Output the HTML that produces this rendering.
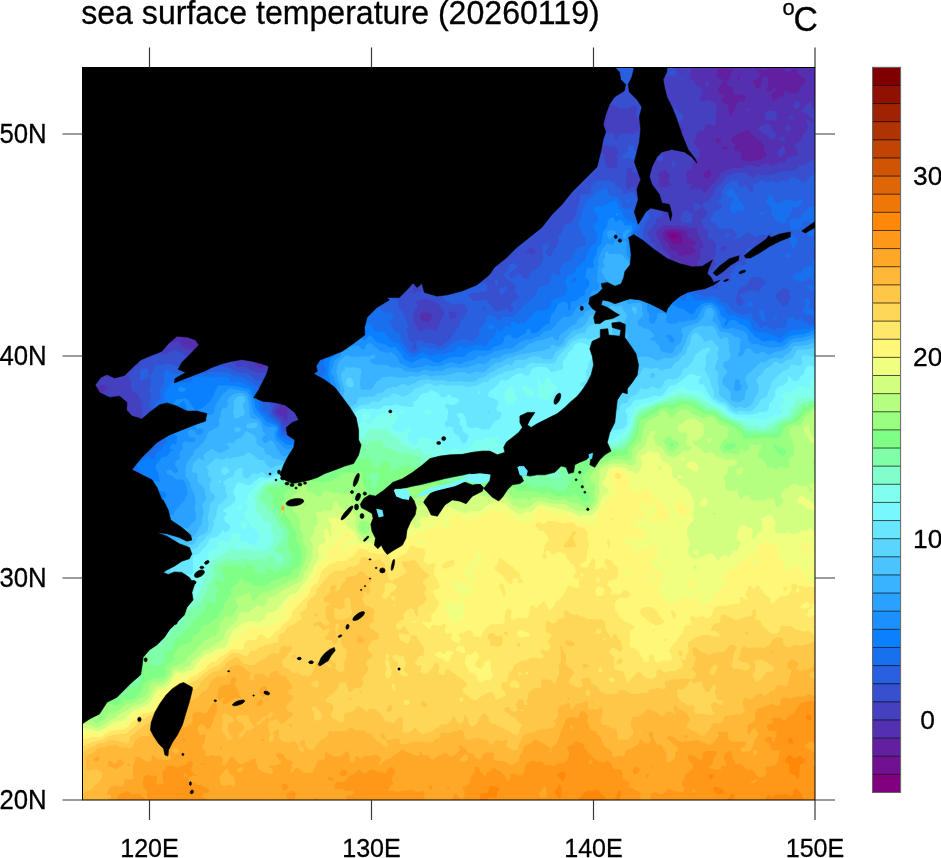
<!DOCTYPE html><html><head><meta charset="utf-8"><title>sea surface temperature</title>
<style>html,body{margin:0;padding:0;background:#fff}svg{display:block}text{font-family:"Liberation Sans",sans-serif;fill:#000;stroke:#000;stroke-width:.3px}</style></head><body>
<svg width="941" height="858" viewBox="0 0 941 858">
<rect width="941" height="858" fill="#fff"/>
<defs><clipPath id="mapclip"><rect x="82.5" y="67.5" width="732.5" height="732.5"/></clipPath></defs>
<g clip-path="url(#mapclip)">
<rect x="79" y="64" width="741" height="741" fill="#800080"/>
<path fill="#711090" fill-rule="evenodd" d="M82 66l1-1.5 2 .5 2 0 1.5-1 3 0 4 4 0 2-.5 .5-2-1-.5 .5 .5 2 0 2-.5 2 .5 .5 2 1.5 1.5 2 .5 .5 2 .5 2-1 2 .5 2 1 2 0 1-1.5 1-2 0-.5 .5-1.5 1-4 0-2-1-2-.5-.5-2-1.5-.5 0 0-2 2 0 .5 .5 .5 1.5 1.5 1 2 .5 2 0 4 2 2 0 2-1.5 1-2 .5-2 694.5 0 0 740-740 0 0-681 1 1 1 .5 2 2 2 3 2 2 1 .5 1 1 1.5 1 2.5 2.5 2 1.5 1.5-2 1-2 1.5-2 2-1.5 0-.5 .5-2 0-2-.5-1.5-.5-.5-1-2-.5-.5-2-1-2-.5-2 1-6 1.5-2 1-2-1.5-1.5-2-2.5-2.5 0-7.5 1.5-2 0-2-.5-2-1-2 .5-2-.5-1.5 0-27.5 1-1 1-1.5 0-.5ZM87 107l-1 1-1 .5-1 1.5-.5 2 1 2 .5 .5 2 0 2.5-2.5 .5-2-1-2 0-.5ZM117 101.5l-1 .5-1 1-2 1-2 .5-2 0-1 1.5 1 1.5 .5 .5 1.5 .5 1.5 1.5-.5 2 1 .5 2 .5 4 0 2-.5 1-.5 .5-2-1.5-6-1-2-1-1ZM131 96l-.5 0-1.5 1-1 1 0 2-.5 2 0 2 1.5 3 2 0 1-1 1-2 1.5-2 .5-.5 4 0 1-1.5-1-2-2-1-1-1-1-.5-2-.5ZM153 83l-.5 1-1.5 1-2 0-1.5 1-.5 0-2 1-1 1-1 4 .5 2 1.5 1.5 2 .5 2-.5 2-2 2 0 .5 .5 1.5 3 2 1 2-.5 2-1 2 0 .5-.5-.5-1-1-1-.5-2-.5-.5-2-1-2 1-1.5-1.5 1.5-1 .5-1 0-2-.5-1-2-2ZM181 128l-.5 0-.5 2 1 2 1-2-1-2ZM673 233.5l-1.5 .5-1 2 .5 1 1.5 1 2.5 0 2-2-1-2-1-.5ZM129 117.5l-4 2-.5 .5-1.5 1-.5 1-1 4-.5 1.5-1 .5 1 .5 .5-.5 1.5-.5 1.5 .5 .5 .5 .5-.5 1.5-2 2-1 1-1 .5-2 0-2-1-2ZM127 130.5l-2 1.5 .5 2-.5 1.5-.5 .5 .5 2 2 1.5 .5 .5 1.5 1 .5 1 1.5 1 2 1 2-1.5 1-.5 1-1 .5-1 0-2-.5-1-1.5-1-.5 0-1.5-2-.5-.5-2-1.5-2 0ZM96.5 72l.5 0ZM101.5 74l1.5-1 .5 1 .5 2-1 1.5-2-.5-.5-1 .5-1Z"/>
<path fill="#6220a0" fill-rule="evenodd" d="M151.5 64l62.5 0 .5 2 0 2 .5 2 0 .5 4 3 4 0 1.5 .5 1 0 1.5-.5 2 0 2-1.5 2 2 .5 0 1.5-1 .5-1 0-2 1-2 0-4 32 0-1.5 3-2 0-1.5-1-1 0-1.5 .5-2 .5-1 1 .5 2 .5 1.5 2 .5 2-1.5 6-1.5 2 2 4 1 2-1.5 1.5-.5 .5 0 2-.5 2 0 5 2.5 1 1 2 1 .5-2-.5-1-3-3-1-2-.5 0-1.5-1-1-1 535 0 0 740-740 0 0-534 1.5 2 .5 1 1 1 .5 2 .5 1 1.5 1 4.5 0 2 .5 2 1.5 2 1 1.5-1 .5-.5 2-.5 4 0 .5-1-1-2-2-2-3-2-1 0 0 2-1.5 3-2 0-2-1-1-2 1-1 .5-1 1.5-1.5 0-.5-1.5-2-1-2-1.5-1-2 0-2-2-1.5-1-.5-.5-4 0 0-50 1-1.5 0-2-.5-2-.5-.5 0-57.5 2 2 2 1.5 .5 .5 3 4 .5 .5 4 0 2 1.5 2 2 0 .5 .5 1.5-1 2 0 2 1 0 5.5-5.5 1.5-.5 .5 0 2-2 0-2-1-2-1-1.5-2-2-2-.5-1-2 0-2 1-2 2 1.5 2.5 2.5 1.5 1 2 2 2 .5 .5 .5 1.5 2 2 2 2 1.5 2 0 2.5 2.5 1.5 2 2 0 2 2-1 2-1 1-2 .5-.5 .5 .5 .5 .5 1.5 1.5 1 2 1 2-.5 2-1.5 .5-2 1.5-.5 2 1 2 2 2 0 2 2 1 1.5 3 3 2-.5 4 4 2 1.5 1.5 2 .5 .5 1 1.5 0 2 1 1 1.5 1 2 2 0 2 .5 .5 2 1.5 .5 0 1.5-1 2-.5 2-1 2 .5 2-.5 2-1 2 0 2 1 .5 .5 1.5 2 2 .5 1.5 1.5 .5 2-.5 2-3 4-.5 .5-2 1.5-.5 2 1 2 1.5 1.5 2 1 1-.5 1-2 1.5-2 2-2 1-2-.5-2 .5-2 1.5-2 0-.5 2-1 .5-.5-.5-1.5 0-1 2-.5 0-1.5-.5-1.5 .5-1.5 0-.5 2-1 2 0 1-1 .5-2 0-2-.5-2 0-2 1-2 2-.5 2 0 2.5 2.5 .5 2 1 .5 .5-.5 0-4 3-4 .5-2 0-2.5 .5-1.5 2-2-.5-1 0-1.5 1.5-1.5 .5-1.5 0-1-.5-1.5-1.5-1.5-4-2-2-2-2 .5-.5-1-1.5-1.5 0-1.5 2-2 2 2 2 0 1-1 1-2-.5-2-1-2-.5-1.5-1.5-.5-2-4 0-2-2.5-2.5-2-1.5 .5-2-4-4-1-2 .5-1.5 1-.5 .5-2-1.5-3-1-1-1-1.5-2-1-1 .5-1 4-2-1.5-2.5-2.5-1.5-3-2-1-2-1.5-.5-.5-1.5-1-.5-1-1.5-1-1-1 0-2-.5-2-2-2 .5-2-1-1.5-1.5 1.5-.5 0-2-1.5-.5-.5-1.5-1-2-2-.5-1 0-2-1.5-1-.5-1-.5-2-4-4-1-2-2-2 .5-2-.5-1-1-1 0-2-1-1-1.5-1ZM177 91l-.5 1 .5 .5 2-.5ZM179 92l-.5 2 0 2 .5 .5 2 .5 .5-1-1-2ZM189 79.5l-1 .5-1 4 1 4 1 1 2 .5 .5-1.5 0-2 1-2-1-2-2-2ZM221 163.5l-1.5 .5-.5 .5-.5 1.5 .5 .5 2 0 1-.5-1-2ZM223 177.5l-.5 .5-1.5 3-1.5 1 1 2 .5 0 4 2 2-1 1-1 1-2 1 2 2 2 1 1.5 1-1.5 .5-2-1.5-1-2-1 0-.5-2 0-.5-1.5-.5-2-1-1.5-2 1ZM231 85l-1.5 1-.5 .5-2 .5-1 1 .5 2 .5 .5 2-.5 4-2 .5-2-.5-.5ZM253 71.5l-1.5 .5-.5 .5-2 .5-2 1-2 2 0 .5 .5 1.5 2 4-.5 1.5-.5 .5-1.5 1 0 1-.5 2 1 2 1 4-1 2-.5 .5-1.5-.5-2.5 0-1.5-2-.5-.5-2-1.5-.5 0-1.5-.5-2-1-2 1.5 0 .5-.5 1.5 .5 1.5 0 .5 2 2 2 4 2 2 .5 0 1.5 1 2 1 3.5 0 .5-2 2-2 1 2-1 1-2 1 1 4 1 1 1.5-1 .5-.5 2-1.5-1.5-2 0-2-.5-2 1-2 0-2 1-.5 1.5-1.5 .5-2 0-1.5 2 3 .5 .5 1 2 .5 0 2 .5 1-.5-.5-2-.5-1.5-.5-.5 .5 0 .5-2 0-4-.5 0-2-.5-1-1.5-.5-2 0-2 1.5-2 0-1-2-.5 0-.5-1.5-6ZM293 75.5l-.5 .5 0 2 .5 2 0 1 2-1-1.5-2 0-2ZM299 98l-.5 0-1.5 1-.5 1 .5 1.5 .5 .5 1 2 .5 .5 0-.5 .5-2 0-2-.5-2ZM307 108l-4 1-1.5 1-.5 2 1 2 1 .5 1.5-.5 .5 0 2-.5 2-1 2-2 1-.5-1-1.5-2 0-1.5-.5ZM669 231.5l-1.5 .5-.5 .5-.5 1.5 0 2 1 2 3.5 3.5 1 .5 1 1 2 1 2-.5 2 .5 2.5 0 1.5-2-1-4 0-2-1-2-2-1.5-2-1-2 0-2-.5-2 0ZM81 236.5l-1.5 1.5 1.5 2 2 .5 .5-.5 0-2-.5-.5ZM115 166l-2 0-1.5 2 0 2 .5 2 0 2 1 2 2 0 2-2 1-4 0-2-1-1-2-1ZM119 165l-.5 1 .5 .5 .5-.5ZM175 215l0 1 1 0ZM177 218l0 2 .5 0ZM179 222ZM181 223.5l0 .5-1 2 1 1 2-1-1.5-2ZM183 226.5l-.5 1.5 .5 .5 1.5-.5ZM185 228.5l-.5 1.5 2.5 2.5 2 .5 1-1 0-2-1-1-2-.5ZM205 208.5l-1 1.5-1 1-.5 1-1.5 2 1 4-1 1-1.5 1-.5 .5-.5-.5-1-2 1.5-1 1-1-1-.5-2-2-2-1-4-1-2 0-1 .5-1 1-.5 1 0 8 .5 .5 2 3 2 1 1.5-.5 .5 0 2-1 2-.5 2 1 .5 .5 1.5 2 1 2 0 4-.5 2 .5 2 3 3 1.5 1 .5 .5 2 1 .5 .5 .5 2 1 2 2 .5 2 1.5 1 0-.5-2-2-4-.5-.5-2-1.5-.5-2 0-2 .5-1.5 0-.5 1.5-2 1-2 .5-2 1-2 .5 0 1.5-.5 1.5 .5 1 0 .5-2-2-4-1-1.5 0-.5-.5-2 0-2-2-4-2-2-1.5-1-2-.5-2 0ZM231 191l-1.5 1 1.5 2 .5-2ZM235 187.5l-1 .5 1 .5 .5-.5ZM237 181.5l0 .5-1.5 2 .5 2 1 1.5 2 0 .5 .5 1.5 1 2 1 1 2 0 2-1 2 0 .5-.5 1.5 .5 2 2 2 .5 0 1 2 0 2-2 2 .5 2 0 2 2 1 1 1 1 .5 .5-.5-.5-1.5 0-1 2-1.5 0-.5-2-1-.5-.5-.5-2 3-3 1 1 .5 2 .5 0 2 1 2 0 2-.5 .5-.5-.5-2 0-.5-2-.5-2 0-1.5-1-.5-1.5 0-4.5 1.5-2-1-2-.5-.5-2-.5-1.5-1-.5-.5-2-1-2.5-2.5-1-2-.5 0-2-2-2 1-1-1ZM239 147l-.5 1-.5 2 1 1.5 2-1 .5-.5 0-2-.5-.5ZM241 113.5l-.5 .5 .5 1 .5-1ZM243 145.5l-1 .5 1 1 .5 1 0 2 1.5 1 .5-1 0-2-.5-2ZM303 128l2 1.5 2 0 0-2-2-1ZM217 252l-.5 2 2 2 .5 0 2 2-.5 2 .5 .5 1 1.5 0 2 1 .5 1.5-.5 .5-2-1-2-1-1.5-1.5-.5 1.5-3 2-2 .5-1-.5-.5-1.5 .5-.5 .5-2 1-2-.5-2-1ZM231 232l-2 2-1.5 2 0 2 .5 2 1 2 2 0 1.5-2 1-2 0-4-.5-1ZM237 202l-1.5 2 .5 2 1 1 2 .5 1-1.5 0-2-1-2ZM243 231l-3 3-1 2 1 2 1 .5 2 0 2-1 1.5-1.5 1-2-1-2-1.5-.5ZM251 238l-.5 2 .5 2 .5-2ZM253 269.5l0 1.5 1-1ZM229 247.5l-.5 .5-1.5 1-1 1 1 1 2-.5 1-.5-.5-2ZM124.5 74l.5-.5 2 .5-2 .5ZM85 82l0-.5 2 0 1 .5 1 1 .5 1-.5 2-2-.5-2-1.5ZM253 82l1 0-1 0ZM121 84l2-.5 .5 .5 1 2-1.5 .5-.5-.5-1.5-2ZM254.5 88l.5-.5 2 1 1 1.5-1 2-1.5-2-.5-1ZM243 98l0-1 0 1ZM165.5 108l2 0 2 2-.5 0-2 .5-2 0-.5-.5 .5-2ZM172 108l1-.5 1 .5-1 1ZM174 110l1-.5 .5 .5-.5 .5ZM194.5 120l.5-.5 1.5 .5-1.5 .5ZM193 128l1.5 2 0 2-1.5 2-2-.5-2-3 0-.5 2-1ZM199 140l2-1.5 2-.5 2 1 1 1-1 1.5-.5 .5-1.5 2-.5 0-1.5 .5-2 0 0-.5-1-2ZM151 142l6-1.5 2 0 2 1 .5 .5 1.5 1 1 1 1 .5 6 0 .5-.5 1-2 .5-2 2 .5 1 1.5 1 2-.5 2 0 4-3 2-.5 1.5-2-.5-2 1-.5 0 0 2 .5 .5 1 1.5-.5 2-.5 .5-2 1-1.5 .5-.5 0-1.5 2-.5 1-2 0-2-1-2-2-2-1.5-2-1-1.5 .5-.5 0-2 2-1.5-6-.5-1.5 0-2.5 1-2 1-1.5 .5-.5 .5-2 0-2ZM161 150l-2 0-.5 2 .5 1.5 0 .5 .5 2 0 2 1 2 .5 .5 .5-.5 1-2 .5 0 1-2 2-2-.5-2-.5-1-1-1-1-.5ZM179 150l2-2 1 2 2 2-1 1.5-2 .5-1.5-2ZM135.5 154l1.5-.5 .5 .5-.5 .5ZM189 154ZM172.5 158l.5-1.5 .5 1.5-.5 .5ZM179 158l0-.5 0 .5 1 2-1 .5-.5-.5ZM174.5 162l.5-.5 1 .5-1 .5ZM134 164l1-1.5 1.5 1.5 .5 1.5 0 1-2 .5-.5-1ZM186.5 164l.5-.5 .5 .5-.5 .5ZM179 170l2-.5 2 .5 1 2 0 2-1 1-2 .5-2 0-2-1.5 0-.5 .5-1.5ZM227 182l1 0-1 0Z"/>
<path fill="#5430b0" fill-rule="evenodd" d="M171 64l5 0-.5 2 .5 2 0 2-1 2-1.5-2-1-2-.5-2-1-2ZM295.5 64l421 0 0 2 1 4-.5 2 0 .5-1 1.5 0 2 1 1 6 3 0 .5 1 1.5-1 .5-2 1.5-1.5 2-2 4 1.5 3 4 2 1 1-1 2-2 2 1 2 3 1.5 1.5 .5 .5 .5 2 1.5-1 4 1 4 0 1.5 1.5 .5 .5 0 1-2 1-1.5 0-.5 2-4 1.5-2 .5-2 1-2 1-.5 2 .5 2 0 2-2 .5-2-1-2-1.5-1.5-2-.5-4 1-2-.5-1-.5-.5-2 0-2-.5-1.5-.5-.5-1.5-1-2-.5-.5-.5-1.5-2 1-4 1-1.5 0-.5 2-4 1.5-2 .5-2-1-2-.5-2 .5-2 10.5 0 .5 1.5 .5 .5 0 2 1.5 .5 0-.5 1.5-2 .5 0 1-2 18.5 0 0 2 .5 2-.5 2-1.5 1-1.5-1-.5-.5-4-1-.5-.5-1.5-.5-2 0-.5 .5 .5 1 2 1 1.5 2 2 4-2 2-1.5 1-2 .5-1 .5-1 1.5-.5 .5 1 2 3 4 .5 .5 2 0 1-.5 .5-2 .5-1 0-1 1-2 1-4 2-2 2 1 1 1 0 4 .5 2-1 4-.5 1-1 1 3 1.5 2 0 2-3 1-.5 1.5 0 .5 2-1 1-2 1-1 2-.5 2 0 2 1 2 .5 .5 2 .5 1-1 1-.5 2-2 2-1 2 0 1-.5 0-4 1-1 2 .5 2 2 2 0 2-.5 4 0 .5-1 1.5-2 1-2 1-1 .5-1 2-2 1.5-2 0-.5 .5-1.5-1-2-1.5-1-2-1-.5 0-1.5-1.5-1-.5-1-2 0-.5-.5-1.5-1-4 0-2 11 0-.5 2 .5 2 .5 .5 2-2 2-1 1.5-1.5 6.5 0 0 740-740 0 0-486 .5 0 1-2-1.5-.5 0-6 1.5 .5 .5 .5 1 1.5 1 2 1.5 2 1 2 0 2 1 2 .5 0 2 .5 2 0 2-.5 2-2 0-1 .5-1-.5 0-2-1.5-2-.5-1.5-2 1.5-3 2 .5 2-.5 1-1 1-1.5 2-2 2-.5 0-1-1.5-3 .5-2 1-2 0-.5-.5-1.5-1-2-.5-.5-1-1.5-1-1-2-1-2 .5-2 0-.5-.5 0-2 .5-.5 2-.5 4 0 2-.5 2 1.5 .5 0 1.5 2 1 0 1 .5 2-1 2-.5 2 0 1 1 0 4 1 2 0 .5 .5 1.5 1 4 .5 1 1 1 1 .5 2-.5 .5 0 1.5-.5 2 1 .5 1.5 .5 2-1 2-4 0-2 .5-1.5 1.5 .5 2 1 1 2 1 2 0 2-.5 2-1 .5-.5 1.5-2 2 .5 3.5 3.5 .5 0 2 1.5 1.5 .5 .5 .5 2 .5 2-.5 2 .5 .5 1 .5 2 1 2 2 1 2-.5 .5-.5 1.5-1 1-1 1-1.5 1-.5-.5-2-.5-.5-2-1-.5-.5 .5-2 2-1.5 2-1 1.5 .5 .5 0 2 1.5 1 .5 0 2 .5 2 2.5 0 4 1 2-.5 2 0 2-.5 6.5 0 2-2 1-2-.5-2 1-1 2 1 2 0-1.5-2-.5-2 .5-2 1-2-1.5-2-2-1-1-1-3-1.5-1.5-.5-.5 0-2-1-2-.5-2 .5-1.5 1-2.5 0-1-2-1-1.5-2 1.5-1 2-1 1-2 0-2-1-.5 0-2-2-2-4-.5-2 1-1 2-1 1 0 1-.5 1.5 .5 .5 0 1 2 1 1.5 2 .5 1.5-2 2.5-2.5 4-1 4 1 1.5 .5 .5 0 2 .5 2-1 1-1.5 1-1 2-4 1-1 1-2-3-6-.5-2 1.5-2 0-1-2-.5-.5-.5 .5-1.5 2 1.5 2 .5 1-.5-1-2 .5-2 2-4 1.5-1.5 0-.5 2-1.5 2 0 1.5 1.5 .5 1.5 0 2.5 1.5 2 .5 1 1.5 1-2 2-1.5 .5-2 .5-2 1-.5 2 0 2 .5 2-1 2-1 1.5-.5 .5 .5 1.5 .5 .5 1.5 .5 1.5-.5 .5 0 2-1.5 2 1.5 2 2 2 1 1 1 1 .5 2-.5 .5-2 1.5-1 2 .5 1 .5 1 1.5 2 2 1 .5 1 1 2 1 1.5-2 0-4 .5 0 4-1 4 0 2-1 2-2 0-1 2 .5 0 .5 1.5 2 1 2 1.5 .5 2 1.5 2-.5 2 0 .5 .5-.5 2-2-1-1 1 1 1.5 0 .5 1.5 2 .5 .5 .5 1.5 0 2 .5 2-1 1.5-1.5 .5-.5 0-2 .5-2 1.5-2 1-1.5 1-.5 .5-1 1.5 0 6 .5 2 .5 .5 2 1 2-1 1.5-.5 .5-.5 2-1 2 1 2 .5 2 0 2 1 .5 1 1.5 1.5 8 2 2 1 1.5-.5 .5 0 2 .5 2 0 .5-.5 1-2 0-2-.5-2 2-2 1-2-.5-2-1-2-.5-.5-.5-1.5-1-2-.5-.5-2-1-1.5-.5-2-2-.5-1-1-1 4-2 .5-2-.5-2-2-4-1-1-.5-1 .5-2 0-.5 2-1 4 1 2-1 .5-.5 1.5-2-1-4-1-2-.5 2-1 2-.5 .5-2 0-.5-.5-1.5-2-2-1.5-2.5-2.5-1-2 1.5-3 1.5-1-1-4 .5-2 1-1.5 0-.5 1-4 1-1.5 2.5-2.5 0-2-.5-1.5-.5-.5-.5-2 0-2 .5-2 .5 0 4-1 2 0 2-.5 2 0 2.5-2.5 .5-2-1-2-.5-2 .5-1.5 .5-.5 1.5-2 2-1 4-1 2-1 2-.5 2 .5 1 1 1 2 0 .5 2 .5 1.5-1 .5-.5 6-1.5 2 0 2 .5 .5-.5 1-2 .5-.5 .5-1.5 1-2 .5-.5 4-1 1-.5 1-1 .5 1 1 4 .5 .5 2 .5 1-1-1-1.5-.5-.5 0-2-.5-2 .5-2 0-2 .5-1 2-.5 2 .5 2-1 1 0 1-.5 1 .5 1 2 0 .5 .5 1.5 1 2 .5 .5 2 1.5-.5 2-1.5 1.5 0 .5-1 2 .5 2 .5 1 2 0 1.5 1 .5 .5 2 0 .5-.5 1.5-1 1-1 .5-2-.5-2-2-2-.5-2-.5-1-2 1-1.5 0 0-2-1-2 0-2-3-4 1-2 .5-.5 1-1.5 1-2 0-2-1-4 0-2-1-4-1.5-2-.5-1-1.5 1-.5 0-2 8-2 1.5-.5-1.5-1.5-1.5-1-.5-.5-2-.5-1.5 0-2.5 .5-2-.5-1.5 0-1 2 0 .5 .5 1.5 1 2 0 2 1 0 1 .5-1 0-4-.5-.5-1-1.5 .5-2 .5 0 2-.5 2 0 2-2 2 0 1.5 .5 .5 .5 0-.5 1-4 1-1 .5-1 .5-2 1-1.5 .5-.5-.5-2 0-.5-2-2-4 1-1-.5-2-2-1-1.5-2 0-2-1-2-1.5-2 1-1.5-1-2.5-2.5-2-1-2-.5-1.5-2 1-2 .5-1.5 0-2.5-1-2-1-1-1.5-1-.5-.5-1-1.5-1-4 0-2.5 1-1.5 3-1.5 2 0 .5-.5 1.5-.5 1.5-1.5 .5-1 2-2 2-1 1.5 2 .5 0 1.5 2 4 4 .5 1.5 1.5 .5 1 0 1.5-.5 1-1.5 1-1 2 1 1-2 0-2-2-2-1-1.5-.5-.5-1.5-2-2 0-1-2-1-1-.5-1 0-2 .5-1 2-1-2 0-1-2-1-1-1.5-1-.5-.5-2-.5-1.5-1 0-2-.5-2-1.5-2-2.5-2.5-2 0-2-2-2 0-2-1.5-.5 2-1.5 .5-2-2 0-.5-2-2-.5-2-1.5-3-2-1-1.5-2-.5-.5-2-.5-1-1-1-2-2 .5-2 0-.5-.5-1-2 1.5-1.5 2 0 2 .5 0-2-.5-1 1-2-.5-1-1.5 1-.5 .5-.5-.5ZM309 66ZM665 230l-2 2 0 1-.5 1 0 2 .5 1.5 0 .5 1.5 2 4 4 1 2 .5 2 1 1.5 2 1 4 1 1.5 .5-1 2 1.5 2 2 .5 2 0 .5-.5 1.5-1 2 0 2 .5 2-.5 2-1 2-1.5 .5-.5-.5-2 0-.5-2-1.5-2-2 4-1 1-1-.5-2-.5 0-2-1.5-.5-.5-1.5-1-2-1-1.5-2-.5-2 0-2-2-1.5-1.5-.5-.5 0-4-1-10 0-2 .5ZM709 169.5l-.5 .5-1.5 .5-2 1.5-1.5 2 0 2 1.5 2 3 0 1-.5 1.5-1.5 0-2 .5-1 0-3ZM715 161.5l-.5 .5 .5 0 2 .5 .5-.5-.5-.5ZM717 138l-2 2 1 2 1 1 2 0 2-1 .5-2-.5 0-2-1.5-1.5-.5ZM727 145.5l-1.5 .5-.5 0-2 1.5-1.5 .5 1.5 1.5 4 0 1.5-1.5-1-2ZM745 130l-2 1.5-.5 .5-1.5 1-4 1-2 2-.5 0-1.5 .5-1.5 1.5-.5 2 .5 2 1.5 1 2 1 0 2-1 2 .5 2 .5 0 2 1 2 .5 1 .5 1 1.5 0 5 1.5 1.5 .5 0 4 1 8 0 4-1 .5 0 1.5-.5 2-1 .5-.5 3-2 .5-1 0-1.5-2-2-1-1.5 .5-2 0-2-2-2-.5-2-1-1.5-2 1-1-1.5-1-.5-1-1.5-1-1-1.5-1-2.5-2.5-1-1.5-1-1-2-1-2 0ZM739 74l-.5 2-1.5 3 0 1.5 2 0 0-.5 .5-2 0-2ZM741 72l-2 2 2 1 .5-1-.5-2ZM193 292l-.5 0 0 2 .5 .5 2 0 1.5-.5-3-2ZM201 293l-.5 1 .5 0ZM231 288.5l-2 1.5 0 2-2 1-1.5 1-.5 .5-2 .5-2 1 2 4 2 .5 2 0 2-.5 1-2 0-2 1-2 2 0 2-1 1-1 0-2-1-1-2-.5ZM243 329l0 1 2 1.5 .5-1.5-.5-1.5ZM247 337l-1 1 1 .5 .5-.5ZM257 334l-.5 0-1.5 2 0 2-4 4 0 .5 .5 1.5 1.5 1.5 6 0 1.5-1.5 0-2-1.5-3-1-1 0-4ZM277 263.5l-.5 .5 0 2 .5 .5 .5-.5-.5-2ZM319 222.5l-.5 1.5 0 2 .5 .5 2-.5 1-2-1-2ZM329 227.5l-.5 .5 .5 1 .5-1ZM195 326l-.5 0 .5 0ZM245 335l0 1.5 1-.5ZM772 64l3 0-2 1ZM783.5 64l9 0 0 4-1.5 3-2 .5-2 0-2-.5-1-1-1-2 .5-2ZM198.5 74l1.5 0 1 .5 .5 1.5-.5 1.5-2 0-.5-1.5ZM208.5 74l.5 0 .5 2 2 2-.5 .5-2 0-.5-.5-.5-2ZM215 84l1 2 1 1.5 0 .5 2 2 .5 0 .5 2 1 2-2 4 .5 2 1 2 .5 1.5 .5 .5 .5 2 1 2 0 2 .5 2 1.5 2 0 .5-2 .5-.5-1-2-2 .5-2-.5-2-3-2-.5-.5-1 .5-.5 2 0 2-.5 2 0 2.5-.5 1.5-1.5 1.5-2 0-2-1-.5-.5 0-4-1.5-2-2-1.5-1-.5-1-1-1.5-3 0-6-1-2-.5-2 .5-2 .5-.5 2-1 .5-.5 1.5-2 2 4 2 0 1-4 0-2 1-.5 2-.5ZM215 100l-.5 0 .5 0ZM273.5 84l1.5-1.5 2 1 0 .5 .5 2 0 2-.5 1-2-.5-.5-.5-1-2ZM284.5 84l.5-.5 2-1 2 .5 1.5 3 0 2 .5 1.5 .5 .5 1.5 1 .5 1 0 2-.5 2-1.5 2-2.5 2.5-.5-.5-1.5-2-2-2-.5 0-1.5-1-2-1 0-2 2-1.5 .5-.5 1-2-.5-2ZM791 84l0 .5ZM279 94l2 0-2 0ZM224 106l1-1 .5 1-.5 1ZM270.5 114l.5-.5 0 .5 1.5 2 1.5 6 1 1.5 2-.5 1 1-3 1.5-.5 .5-.5 2-2 2-.5 2 .5 2-2 2-1 .5-.5-.5-1.5-2-2-2-2 .5-2 0-2-.5-2 .5-2 1.5-2 2-1-2-1-1-4-2-1.5-1 0-2 1.5-2 2-1 2 .5 1-1.5 1-1 1.5-1 0-2 .5-1.5 2.5-2.5 1.5-1 2-.5 2 .5 2 0 2 .5 2-.5ZM218 118l1-.5 .5 .5 0 2-.5 1-2 0-.5-1 .5-1.5ZM279 120l2 0 2 1.5 1 .5-.5 2-.5 .5-2-.5-1-2-1-1.5ZM219 124l0-.5 .5 .5 1.5 .5 2 1.5 0 2.5 .5 1.5-.5 .5-2 0-2-.5 .5-2-.5-2 0-1ZM226 130l1-.5 .5 .5 1.5 .5 2 0 2 .5 .5 1 .5 2 0 2-2 2-.5 2-.5 .5-2 1.5-1.5-2-1-2 0-6ZM277 132l2-.5 .5 .5 1.5 2 0 .5 1 1.5-.5 2-.5 1.5-1-1.5-3-1.5-.5-.5-.5-2ZM211 136l0-.5 0 .5ZM281.5 142l1.5-1.5 .5 1.5-.5 1ZM260.5 144l.5-.5 2 0 .5 .5-2.5 0ZM216.5 152l.5-2 1 2-.5 2-.5 0ZM289 154l2 0 2-1 1 1 0 2 1 .5 2 .5 2 1 2 0 .5 2 1 2 .5 .5 2 .5 2 0 1.5 1 .5 .5 2 1 .5 .5 1.5 2 0 2-1 2-1 1-.5 1 1 2 0 2-.5 1.5-1-1.5-1-1-1.5-1-.5-.5-1 .5-.5 2-.5 1-1.5 1-.5 2 2 1 1.5 1 .5 1.5 0 2.5 1 2 0 2-1 1-2-.5-1-.5-1-1.5-2-.5-2 .5-2-.5-2 1-2 0-2-.5-.5-.5-1.5-2-2-1.5-2 0-2 1-2-1.5 0-2-1-2-1-1.5-2-2-1-.5-1.5 0-3.5 3.5-2-.5-.5-1 0-2-.5-2-1-1.5-.5-.5-1-2 1.5-1 2-.5 2 1 2 .5 1.5-2 0-2 .5-2 2-1.5 2-2 2 0 2 2 1.5-.5 .5-.5 0-1.5-1.5-2 1-2 .5-.5 2-1.5ZM324.5 168l.5-.5 2-1 1.5 1.5 1 2-.5 1.5-2 0-2 .5-1-2ZM102 178l1-1 1 1 1 1.5 0 .5 .5 2 1 2 0 2 .5 .5 .5-.5 1.5-.5 2 0 2 1 1 1.5 .5 2 .5 .5 1 1.5 4 4 1 .5 2 0 2-1 2-1.5 2-1 2 0 2 .5 .5 .5 1 2-1.5 2-2 1.5-2 0-2 .5-1.5 2-.5 .5-2 .5-2-1-.5 0-1.5-1-2 0-2 2-.5 1-1.5 1.5-2 1-2 .5-4 0-.5-1-1-4-.5-1.5-.5-.5-1.5-2-2-1-2-.5-6 0-4-4-1-.5-1-1.5-.5-.5 2.5-2.5 2 .5 2 1.5 2 1 2-.5 6-3 .5-1 0-2 1-2 .5-2ZM87 180l2-1.5 .5 1.5-.5 1-2-.5ZM147 184l0-.5 2 0 .5 .5-.5 .5-2-.5ZM269.5 188l1.5-.5 2 1 .5 1.5 1 2 .5 1.5 0 .5-2 .5-2 0-2-.5-1-4 1-2ZM279 190l0 .5ZM159.5 200l1.5-2 .5 2 2 2-.5 2 0 2-.5-2-1.5-1-.5-1ZM141.5 206l2 0 1.5 1 2 1 2-.5 4 0 2-.5 2 0 4 1 2-2 2-.5 .5 .5 1.5 1 3 3 0 2 1 2-2 1-2 .5-2-.5-2 0-2 .5-1.5 .5-1.5 0-3-1.5-1.5-.5-.5 0-1.5 2 1.5 1 1 1 1 1.5 .5 .5 1 2-1 2-2.5 2.5-1.5-.5-.5-1 0-1-1.5-6 .5-2-1-.5-2-1.5-2 0-2-.5-2-1.5-.5 0-1-2 0-2 1.5-1.5ZM309.5 206l1.5-2 .5 2-.5 2ZM256.5 214l.5-.5 2 0 2 1 .5 1.5 2 4 0 2 .5 2 0 2 2 4 .5 2-1.5 2 0 .5-2 .5-2-.5-1.5-.5-.5-.5-2-1-.5-.5 1-2-.5-1.5 0-1 .5-1.5-.5-1.5-2-2-2-.5-.5 0 0-2-.5-2 1-.5 2-1.5ZM164.5 236l.5-1.5 2 0 1.5 1.5 .5 2-1 2-1 1-2 0-1.5-1 0-2ZM190 238l1-.5 2 2 2 0 .5 .5-.5 2-4-1-1-1ZM195 242l2-.5 2 2 2 0 2 2 2 0 .5 .5 1.5 2 1 0-1 1.5-2 .5-2-1-1.5-1-.5-.5-4-3-.5-.5ZM102.5 248l.5-1.5 2-.5 2 .5 2 1 2 .5 2-.5 2 0 .5 .5 1 2 1.5 6 1 .5 2 0 1.5-.5 .5 0 2-.5 2 .5 .5 0 1.5 .5 2 0 2-1 2 0 1.5 .5 .5 .5 2 0 2 .5 1 1-.5 2 0 2-1 2 0 2 2.5 2.5 2 1 2-.5 .5 1-.5 .5-2 0-1 1.5-1 .5-1.5 1.5-.5 2 1.5 2 2.5 2.5 1 1.5 2 4-1 .5-.5-.5-1.5-2-2-1-2-.5-.5 1.5-.5 2-1 1-2 .5-4 0-2 2-1.5 .5-.5 .5-1-.5-3.5 0-1.5 1-2 1-2-1.5-2 0-2-1-2-2-1-1.5-1-1-1.5-1-.5-.5-1-1.5-1-2 2-1 2-.5 2 0 1-.5 1-2-.5-2-1.5-2-2-2 0-.5-1-1.5 1-2 2-1 2 0 1.5-1 1-2-.5-.5-.5-1.5-1.5-2 0-.5-2-2-2-1-.5-.5-1.5-1-2 0-1.5-1-2.5-2.5ZM131 270l-1.5 2-.5 2 0 2.5 1 1.5 1 .5 2 .5 2 0 2-.5 2 0 .5-.5-.5-.5-2 .5-1-4 0-2-1-2-2-1ZM141 279.5l-.5 .5 .5 1 .5-1ZM152.5 258l1.5 0 1 .5 1.5 1.5 0 2-2 2-1.5 2-1 0-1-.5-1-1.5-.5-2 0-2 1.5-1.5ZM170 258l1-1.5 2 0 2 1 .5 .5 3 2 .5 1 1 1 1 1.5 1.5 .5-1.5 .5-2 .5-2 0-2-1-2 0-1 2 0 2-.5 2-.5 1.5 0 .5-1.5 2-.5 1.5 0 .5-.5 2-1.5 1.5 0 .5-.5 2-1.5 1-2 1-2 1.5-2 0-2-3-2 0-2-.5-.5 0-1.5-2 1-4 0-4 1-1 2-1 4 0 2-.5 2-1.5 0-2.5-.5-1.5 .5-2 2-1.5 2 0 2-.5ZM204.5 264l.5 0 2 1 .5 1-.5 .5-2-.5-.5 0ZM230.5 264l.5-1 2 .5 .5 .5 1.5 2 .5 2-.5 2-.5-2-1.5-1-2-2ZM235.5 270l1.5-.5 .5 .5-.5 2ZM128.5 294l.5-1 2-1 2 1 1.5 1 .5 .5 1 1.5-1 2-2 1.5-.5 .5-.5 2-1 .5-.5-.5-1.5-1-.5-1-.5-2 .5-2ZM79 298l0-1 2 1 1 2-2 2-1 .5 0-2.5ZM137.5 302l1.5-1.5 2 .5 1.5 1 .5 1.5 2 2 2 .5 .5 0 .5 2-.5 2-1 2-1.5 .5-.5-.5-1.5-1-2-1-2-1.5-2-.5-2-2 0-2 2-1.5ZM147 314l0-.5 0 .5Z"/>
<path fill="#4540c0" fill-rule="evenodd" d="M316.5 64l2.5 0 2 1.5 .5 .5 1.5 2 2 2 1 2 0 2-1 1-4 1-2-1.5-1-.5-1-1.5-1-.5-1-1-.5-1 .5-1.5 0-.5 1-2ZM340.5 64l361 0-1 2-1.5 2-.5 0-1.5 .5-2 0-2-.5-2 2-1 2 0 4 .5 2 .5 1.5 2 .5 2 2 0 2 2 2 4 2 1 2 .5 2-.5 2-1 1.5-.5 .5-1 2 .5 2 3 1.5 2 0 4-2 1.5 .5 .5 0 1.5 2 .5 0 2 1.5 .5 .5 1.5 2 0 2-1 2 0 10-.5 2 0 2-.5 1.5-2 0-2-.5-2-1-2 0-2 2-1 4-1 .5-2 0-2 .5-1.5 1-.5 .5-.5 1.5-1 4-.5 1-1.5 1 0 2 1.5 3 1 1 1 1.5 1 .5 1 1.5 .5 .5 0 6-.5 2-2 1.5-.5 .5-1.5 1-1 1-1 1.5-.5 .5-1 2 .5 2-1 1.5-2-.5-1 1-1 .5-.5 1.5 0 2 .5 2 0 2.5-.5 1.5 0 2 .5 .5 2 1 2 0 1 .5 .5 2-1.5 1-.5 1 0 2 1 0 1.5-1 2-.5 4 0 2 .5 1 1 1 1.5 2 1 1-.5 1-1 .5-1 4-4 3-4 2.5-2.5 2-1.5 1-4 1-1 2-1 .5 0 1.5-1.5 2-1 2 0 2-1 2-.5 4 0 2 .5 2-.5 .5 0 1.5-1 2-1 .5 0 1.5-.5 2-.5 2 0 2 .5 1.5 .5 .5 0 2 1 2 0 1-1 1-.5 2-1.5 4 0 2 .5 2 1 2 0 2-1 1.5-.5 .5-.5 2-1 2-.5 2 .5 2-.5 1.5-2 .5-1 2-2 4-1 .5 0 1.5-.5 2-.5 1-1 0-2-1-2-1.5-2-.5-.5-1-1.5 1-1.5 .5-.5 3-2 .5-.5 2-1 .5-.5 1-2 0-2 .5-.5 .5-1.5 4-4 1-2-.5-2-1-1.5 0-.5-.5-2 0-2 .5-.5 1.5 .5 .5 0 1.5 2 .5 .5 2 0 .5-.5 0-2-.5-.5-2-1.5-1 0-1-2-1.5-2-.5 0-4-2-1.5-2 1.5-1.5 0-.5 2-1.5 2-2 1-.5 1-1.5 1.5-.5 1 0 .5 2 0 2 1 2 2 0 2-1 1.5-1-.5-2-1-1.5-.5-.5 2-2 .5-2-2-1.5-.5-.5-.5-2 1-1 2-1 0 712-740 0 0-399 1.5-3 0-2-1.5-.5 0-28.5 2 0 2-.5 2 0 2 1 1.5 .5 .5 .5 2 0 2-1 2-1.5 0-2-1-4 0-2 1-1.5 0-.5 2-1.5 4-4 4 0 2 1.5 1.5 2 2.5 2.5 2 3 .5 .5 .5 2 1 2 2 .5 1.5-.5 .5 0 1.5-2 .5-.5 .5-1.5-.5-2 0-.5-.5-1.5 .5-1.5 .5-.5 1-2 0-2-.5-2-1-1.5-.5-.5-1.5-1-2-.5-2 0-1.5-.5-3 0-1.5 .5-2-.5-.5 0-1.5-2 0-2 1.5-2 .5-1 1-1 1-1.5 .5-.5 0-2 1-2 .5-.5 2-1 2-.5 .5 0 1.5-.5 1.5-1.5-.5-2-1-1.5-.5-.5 .5-1 2 0 4 2 2 .5 4-1 2 0 2 1 .5 .5 1.5 2 0 .5 .5 1.5 0 4 .5 2 1 2 4 4 0 .5 1 1.5 1 .5 2 0 2.5-2.5 1.5-1 2 .5 1.5 .5 3.5 0 2-2 1-2 2-1 4-1 2 0 2 2 .5 2 1.5 1 2 0 1.5-1 .5 0 2-1 2 .5 .5 .5 1 2 .5 2 2 1 1.5 1 .5 0 2 1.5 4 0 2 .5 .5 0 1.5 .5 4 0 2-1 2-.5 2 0 2 .5 2-.5 1.5-1 .5-.5 2 0 2-.5 1.5-1 .5 0 2-2 .5 0 1.5-1 1.5 1-1 2 0 4 1.5 .5 2-.5 2 1.5 0 .5 1.5 2 .5 .5 4 3 1.5 .5 .5 .5 1.5-.5 .5 0 2-1.5 .5-.5 1.5-.5 2 0 4-2 2-.5 2 .5 0 .5 1 4 1 .5 2 2 .5 1.5 0 2 .5 2 1 1 4 1 2-.5 2-1.5 0-.5 1-1.5 .5-2 .5-1.5 2-.5 .5 0 1.5-.5 4-1 2.5-2.5 1-2 0-2-1-4 1-2 .5-.5 2-1.5 2-2 1-2 1-1.5 2-.5 2 .5 2-.5 .5 0 1.5-.5 3-1.5 1-1 2-1 2 0 .5-2-.5-1-2-1-2 0-2-1-1-1-.5-2 0-2 2-2 1.5-1 2-.5 .5-.5 0-2-.5-2-1.5-2-1-2 0-4-.5-2-1-1.5-.5-.5-1-2 0-2 .5-2 0-4 1-.5 2-1.5 2-.5 3-1.5 1-4-2-1.5-4-4-2 0-1-.5-1.5 0-.5 2 0 2-1 1.5-.5 .5-1.5 1-2-1-1-2 0-2 1-2 0-1 .5-1-.5-.5-2-3-.5-.5 0-2 .5-2-.5-2 .5-1 2 .5 2 0 2-.5 .5-1 .5-2 1-2 2-1 2 .5 2-.5 2-1 2-1.5 1.5 1.5 1 2 1.5 1 4 0 2-1 0-.5-.5-1.5-1.5-1-2-.5-.5-.5-1.5-1-1-1-1-1.5-.5-.5 .5-2 1-2 0-2-.5-2-.5-1.5-.5-.5-.5-2-1-1.5 0-.5-1-2-1-1-2-.5-.5-.5-1.5-1-1.5 1-.5 .5-2 .5-2-.5-2 0-1.5 1.5 0 2 1 4 0 2-2 2-3 4-1 0-1.5-1-1 1-1 .5-2 0-.5-.5 .5-2 2-.5 .5-1.5-.5-.5-1-1.5 0-4 1-2 2.5 0 1-2 .5-2 0-.5 .5-1.5 1.5-1.5 2-.5 2-2 0-.5 4-1 2 2 2 1.5 0 .5 4 0 2 1.5 1 2 0 2 1 1 .5-1 1.5-1 2 .5 0 .5 1 2 1 1.5 .5 .5 1 2 .5 .5 .5 1.5 1.5 1 2 1 .5 2-.5 .5-2-.5-2 0-1.5 2 1 2 .5 .5 4 1 1.5 .5 .5 0 2 1.5 2 0 .5 .5-.5 1.5 0 .5 1.5 2 2 0 0-2-.5-2 1-2 0-2 2-4 0-.5 .5-1.5 .5-2-.5-2 2-4 1.5-2 .5 0 1 2 .5 .5 .5-.5 .5-2-1-1-.5-1 0-2 .5-.5 3-1.5 1 0 1.5-2 .5-.5 2-.5 2 1 0 .5-.5 1.5-1.5 2 0 4 .5 2 1.5 3 2 .5 2 0 2-.5 2-1 2-2 .5 0-.5 0-1.5-2-.5 0-1.5-2-2-4 1-2 .5 0 2-1 2 0 4 2 .5-1-.5-1.5 0-1.5 2 0 .5-1-.5-1-2 0 0-1-.5-2 .5-1.5 .5-.5 1.5-3 .5 1 .5 2 1 1.5 0 2.5 2 1.5 2-1.5 0-2.5-1-1.5-.5-2 2-4 0-2-.5-2 1.5-6 0-2-1-2 .5-2 1 0 2-1 1.5-1 .5-.5 .5-1.5-.5-2 0-2 1-4 1-2 0-1 1-1-1-2 0-2-2-1.5-1-.5 0-2-1-2 0-1-2 .5-2 1-2-1-1.5-1.5-.5-1-.5 1 0 2 .5 2 0 1 .5 1 .5 2-1 1 0 1-1 2 0 2-1 .5-2 3-.5 .5-2 4-1.5 2-1-4 0-6 .5-2 0-2-.5-2 .5-2 0-6-1.5-1-1-1 1-4 2 1 .5 1 1.5 2 1-2 .5-2 .5-1.5 .5-.5 1.5-1 2 2 2 1 .5 0 1.5 1 2 1 1-4 0-4-2-2 .5-2 0-4-2-2 0-4-2-2-.5-2 0-2-.5-2-.5-.5-2-1.5 0-2 .5-2-.5-.5-1-1.5-.5-2 0-2-.5-.5-2-1.5-2-.5-2-1.5 0-.5-.5-1.5-1-2-.5-1.5-.5-.5 .5-2 1-2 .5-2-.5-2-1-2 0-1-1-1-1-1.5-.5-.5 .5-1.5 0-.5-2-1-1 1 .5 2-.5 2-1 1.5-1 .5 1 1 0 1 .5 2 0 2-.5 0-2-2-.5-2 .5-2 0-1 .5-1-.5 0-2-1.5-1-.5-1-2 0-.5-.5-1.5 1-2 1-4 .5-1.5 .5-.5-.5-.5-1-1.5-1-1-1.5 1-.5 1-2-1-1-2 0-2-.5-2 1.5-.5 1-1.5-.5-2 .5-2 1-1.5 0-.5 1-4 1-2ZM345 73.5l-1.5 .5 0 2-.5 2 1.5 2 .5 0 2 1 0-1-1.5-2 0-4ZM371 166l-.5 0 .5 0ZM401 171l-1.5 1 .5 2 1 1.5 2 0 .5-1.5-.5-.5-2-1.5ZM421 313.5l-.5 .5-.5 2 .5 2 .5 1.5 0 .5 4 2 3 0 1-.5 1.5-1.5 1-2 .5-2-1-1.5-.5-.5-1.5-1-2-.5-4 0ZM661 171.5l-1 .5-1 1-.5 1 0 4 1 2 0 2-.5 1.5 0 .5-.5 2 .5 .5 4 1 2 0 4-1 1-.5 1-1 2-.5 1-.5-1-.5-2 .5-2-1-.5-1 0-2 .5-1.5 .5-.5 1-2-3-4-.5-.5-2-1.5-2 .5ZM679 127l-1.5 1 1 2 .5 .5 4 1 0-1.5-1-2-1-.5ZM685 133.5l-.5 .5 .5 .5 0-.5ZM87 396l-2 1.5-.5 .5-1 2 1.5 2 0 2.5-.5 1.5 0 2 .5 .5 2 1 2-.5 2-2 1 1 3 1.5 2-1 .5-.5-.5-1.5 0-.5-1.5-2-.5-.5-2 .5-2 0-2-2-.5 0-1-2 .5-2-1-2ZM93 386l-2 0-2 2 2 1.5 3-1.5-.5-2ZM101 385l-1.5 1-2 2 1.5 3 1.5 1 .5 1 2-1 2-1.5 .5-.5 1.5-2 .5-2-.5-.5-2-.5-2 0ZM103 363.5l-.5 .5-.5 2 1 2-.5 2 0 2 .5 1.5 0 .5 2 2 2 1.5 2 0 2-1.5 1.5-6-1.5-1.5-1.5-.5-.5 0-2-1-1.5-1-.5-1-1-1ZM123 343.5l0 1 1 1.5 1 1 .5 1 1.5 1 2 .5 3-1.5-.5-2-.5-.5-2-1-2 .5-2-1ZM221 351.5l-.5 .5 .5 0ZM281 399.5l0 .5-1 2 0 2 .5 2-1.5 1-2 2-1.5 3 1.5 2 2 1 1.5 1 .5 0 2 1 1 1 .5 2 .5 .5 2-.5 .5-2-.5-2 1-4-.5-2-1-2-1.5-2 0-2 .5-2-1-2-1.5-1ZM287 346ZM299 264.5l-1 1.5-1 2 1 2 1 .5 2 2 1 1.5 1 4 0 .5 2 3 2-1.5 2 1 2 .5 1.5 .5 2.5 0 2-2-.5-2-1-2-.5-.5-2-3-1-.5 0-2-1-.5-2 0-2-1-2 .5-1-1-1-2 0-.5-2-.5ZM321 281l-1 1 1 .5 .5-.5ZM371 205.5l-.5 .5 .5 .5 .5 1.5 1.5 1 2-.5 .5-.5-.5-2-2-1ZM663 225.5l-.5 .5-1.5 2-2 1-1.5 1-.5 1-1 1 .5 2 .5 1.5 0 .5 2 4 0 .5 1 1.5 4 8 5 5 .5 1 .5 2 0 2 1 1.5 2 0 2-1 2 0 2 .5 2 1 4 4 2 1 1 1 1 .5 2 .5 2-.5 1-.5 1-1 2-1 0-.5 .5-1.5 0-2 1.5-1.5 0-.5 1.5-2 .5-2 0-2-.5-2 0-2 .5-1 2-2 .5-1-.5-2-1-2-1-1.5-.5-.5-.5-2-2-4-.5-2 0-2-.5-2-2-.5-2 1-2-.5-.5 0-1.5-.5-4-1-2 0-2-.5-.5 0-1.5-.5-2 0-2 .5-2 0-2-.5-2 0-2-.5-2 0ZM123 408.5l-.5 1.5 0 2-2 4-.5 2 .5 2 .5 .5 2 0 .5-.5 1.5-1 .5-1 .5-2 0-2-1-4ZM308.5 76l.5-.5 4-1 2 .5 .5 1 1.5 1 .5 1 1.5 2 2-.5 .5 .5 1.5 1 1.5-1 .5-1 3 3 0 2-.5 2-.5 .5-1 1.5-1 1-2-.5-1-.5-1-1.5-1-.5-1-1-2 .5-1 .5-1 0-2-1.5-4.5-4.5-1-2ZM330.5 82l.5-1 .5 1-.5 0ZM705 82l2-.5 2.5 2.5-.5 2-2 .5-.5-.5-1-2-.5-1.5ZM330.5 98l.5-1 2 .5 .5 .5-.5 1-2-.5ZM796 102l1-.5 2 0 .5 .5 1 2-.5 2-1 1.5-2 1-2 0-.5-.5-1.5-2 .5-2 1.5-1.5ZM746.5 110l.5-1.5 2 0 .5 1.5-.5 1-2-1ZM765.5 112l1.5-1 2-.5 2 .5 2 0 2 .5 .5 .5 1 2 .5 1.5 0 1-.5 1.5-.5 2-1 1.5-2-2-2-.5-1 1-1 .5-2 0-.5-.5-1.5-2 0-4ZM789.5 116l1.5-1 2 .5 .5 .5 0 2-.5 1-2 .5-2 0-.5-1.5 .5-1.5ZM351 120l1 0-1 .5ZM766.5 124l.5-.5 1 .5 1 0 2 2 0 .5 1 1.5 1 2 1.5 2 2 4-1.5 2-2 1-2 .5-2-2-1-1.5-4-2-1-1-1.5-1-.5-.5-2-1.5-.5 0 0-2 .5-.5 2-1.5 2-1 2-.5ZM777 124l0-.5 2-.5 1 1-3 0ZM786 126l1-1 2 0 1.5 1 .5 1.5 0 1-.5 1.5-1.5 1.5-2-.5-1-1-.5-2ZM346.5 134l.5-1 1 1 1 2-2 1 0-1ZM778 138l1-.5 4-1 2 1.5 0 2-1.5 2-.5 .5-.5-.5-1.5-1-1-1-1-1.5ZM355 142l0-.5 2 .5 .5 2 1.5 2 0 1-4 0-1.5-1 0-2ZM782.5 146l.5-.5 .5 .5 1.5 2 0 4.5-.5 1.5-1.5 2-2 1.5-2-.5-1.5-3 0-2 1-2 .5 0 1.5-2 .5-1ZM288.5 170l.5-.5 2 .5 .5 0 1 2 0 2-1.5 1.5-2-1-2-.5 0-2ZM692 170l1-.5 0 .5ZM346.5 192l.5-1 1 1-.5 2-2.5 2.5 0-.5-1-2 1-1ZM360 210l1-1 1 1 0 2-.5 2-.5 1-2-1-.5-2 .5-.5ZM322.5 234l1 0 1.5 2 0 2-.5 2 0 2-1 2-.5 .5-2 0-.5-.5-1.5-1-1-1-1-4 1.5-2 .5-.5 2-1ZM208.5 292l.5-1 2-.5 2 1 .5 .5 .5 2-.5 2-.5 1-2 .5-2-1.5 0-.5-.5-1.5ZM289 292l1.5 2 0 2-1.5 3-2 0-2 .5-2-.5-1-1 1-2 2-1 2-2ZM281 316l2-2 2 0 2 1 4 0 1.5 1-2 2-1.5 .5-4 1-2 0-1.5-1.5-.5-2ZM94 338l1-1 2-.5 1.5 1.5 .5 1.5 0 2.5-2 1.5-2-3-.5-.5ZM228 338l1-1 .5 1-.5 2-1 2-.5 2-1 0-.5-2 1-2 0-.5ZM79 340l0-.5 2 1 2 1.5 .5 2-.5 .5-2 .5-2 0 0-3ZM97 348l2-.5 .5 .5-.5 1-2-1ZM79 354l0-.5 1 .5-.5 2-.5 .5 0-.5Z"/>
<path fill="#3650cf" fill-rule="evenodd" d="M342.5 64l190.5 0 2 2 2.5 0 .5-2 118 0-1 2-1.5 2-.5 1 0 2 .5 1 3 4 1 2 .5 2-1 1-.5 1-1.5 1-1.5 3 1.5 2 2 0 2-.5 2 0 2 1 1 1.5-1 2-2 1-1.5 1-1 2 0 4-.5 2 .5 2 .5 .5 2 1 2 .5 2-.5 2 1 1 1.5 1 1 2 1 4-2 2 2 1.5 2 .5 .5 3 1.5 .5 2 0 2-.5 2-1 1-2 1-4 0-2 1.5-2 1-.5-.5 .5-2 2-.5 2 0 .5-1.5 1-2 .5-1.5 0-1.5-.5-1-1.5-.5-2 0-2 1-1.5 1.5-.5 1-2 0-2-1-2.5 0-1.5 .5-4 1-2 1-2-.5-.5 0-1.5-.5-1.5 .5-.5 0-2 .5-2-.5-2-1-2 0-1.5 1-.5 1-1-1-1-.5-1-1.5-.5-2 1-4 .5-1.5 0-1.5-.5-1-1.5-.5-2 0-.5 .5-1.5 .5-2 1.5-2 1-2-.5-1.5-.5-4.5 0-2-1.5-2-1-2-.5-2 0-1.5 1-2 2-.5 1.5-.5 .5-.5 2-1 2-2 2-4.5 0-1 2 1.5 2 1 2 1 1.5 .5 .5 1 2 0 2 1 2 1.5 1 4 2 2 0 2 .5 1 .5 1 4 0 1 2 .5 .5-1.5 1.5-3 1-1 1-.5 2 0 2 .5 4-1 4 1 2-1 1.5-1 .5-.5 2 .5 1.5 2 .5 .5 2 1.5 2 1 2 .5 2 0 2.5 2.5 1.5 3 2 1 2 1.5 0 1-1 1.5-1 1-1.5 1-2 2 0 2-.5 1.5 0 .5-1.5 2-.5 1-1 1 .5 2 .5 .5 2 1 0 3-.5 1.5 1 4 0 2-1 2-1.5 .5-4 2-2 0-.5-.5-1.5-2 0-2-2-1-2-.5-2 .5-2-.5-.5-.5-.5-2 1-2-2-.5-2 0-1 .5-1 1-.5 1 0 4 .5 2-1 4 0 2-.5 2 .5 2 1 2 2 2 .5 0 1-2 .5-.5 2-1.5 .5 0 1.5 2 2 1.5 2-1 2 0 2 1 2 2 1.5 .5 2.5 0 2-1 2 0 1 1 1 2 0 4.5 .5 1.5 1.5 1.5 2 0 1 .5-1 1.5-2 .5-2 1.5 0 1 .5 1.5 1.5 1.5 1.5 .5 .5 0 2 1 1 1 1 2-.5 2-1.5 .5-2 1-1.5 .5-.5 .5-1 1.5 0 2-.5 2-.5 0-1.5 2-4 4-.5 1-1 1-.5 2 1 2 .5 .5 1 1.5 .5 2 .5 1.5 4.5 4.5 0 4 3 4 .5 1 4 4 2.5 5 1.5 2 2 1.5 1.5 .5 .5 0 4 1 4 4 2 .5 2 0 2 .5 .5 0 1.5 .5 2 1.5 0 .5 2 .5 4-2 2-.5 2-1 2-1.5 1.5-2 .5-.5 2 0 2 1 4-1 2-1.5 1.5-2 1-2-.5-.5-.5-1.5-.5-2 0-2 1-2 .5-2 0-6 .5-2 0-2-1-1.5-2.5-2.5-1.5-1-2-.5-.5-.5-1-2 .5-2 1-2-1.5-2-.5-.5-2-1-.5-.5-3-6-.5-2 2-1 1-1 1-.5 1.5-1.5 1-2-.5-1.5 0-.5-1.5-2-.5-.5-1-1.5-1-1-2-1-1 2-1 .5-2 1.5-2 1-.5-1-.5-2-1-2 .5-2 1.5-1.5 3 1.5 1 1 2 1 2-2 2-1.5 .5-.5 1.5-.5 2-1 0-.5 1.5-2 .5-1 1-1 1-1.5 .5-.5 1-2 .5-2 1-2 3-3 1.5-1 2.5-2.5 1-1.5 1-2 1.5-2 .5-.5 6-1.5 2-1 2-.5 8 0 2 1 2.5 2.5 1.5 1 2 .5 3-1.5 1-1.5 2 0 2 .5 2 0 2 .5 2-.5 2 0 4-1 2 0 2-.5 1.5-1.5 .5 0 2-.5 4 0 4-1 2 0 2 .5 2 0 1.5-1 1-2 1.5-2 2-.5 2 0 2-.5 1.5-1 .5-.5 4-3 2-.5 2 .5 .5-.5 2-4 1.5-2 0-.5 0 650.5-740 0 0-359.5 2 0 1.5-.5 .5-.5 1-1.5 2-4 1-4 2-4 2-1 4 1 2-2 2-.5 2 2 1 .5 1 2 0 1 1.5 1 .5 .5 2 0 2 1.5 1.5 2 0 2-.5 2 .5 2 .5 .5 2-.5 .5 0 1.5-2-1-2 .5-2 .5-.5 2-1.5 2.5 0 1.5 .5 2 1 2 .5 4 0 2 .5 2-.5 .5 0 1.5-1 2-1 1.5-2 0-2 .5-.5 1-1.5 1-1 1.5-1 2-2 0-4-1.5-6 0-.5-1-1.5 0-2 .5-2-.5-2 0-2-.5-2 0-2-.5-2 0-.5-2-1.5-1-4-1-.5-2-.5-1.5-1-2-2-.5-1.5 0-2.5 .5-2 0-2-.5-.5-1-1.5-1-2-.5-2 .5-1.5 0-.5 1.5-2 .5-.5 2-1.5 1.5-2 .5-1 1-1 1-.5 2-1.5 0-.5 1-1.5 .5-2 .5-1.5 2-2 1.5-.5 .5 0 2-2 0-.5 2-.5 .5 1 1.5 .5 2 .5 2 0 2-.5 1.5-.5 .5-.5 2-.5 1.5 1 .5 0 2 1 1.5-1 .5 0 2-1.5 4-2 2 0 2 .5 2 1 .5 0 1.5 .5 3 1.5 1 1 6 1.5 2 1 6 0 1.5 .5 .5 .5 1 1.5 2 2 1 .5 2 0 2-1 1.5-1.5 .5-1 1.5-1 1 0 1.5 1 2 1 2 0 2-.5 2 0 2 .5 1 0 1 .5 4 1 2 1 2 2 1 1.5 1 .5 2 .5 4 0 2-.5 2 .5 .5 1 1.5 1 1 1 1 .5 4 1 .5 .5 1.5 .5 2 .5 6 0 4 1 2 1.5 .5 .5 1.5 2 0 .5 1 1.5 1 2 1 4-.5 2 0 2-.5 1.5 0 .5-.5 2 .5 2 0 4-1 4 0 4-.5 2 0 2 .5 2 3 3 1.5 1 .5 .5 2 1.5 1 2 1 1.5 2 2 4-1 2 0 2 .5 2 0 2.5-5 1.5-2-1-4 1-4-.5-2-1.5-3-1.5-1-.5-.5-.5-1.5-1-4 1-2 2.5-2.5 2-3 .5-.5 3-2 .5-.5 1-1.5-1-2-1.5-2-.5-.5-2-1-1.5-.5-2-2 0-4-.5-2 0-.5-.5-1.5-1-4 0-2-.5-2 0-8 .5-2 1-2 2-2 .5 0 4-2 1-2 .5-2 .5-1.5 0-.5 1.5-2 .5-1 1-1 1-4 1.5-2 .5-2 0-2.5 .5-1.5 .5-2 1-.5 1.5-1.5 2-4-.5-2 0-2-.5-2 1-4 0-2 .5-1 0-1 .5-2 1.5-1.5 1-.5 1-2 2-1 .5-1 .5-2 1-2 1.5-2 .5-.5 2 0 .5 .5 1.5 .5 3.5 3.5 .5 0 0-2-1.5-2 0-4 1.5-2 2-1.5 6 0 1.5 1.5 .5 0 2 1.5 2-1 0-3-1-1.5-1-.5-1.5-1.5-.5-1-1-1-1-.5-2 .5-2 1-2 0-1-1-.5-2 1.5-1.5 1.5-.5 .5 0 2-.5 2-2 .5-1.5 0-2-.5-2 2-2 0-.5 2-1.5 1 2 1 .5 1.5 1.5 1 2 0 2 .5 2 1 .5 2 1.5 2-.5 2 .5 1.5 2 .5 1 .5-1 1-4 .5-.5 2-3 1 1.5 2 4 .5 2 .5 .5 2 .5 2-1 1-4 2-2 1-1.5 2-.5 1.5 2 .5 1 .5-1 .5-2-.5-2-.5-1-2 0-2-2-1.5-1-2.5-2.5-2-1.5 0-.5-.5-1.5 .5 0 2-1 1.5 1 .5 .5 2 .5 .5-1 0-2-.5-2-1.5-2-.5-2 0-.5-2-.5-1-1 0-2 1-1.5 .5-.5 3-2 2-2-.5-2 .5-2-.5-2 0-2 1-1.5 .5-.5-.5-2 0-2.5-1-1.5 .5-2 0-2 4.5-4.5 1-1.5 1-2 4-2 .5 0 1.5-.5 2 0 6-1.5 2-1 2-.5 2 .5 1 1 1 1.5 4 2 2-3 1.5-.5 .5-.5 4-1 1-.5 .5-2-1.5-2-.5-2 .5-.5 2-.5 3 3 1 1.5 4 0 1 .5 3 3 1.5 1 .5 0 1.5 2 .5 1 1 1 0 2 .5 2 .5 .5 2-.5 .5 0 1.5-.5 2-.5 2 .5 .5 .5 1.5 1 2 0 2-1 0-2-1-2-2-2-1-2 2-.5 .5 .5 1.5 1 2 .5 .5 .5 2 4-.5 1.5-.5 .5-1.5 2 2 2 4 1 1.5 1 .5 .5 2 1.5 1.5 2 .5 1 1 1-1 .5-2 0-4-1-1.5 .5-.5 0-2 1.5-.5 .5 1 2 1.5 1 2 .5 1 .5 1 1.5 0 1-1 1.5-1 1-2 1-2-.5-2-3-.5-.5-1.5-3-1.5-1-.5 0-2-.5-2-2-2 0-2.5 2.5-.5 2 0 2-1 1-2 0-1.5-1-2-2-.5-2 1.5-2-1.5-1-2 1-.5 2-3 2-.5 .5-4 3-2 .5-2.5 0-1.5 .5-.5-.5-1.5-1-2 .5-2-.5-2 .5-2 1-2 1.5-1.5 2-.5 2 1 2 1 1 1.5 1 1 2-1 4 0 2 .5 2 0 1 2 .5 2 0 2-1.5 4 1 2-2 1.5-1 .5-.5 2-1 4 1 2-.5 4 1 2 1 6 1.5 .5-.5 1.5-2 0-.5 1-1.5 1-1 2 0 2-.5 2 0 1-.5 0-2-1-1.5-.5-.5-1.5-.5-.5 .5-1.5 .5-2 0-.5-.5-1.5-1-1-1 0-2 .5-2 0-2 .5-1.5 0-.5 1.5-2 .5-.5 2-.5 1 1 0 2 .5 2 .5 1 1 1 1 1.5 2 0 1.5 .5 .5 .5 1 1.5 1 .5 2 .5 2-.5 1.5 1.5-.5 2 0 2 1 4 1.5 2 .5 .5 2 .5 2-.5 2-1 4 0 1.5 .5 .5 0 2 1.5 2 1 2 .5 .5-1-1-2-2-2-1-4 0-2-.5-2-1-2-1-1.5-.5-.5-1.5-.5-2-1-.5-.5 0-2-1-4 1-4-1-4 1.5-1.5 2-1 4 0 1.5 .5 .5 0 2 1.5 2 2 2-.5 1-1 0-2-.5-2-1-2-1.5-2-2-1.5-.5-.5-1.5-2-1-4-1-2 0-.5-1.5-1.5-.5-1.5-2-2-2-.5 1.5-2 1-2 1.5-1 4-1 2 1.5 2 0 1.5 .5 .5 0 2 1 1.5 1 .5 .5 2 1 2 0 2 1 1 1.5 1 .5 1 1.5 1 2 .5 2-.5 2 0 4 1.5 2 2 4 2 2 .5 1.5 0 .5 1.5 2 .5 .5 .5-.5 1.5-1 2-2 1.5-1 .5-.5 1-1.5 1-2 0-.5 .5-1.5 0-4 1.5-2 .5 0 1.5 .5 4 1 1.5-1.5 1-2-.5-2 0-.5-.5-1.5-4-8-1.5-1-.5-1-1.5-1.5-1.5-.5-1-2-1.5-1.5-4 0-.5-.5-.5-2-1-2 0-.5-.5-1.5-3-4-1-2-1.5-2-4-2-2 .5-2 0-2-.5-4.5 0-1.5 .5-4 2-2 0-1.5-.5-.5-.5-2 0-.5 .5-1.5 .5-2 .5-.5-1 .5-1.5 .5-.5 .5-2 0-6-.5-2-.5-.5-2-1.5-2-.5-1-1.5-5-2.5-2-.5-2 0-2-.5-2 0-1 1.5-1 2-.5 0-.5-2-1-1-1 1 0 2-.5 2 1.5 1.5 0 2.5-2 .5-.5-.5-1.5-2 1.5-2-1-2-1 0-1 2-3 0 0 2 .5 2 1.5 2-1.5 .5-2 1-.5 .5 0 2-1.5 1.5-2 0-4-1-2 0-1 1.5-1 2 1 4 1 .5 1 1.5-1 2-2 0-1.5 2-1 2-1.5 1.5-1.5 .5-.5 1-2 0-1.5-1-2-2-.5-1 0-1-2-2-1.5-2-.5-.5-2 .5-.5 0-1.5-1.5 0-.5-.5-2 .5-1 2-1 1 0 1-.5 2 .5 3 0 1-.5 1-1.5-.5-2-2.5-2.5-2-.5-2 0-1 1-1 .5-2 .5-2 0-2 .5-2 0-2 .5-2-4 0-1-.5-1 .5-2-1.5-2-.5-2 0-2-.5 0-1.5 .5-2 0-.5-.5 .5-1 2 0 0-2-.5-1-1.5-1-2 0-1.5-1-.5-.5-2-1.5-.5-2 .5-.5 2-.5 .5-1 0-2-.5-.5-2-.5-2-1-.5 0 0-2-1.5-.5-4-1-.5-.5-1.5-1-2 .5-2-1.5-2-2-2-1-1.5-1-2.5-2.5-2 0-2-.5 0-1-1-2-1-1-1.5-1-4-4 .5-2 0-6 .5-2-2-2 0-2-2-2 0-16-2-2 .5-1.5 .5-.5 .5-2-1-4-4-2-.5 0-.5-2 0-2-2-2ZM363 86l-1 0 1 2 0-2ZM405 119l0 1 .5 0ZM407 145.5l-2 .5 0 2 2 0 1-2ZM411 147.5l-1.5 .5 1 2 .5 2 0 2 2 4 0 1 .5 1 1.5 .5 1.5-.5 2.5 0 2-2 0-2-1-2 0-2-1-2-2-1-1.5-1-.5-.5-1.5 .5-.5 .5-1-.5ZM431 156l-1 0-3 1.5-.5 .5 .5 .5 2 1 .5 .5 3 2 .5 .5 2-.5 .5 0-.5 0-2-4-.5 0 1-2-.5 0ZM467 139.5l-2 .5-1 2 .5 2 .5 0 2 .5 1.5-.5 .5-.5 .5-1.5-1-2ZM487 68l-1 0-1 1.5 0 1 1 1.5 1 .5 .5-.5 0-2-.5-2ZM499 134l-1 2 1 2 2-1 .5-1-.5-.5ZM509 144.5l-2 1.5 0 2-1.5 2-4 4-.5 1.5-1 .5-1 1-2 .5-1.5 .5 1.5 0 1.5 2 .5 .5 2 1 2 .5 4 4 2 .5 1-.5 1-2 0-2 1-2 1-.5 1.5-1.5 0-2 .5-2 0-.5 .5-1.5-.5-2-1.5-2-2-2-.5-1ZM519 160l-.5 0 .5 2 0 .5 .5-.5 1.5-.5 1-1.5-1-1ZM531 247.5l-2 .5-2 2-1.5 2 1.5 .5 4 1 1.5 .5 .5 .5 2-1 .5-1.5-.5-1.5 0-.5-2-1.5-1.5-.5ZM597 141l-.5 1-1 4 0 6 1.5 1 4 0 2 .5 1 .5 .5 2 0 2 .5 1.5 0 .5 .5 2 0 2 .5 2 1 1 4 1 2 0 2 .5 1.5-.5 .5-.5 .5-1.5-.5-2 0-8 1-4-.5-2-.5-1.5-2-2-2 0-2 1-2-1.5-2-1-2 .5-2 0-2-1.5-1.5-2-.5-1ZM653 106l-1 0-1 1 0 1.5 .5 1.5 1.5 2 .5 0 1.5-.5 0-2.5-.5-1-1.5-2ZM645 170ZM723 246l-.5 0-1.5 1-.5 1 0 2 .5 .5 2 .5 2-1 2-2-2-1.5-1.5-.5ZM85 444l-2 2 4 2 .5 0 1.5-1 .5-1-.5-.5-2-1ZM391 246.5l-.5 1.5 0 2 2 4 .5 .5 2 .5 1-1 .5-2-.5-2-2-2-1-.5ZM401 255.5l-1.5 .5 0 2 1.5 1 2-1 .5-2-.5 0ZM425 201.5l-.5 .5-.5 2 4 0 1-.5 1-1.5-1-1-2 0ZM417 279.5l-2 .5-2 1.5 0 .5-.5 2 0 2 .5 2 0 2-1 2 1 1.5 2-.5 2-1 4-1 .5-1-.5-.5-1-1.5 0-2 1-1.5 .5-.5-.5-2-1.5-2-.5 0ZM449 312l-.5 0 .5 1 0 1 .5 2 0 2 1.5 1 2 0 1.5-1 .5 0 1-2 .5-2-1.5-2-.5 0-1.5-.5-2 0ZM497 213.5l-.5 .5 .5 1 1.5-1ZM499 236l-1 2 .5 2 1 2 1.5 1 2 .5 2-.5 1-1 0-2-.5-2-.5-1.5 0-.5-2-.5-2 0ZM503 226ZM505 227l-.5 1 .5 2 0 2 .5 2 1.5 2 2-1.5 .5-.5 1.5-2 0-2-2-2-2-.5ZM521 248l-.5 0 .5 0ZM499 141.5l-1.5 .5-2.5 2.5-1 1.5 0 2 1 1.5 2 0 1.5-1.5 1-2 .5-2-.5-2ZM515 162ZM421 300l-.5 0-1.5 .5-2 0-1 1.5 .5 2 .5 .5 1 1.5-.5 2-.5 0-1.5 2-.5 .5-1 1.5-.5 2 0 4-.5 2 .5 2 1.5 2 2 4 0 .5 1 1.5 1 1 2 .5 4-3 4 1 2 0 2 .5 .5 0 1.5 .5 1.5-.5 .5 0 1-2 .5-2 .5-.5 .5-1.5 1-2 .5-2 2-4 0-.5 1-1.5 .5-2-1.5-2-2-2-1.5-2-1-2-1.5-1-2-.5-2-1-2-1.5-.5 0-1.5-.5-4-1-2 .5ZM495 156l-1 0 1 2 1-2ZM659.5 64l12.5 0 1 1.5 .5 .5 1.5 2 1 2 1 4-1.5 2-.5 .5-2 .5-2-1-.5 0-1.5-.5-4 1-1.5-.5-.5-.5-1-1.5 0-2-.5-2-2-4ZM682 78l1-.5 .5 .5 0 2-.5 1.5-2-1 0-1ZM650.5 130l.5-1.5 .5 1.5 .5 2 0 2-1 2-1-2 .5-2ZM818.5 134l.5-1 0 1.5ZM666.5 138l.5-.5 2-1 2-.5 1 2-1 2-2 1.5-2-1-.5-.5ZM815.5 144l1.5-1 2 0 0 7.5 0-.5-2-2-1.5-2ZM659.5 156l1.5-1 2 1 .5 2-.5 1.5-.5 .5-1.5 1-2 0-2-1 0-2 2-1.5ZM376.5 162l.5-.5 2 0 1.5 .5 2 2-.5 2-1 .5-4 0-2-.5 0-2ZM672.5 162l.5-.5 2-1 1 1.5-.5 2-.5 .5-1 1.5-1 1-1.5-1 0-2ZM451.5 168l1.5-1.5 1 1.5 1 .5 2 1.5 .5 0-.5 0-1 2 1 1 .5 1 .5 2 0 2 1 2 2 .5 2 0 1-.5 .5-2 .5-.5 2-1 2 .5 1 1 .5 2-.5 2-1 1-4 2-4 0-.5 1-1.5 1-4-1-2 1.5-2.5 2.5-.5 2-1 .5-.5-.5-1.5-1-2 .5-2 0-6-1.5-.5 0-1.5-1-.5-1 1-4 0-2-.5-1.5-.5-.5 1-2 3-2 .5-1 2 0 6 1.5 2 0 2-2 1-.5 2-2-.5-2-.5-1ZM394 176l1-.5 .5 .5-.5 2 0 .5-.5-.5ZM489 178l0-.5 2 .5 2-1 2 .5 1.5 .5 .5 .5 1 1.5-.5 2-1 0-1.5-1-2 0-1.5-1-.5-1.5-2 0ZM405.5 180l1.5-1 2 0 1.5 3 .5 2 0 .5 .5 1.5-.5 1-2 .5-2-2-2-1.5 .5-2ZM399 188l2-.5 .5 .5 1 2-1.5 2-1 0-1-.5-2 0-2-1.5-.5 0 .5 0 2-2 2 0ZM475 188l0-.5 .5 .5-.5 .5ZM462.5 190l1 0 .5 2-1 2 1.5 2 .5 2-1.5 2-.5 .5-.5-.5-1-2-.5-2-1-2 0-2 1-1ZM515 192l.5 0 1.5 .5 1.5 1.5-1.5 1.5-1.5-1.5-.5-1.5ZM432.5 200l.5-.5 .5 .5-.5 1ZM375 202ZM466 206l1-.5 2 0 2.5 2.5 1 2 .5 1.5 0 .5-.5 0-1.5-.5-1.5 .5-.5 0-2-.5-1-1.5-1-2ZM509 208l.5 2-.5 1-1.5-1ZM684.5 210l.5-.5 2 1 2 1.5 4 2-1 4 0 2-.5 2-.5 .5-2 .5-2 0-4-1-2-2 0-.5-.5-1.5 .5-1.5 0-.5 1.5-2 1-2ZM437 240l.5 0 0 2-.5 .5-.5-.5ZM362.5 244l.5-1.5 1 1.5-.5 2-.5 .5-.5-.5ZM353.5 252l1.5-.5 2-.5 1 1 1 1.5 0 .5 1 2-3 1.5-2 .5-2 0-1.5-2 .5-2 1-1.5ZM362.5 258l.5-1 2 .5 .5 .5 1.5 2-2 1.5-2 0 0-1.5ZM79 378l0-1 1.5 1-1.5 1ZM291.5 406l1.5-1 .5 1-.5 .5ZM79 426l0-.5 .5 .5 .5 2 0 2-1 2 0 2 .5 2-.5 1 0-9ZM131 432l2.5 0-.5 2-.5 0-1.5-1.5Z"/>
<path fill="#2860df" fill-rule="evenodd" d="M357 64l21 0 0 2 1 2 1.5 2 .5 2 0 1 2 1 1.5-2 .5-.5 .5 .5 .5 2 1 1.5 .5 .5 .5 2 0 4 .5 2 .5 .5 1.5-.5 .5-.5 2-1 2 1 1.5 .5 .5 .5 .5-.5 1.5-.5 2 .5 .5 0 0 4 1.5 2 4 1 2-2 4 0 2-2 6 0 2-.5 1.5-.5-.5-2 .5-2-1-4 0-2-.5-.5-2-1.5-2 .5-1.5 1.5-.5 0-2 1.5-1 .5-1 1.5 0 .5-2 1-1.5 1-.5 .5-2 1-2 .5-2-1.5-.5-.5 .5-.5 2-1 .5-.5 1.5-1 2 0 .5-1-2-4-.5-.5-1.5 .5-.5 0-2 1.5-1.5 .5-2.5 0-2-1.5-2 0-.5-.5-1.5-1-1.5-3-.5-2 .5-2-.5-1.5 0-.5 17 0 1 1 2 0 1.5-1 14 0 .5 2 1.5 2-.5 2-1 1-.5 1 .5 .5 1 1.5 .5 2 .5 .5 2 1.5-.5 2 .5 2-2 1-1.5 1-2 2 0 2 1.5 .5 4 4 2 0 .5 1.5 2 2 1 4 .5 1 1 1 0 2 1 1.5 .5 .5-.5 2-2 0-2 1.5-.5 .5 .5 1 2 .5 2 0 0 .5 2 1.5 0 .5 .5 2-.5 2 0 .5-2 .5-2-1-4-4-.5 0-1-2-.5-.5-1 .5-1.5 0-.5-2-3-1.5-2-2-4 1-2 0-2-.5-1.5 3 2 2 0 2-.5 1.5-.5 .5-1.5 1-2-1 1-2 .5-2-.5-2-1-1-2-.5-2 .5-1.5-1-.5-1.5-.5-.5-1.5-2 0-1-.5-1-1.5-.5-1.5-1.5-.5 0-2-1-2 0-1.5 1-.5 1-2 1-3 0 0 4-3 1.5-.5 .5-1.5 1-4 0-1.5 1 .5 2 1 2 .5 2 0 2-.5 2-2 .5-.5-.5-.5-2 0-2-2-2-.5-2 0-2-2-2-.5-2 0-2 .5-2-2 0 1 2 .5 2-2 2-1 2 0 2-1 1.5-1 .5-1 1-1.5 1-.5 0-1 2-1 .5-2 1.5-2-2-1.5-2 .5-2 1-2 2-.5 1.5 .5 .5 .5 2-.5 1-2-3-6-.5-2 0-2 .5-1.5 2 1 1.5 .5 .5 0 2 .5 2 1 0-3.5-1.5-2 0-2-.5-.5-1-1.5 0-2-1-2 0-2 .5-2-.5-.5-2-1 0-.5-1-4 0-2-2-2-.5-2 0-2-.5-2-.5 0-1.5 .5-.5-.5 0-2ZM377 77.5l-1 .5 .5 2 .5 0 .5-2ZM409 92ZM430 64l3.5 0-.5 1-2 0ZM468 64l5.5 0-.5 2 0 .5-2 2-2.5-2.5ZM496.5 66l1-2 5 0 .5 .5 2 1 2 .5 2-.5 1.5-1.5 2.5 0 2 1.5 1 .5 2 2 .5 2-.5 2-1 1-2 1 1.5 2 .5 .5 1 1.5 1 1 2 .5 4-1 2-1 1 .5 1 1 .5 1-.5 2-1.5 2-1 2 .5 .5 .5 1.5 1.5 2-1.5 2-.5 .5-2 1.5-2 0-2-1.5-6-6-2 .5-.5 1 .5 1.5 0 .5 1 2 0 4-1 1.5-.5 .5-1.5 2 2 1 2 .5 1 .5 1 1 2 1 .5 0 1.5 1.5 2 0 2-1.5 2-.5 2 0 2-.5 .5-1 1.5-1 1-1 1-2 2 0 1.5 2 .5 .5 1 1.5 1 .5 2 0 1-.5 1-1.5 .5-.5-.5 0-2-2-.5 0-1-2 .5-2 0-4 .5-2 .5-.5 2 0 .5 .5 1.5 2 2 1.5 1 .5 1 1 1.5 1 .5 .5 2 .5 4 2 2 0 1-1 1-4-1.5-2-.5 0-2-1.5-.5-.5-1-2 1-4-1.5-1.5-1.5-.5 1.5-1 0-1 1-2-.5-2-.5-1.5 0-.5-1.5-6-.5-1.5-.5-.5 81.5 0 .5 2 .5 .5 1 1.5 1 1 2 1 2 2 0 .5-.5 1.5-1.5 3-1.5 1-.5 0-2 1.5-1 .5-2 2-.5 2-.5 1-1 1-3 1.5-.5 .5-1.5 .5-2-.5-2-1-2 0-1.5 1-1 2 .5 1.5 0 2.5-2 .5-.5-.5-1.5-1-2-.5-1.5 1.5-.5 2 0 .5-1 1.5-3 1.5-1.5 .5-.5 0-2 .5-2 2-.5 1.5-2 2-1.5 1-2 1-.5 0-1.5 .5-2 .5-4 2-2-.5-2 1-.5 .5 0 2 .5 2 1 2 .5 2-1.5 2-1 2 1 1.5 .5 .5 1.5 2 0 3-1.5 3 1.5 1.5 0 .5 .5 2-2 2-.5 0-2 .5-2 0-.5 1.5-1.5 1-.5 1-1.5 1.5-2 1-2-1-.5 .5-1.5 1-.5 1-1.5 .5-2-.5-.5 0-1.5-1-2-1-2 2-1 4-1 .5-2 0-2 1.5-1 2-1 1.5-.5 .5-1.5 .5-2 .5-2 1 0 .5-.5 1.5-1.5 1.5-1 .5-.5 2 .5 2 1 2 2 .5 2 0 2-.5 2-1.5 2-1 2 0 2 .5 .5 0-.5 1.5 0 .5-.5 2-1.5 2-2 1.5-.5 .5-1.5 2 0 .5-1 1.5 1 2 0 1 .5 1-1 2-1.5 1-4 0-2 .5-1 .5 1 2-2 1.5-1-1.5-1-1-2-1-4 0-2 .5-2-.5-.5 0 0-2 .5-1 2-.5 2-1 .5-1.5 1-2 0-4-1.5-2 0-.5-1-1.5 1-2 2-2 .5 0 3-2 2-2 .5-2 4-4-1-2-2-2-1-2 .5-2 1.5-1 2-1 .5-2-.5-2 0-.5-.5-1.5 .5-2 0-.5 .5-1.5 1.5-2 1 0 1-.5 .5 .5 4.5 0 1-1 .5-1-.5-.5-2-1.5-.5 0-1.5 .5-2 1-2-.5-2-1-2 1-2 2-2 1-2-.5-2-1.5-1 0-1-.5-2-1.5 0-2 1-2 1-1 2-.5 2-2 0-.5 1-2 .5-2 .5-.5 1-1.5 1-2-.5-2-1-2-.5-.5-3-1.5-1-1-1.5-1-.5-1-.5 1-.5 2-1 2-2 2-2-2-2-1.5-1.5-.5-.5-.5-.5 .5-3 4-.5 1-.5-1-1.5-1-.5-1-2-2-1.5-3-2-1-2-1.5-4 1-.5 .5-1 2 0 2-.5 1.5-.5-1.5-1.5-2-2 .5-4 0-1 1.5-.5 2 .5 2 0 2-.5 2-2 2-.5 0-2 .5-2 0-2 2-1 1.5-.5 2-.5 .5-1.5-.5-.5 0-2-1.5-1-.5-1-1-.5-1 0-2-.5-2-1-.5-1-1.5-1-2 0-4-2-.5-2 0-.5 .5-1.5 1-2 1-2-.5-3-1.5-1-1-1.5-1 1.5-1.5 2-1 4 0 2-.5 1-1 1-.5 1.5-1.5 0-4 2-8 .5-.5 2 0 1.5 .5 .5 .5 2-.5 2 0 2-1.5 2 0 .5-.5 1.5-1 2 0 2 .5 1 .5 1 1.5 2 .5 .5 0-.5 .5-2 0-2 .5-2 0-2-.5-2 2-1 1.5 .5 2 .5 1 2 1 .5 0 1.5 .5 2 0 2 1 1.5 .5 .5 .5 2 1 1-1.5 0-2-1-4 0-2 1-2 1-1 2-.5 1-.5 1-1.5 1-.5-.5-2 1.5-.5 .5 .5 1.5 1 1-1-1-1.5-.5-.5 .5 0 1-2 .5-2-1.5-1.5-2 .5-2 0-1 1-1 2-2 1.5-1.5 .5-1 0-1.5-.5-1-1.5-1-1-.5-1 0-2 .5-1 6 0 1.5-1 0-2-1.5-2-2-2 0-.5ZM509 71.5l-.5 .5-1.5 2 0 .5 2 0 .5-.5 0-2ZM571 86l-.5 0-1.5 .5-2 .5-.5 1-.5 2 2 4 1 1.5 2 2 4 0 2 .5 .5-2-.5-.5-1-1.5-.5-2 0-2 1-2 .5-.5 2-1 .5-.5-.5-1-4 1-2 0ZM501 102l-.5 0-1.5 1.5 0 1 2-.5 .5 0-.5-2ZM579 134l-.5 0-1.5 .5-1.5 1.5 0 2 1.5 1.5 2 0 3.5-3.5-1-2-.5 0ZM460.5 74l.5-1 2-.5 2 .5 1 1 0 2 .5 2-.5 2-3 1.5-2 .5 0 .5-2 0-.5-.5-1.5-1-.5-1 .5-1.5 0-.5 2-1.5 .5-.5ZM476.5 78l.5-1 2 .5 2 0 1 .5 1 1.5 .5 .5 0 2-.5 1.5-2-1-1.5-.5-.5-.5-2-1-.5-.5ZM547.5 82l1.5-1 2 1 2-.5 1 .5-1 .5-2-.5-2 0ZM497 88ZM424 118l1-.5 2 .5 .5 2-.5 1-2 0-1-1ZM514.5 120l.5-.5 2 0 .5 .5-.5 .5-2 .5ZM522 122l1-.5 1.5 .5-1.5 1.5ZM381.5 124l1.5-2 2 .5 2 1.5 1.5 2 2.5 2.5 2 0 2 1 2 .5 2 1 1 1 1 1.5 2 2 1.5 .5 1 0 1.5-.5 2.5 2.5 1 2-1.5 .5-2 1-2-1-2 0-1-.5-1-1.5-4 1-2-.5-1.5-1 1.5-2-2-1.5-2 1 0 .5-2 .5-4-4-1-.5-2-2 0-2-1-1.5 0-2ZM411 124l1 2 0 2-.5 2-.5 .5-1.5-.5-.5 0-2-1.5-1-.5 0-2 1-.5 2-.5ZM400.5 126l.5-1 2 .5 1 .5 0 2-1 2-2-1.5 0-.5ZM484.5 130l.5-.5 .5 .5 .5 2-1 1.5-1-1.5ZM439 132l2-1 2 0 2-.5 2 1.5 1.5 2-1 2 0 2-.5 .5-2 1-2 0-2-.5-2 0-1.5-1 .5-2-.5-2 1.5-1.5ZM396.5 142l.5-1.5 1.5 1.5-1.5 1ZM628.5 146l.5-.5 2-.5 2 .5 .5 .5 1 4 2 4 0 2-1 2-.5 .5-2 .5-4-1-1 0-1-.5-.5 .5-1.5 0-2 .5-.5-.5 0-2 .5-1 2-.5 2-1 .5-1.5 0-4ZM533 158l1 0-1 0ZM815.5 172l1.5-1.5 2 0 0 13.5-1 2-.5 2 .5 2 1 .5 0 613.5-740 0 0-329 1-1 3-1.5 4-1 3-1.5 0-4 1-2 0-.5 1-1.5 .5-2 .5-1 1-1 1-.5 2 0 1 .5 0 2-.5 2 0 2 1 2 .5 .5 2-.5 .5 0 1.5-1 2-1 0-.5 .5-1.5 0-2 1.5-1.5 0-.5 2-2 2-1.5 2-1 2 0 1.5 .5 3 0 1.5-1 1.5-3 .5-1.5 1.5-.5 .5 0 2 2 2 1.5 2 .5 2-1 3-3 1-.5 2-.5 1.5-1 .5-.5 1-1.5 2-4 1-.5 4-4 .5-1.5 1.5-6-.5-2-1.5-2-.5-2 .5-2 0-.5 .5-1.5 1-4 .5-1.5 0-.5 .5-2-.5-1.5 0-.5-1.5-2-.5-2 0-2 2-4 0-2-.5-2-1-2-.5-2 1-2 1-4 0-2.5-.5-1.5-1-2-.5-1.5-2 1-.5 .5-3 2-.5 0-2 .5-.5-.5-1-2 .5-2 0-4 .5-2 .5-.5 2-1 1.5-.5 1 0 1.5 .5 1.5 1.5-.5 2 0 2 1 1.5 2-1 .5-.5 1-2 .5-.5 .5-1.5 .5-2 1-1.5 2-2 4 1 2-.5 1.5-1 .5-.5 2 0 2 .5 2 0 2 .5 2 1.5 .5 0 1.5 .5 2 0 2-1 6 0 2-1.5 2 0 2 .5 2 0 2 .5 1.5 1 .5 0 4 2 2 0 2-1 2-.5 2 0 4 1 2 0 2-1 2-.5 .5 0 1.5 .5 2 1 2 .5 2 0 2 1 1.5 1 .5 .5 2 .5 1.5 1 .5 0 4 1 4 0 2 .5 1 .5 1 1 2 1 .5 0 3.5 3.5 1.5 .5 .5 0 2 .5 2 0 2 .5 2 1 2 1.5 .5 .5 .5 2 0 2 1 4 0 2-.5 2 0 2 1 2 .5 2 0 2 .5 2 .5 .5 .5 1.5 0 6 1.5 2 2 2 2 1.5 2.5 2.5 2 4 1 4 .5 .5 2 1 6 1.5 2 0 2-1 1.5-2 .5-.5 2-3 .5-.5 1-2 2.5-2.5 1-1.5 .5-2-1-4 0-2 .5-2 0-6 1-.5 2-.5 .5-1 0-4-2-4 1.5-2 2-2 1.5-2 0-2-.5-2 0-2 1-1.5 0-2.5-2-1.5-2-.5-1.5-2-1-2-2-2-1.5-1-1-1-1-2 .5-2 0-2-.5-2 0-2 1.5-2 .5 0 2-.5 1.5-1.5 1-2 3.5-3.5 1-.5 1-1.5 1-.5 1-1 .5-1 1.5-2 2-4 1-4-1-2 0-.5-.5-1.5 .5-1 0-1 2-2 .5 0 1.5-1 2-1 1-2 .5-2 2-2 .5-1 1-1-1-1-2-1-.5 0-1.5-.5-1.5-1.5 0-4 .5-2 0-2 1-1.5 2-1 2 0 1 .5 2 2 1 2 0 .5 0-.5 .5-2 1-2 .5-.5 2-1 2 0 2-.5 4-2 2 .5 2 0 .5-.5 1.5-1 .5-1 1.5-1.5 4-1 2 0 .5 .5 3 2 .5 1.5 2 0 .5 .5 1.5 3 2 .5 2 0 4-3 1-.5 1-2-2-1.5-2-1-.5-1.5 .5-1.5 2 .5 2 0 1.5-3 2-2 0-2-1.5-1-1-1 .5-2 .5-.5 2-1.5 0-1 2 .5 4-1 1.5 1.5 0 2-1.5 1-4-1-1.5 2 1 4 .5 1 2 2 2-.5 .5-.5 1.5-1 2-1 .5 0 1.5-.5 2-1 2 .5 .5 1 .5 2 0 4-1 1.5-2 .5-2 0-2-.5-2 .5-2-.5-1 .5-1 1-.5 1 .5 1.5 8 0 2 1 2 .5 2 0 1 1 .5 2-.5 2 0 2 1 2 1.5 2 2 2 3 6 .5 2 1 2 0 .5 .5 1.5 1 2-2 4 .5 2 1 2 .5 2 0 2 .5 2 2 1.5 1.5 .5 .5 .5 2 1.5-2 1.5-.5 .5-.5 2 1 1 2 .5 1.5-1.5 .5-2-2-2 1-2 4-2 2 0 1 .5 2 1.5 2 1 6 0 4 2 1.5 1 2.5 0 2-2 2-1.5 1-.5 1-1 2-1 2-2 0-.5 2-3 .5-.5 1.5-2 0-.5 1-1.5 4-4 0-4 1-2 2-1 1-1 1-2 .5-2 1.5-1 .5-1 0-2-.5-2 0-.5-1.5-1.5-.5-1-1.5-1-.5-.5-4 0-2 .5-3 0-1 .5-2-.5-2-1.5-4-2-.5-.5-1-2-.5-1.5-.5-.5-1-2-.5-2-1.5-2-2-2-.5-2 1-2-.5-2-.5-.5-1-1.5-4-4-1-2 2-1.5 .5-.5 1.5-.5 2-1.5 .5 0 1.5-.5 2 0 .5 .5 0 4 .5 2 0 2-.5 2 .5 2 2 2 1 1.5 2 1 2.5-2.5 1-2-1.5-2 0-.5-.5-1.5 .5-.5 2-.5 2 0 2 2 .5 1 1.5 2 2 2 6-1.5 2-1 2-2 2-.5 2 .5 1 .5 1 1 2 1 4 1 2-.5 2 .5 1 1 1 2 0 1 .5 1-.5 2 0 .5-2 1.5-2-.5-2 0-2 1-2 .5-2-.5-6 1.5-2 0 2 1 0 1 2 1.5 .5 .5 1.5 2 2 1 4 0 2-.5 1.5-.5 .5 0 2-.5 1.5 .5 .5 0 1.5 2 .5 1.5 4 4 0 .5 1.5 2 .5 0 2 1.5 2 0 6-3 2-.5 1.5 2 .5 .5 2 1.5 2-1.5 0-.5 .5-2-.5-.5-2-1.5 0-2 2-2 2-1.5 .5-.5 3-2 0-2-2-2-1.5-2 0-2 .5-2-.5-1.5 0-.5-1-2-1-1-1.5-1-.5-.5-2-1-.5-.5-1.5-1-.5-1-2-2-.5-2 1-1 1.5-1 .5-.5 1-1.5 1-4 2-2 2-1 2 .5 .5 .5 1.5 2-.5 2-1.5 1-1 1-1 .5-2 1.5-.5 0-2 2 .5 1.5 0 .5 1.5 2 .5 .5 2-.5 2-1.5 .5-.5 1.5-2 0-.5 2-.5 2 2 .5 1 1.5 2 .5 0 1.5 1 2 0 2-1 .5 0 1.5-6 2-1.5 1.5-.5 .5-.5 2-1.5 2-1 1-1 1-1.5 .5-.5 1.5-6 0-6-.5-2 0-2 .5-2 0-.5 2-1 2-.5 2 2-.5 2-1.5 1.5-1 .5-1 2 1 2 1 1 1.5 1 .5 .5 1.5-.5 .5 0 2-4 0-.5 .5-1.5 1.5-2 2-2 2-4 0-2.5-1-1.5 0-2 1-1 1.5-1 2-2 .5-2 0-4 2-2 2 0 2-.5 2-1 .5-.5 1.5-2 3-6 .5-2 0-2 .5-1.5 0-.5 2-4 0-.5 .5-1.5 0-4 .5-2 1-1 2-.5 2 0 2 .5 2-1 .5 0 1.5-2 0-4 .5-2 4-4 1.5-1 2-.5 2 .5 4-1 2 0 2 .5 2 1 1.5 .5 .5 0 2 2 0 .5 .5 1.5 1.5 1 2 .5 .5 .5 1.5 1 .5 1 .5 2 1 2 2.5 0 1.5-.5 2-.5 1.5-1 2.5 0 2 2 1.5 2 .5 2 0 2 .5 2 1 2 .5 2 0 .5 .5-.5 1.5-1 .5-1 1.5-.5 2-1 2 .5 1 1 .5 2 0 6 .5 2 0 4.5-2 2-2 3 0 .5-1.5 6-.5 .5-.5 1.5 0 2 .5 2 0 .5 .5 1.5 .5 2 0 2 1 2 0 .5 1 1.5 1 2 0 .5 .5 1.5 1 2 2.5 2.5 2 1.5 .5 2 0 2 1 2 .5 .5 2 1 1.5 .5 2 2 .5 1.5 0 .5 .5 2 1.5 1.5 2 .5 2.5 0 1.5 .5 4 1 2.5 2.5 1.5 1 2 2 .5 1 1.5 2 6 1.5 1.5 .5 .5 0 2 1 4 0 1.5 1 .5 .5 2 1 1.5 .5 2.5 0 2-1 1.5-1 .5-.5 2-1.5 2 1.5 .5 .5 1 2 .5 .5 2 .5 2-.5 .5-.5 .5-2 0-2 .5-2 .5-.5 2-.5 6 0 2 .5 1.5 .5 .5 0 .5-2-.5-.5-.5-1.5 0-2 .5-1.5 0-.5 2-4 0-.5 1.5-1.5 .5-1.5 2-2 8 0 1-.5-1-2 .5-2 1.5-2 0-2.5-.5-1.5-.5-2 .5-2 .5-.5 2-1.5 2 0 2 .5 2 0 2-2 0-.5 2-1.5 .5-.5 1.5-1 4-2 2-.5 1.5-.5 .5 0 2-1 1-1 0-2-.5-2-.5-.5-2 .5-2 1-6 0-2 1-.5 0-1.5 .5-2 0-.5-.5-1.5-1-2-2-2-.5-2 .5-1.5 1-.5 0-2 1.5-.5 .5-1.5 1-1 1-1 .5-2 .5-2 0-1-1 1-.5 1-1.5 1-2-1.5-2-.5 0-4-4-2 0-2 .5-2 0-4 1-2-1-.5-.5-1.5-2 0-.5-2-2-3-1.5-1-1-.5-1 .5-2 1-2 1-1.5 .5-.5 1.5-2 2-2 2 0 2-1 .5-1 .5-2-.5-2-.5-.5-2-1-2 .5-.5-1 .5-.5 2-1 0-.5 2-1.5 0-.5 1.5-2 0-2-.5-2 0-2 1-1.5 2-2 1-.5 1-1.5 .5-.5 1.5-2 2-1.5 2 0 2 .5 2-.5 1 1.5 1 4 2 1 2 0 2-.5 2 .5 1 1 .5 2 .5 .5 1 1.5 1 1 2 0 .5-1 0-2-.5-2 0-2 1.5-2 .5-.5 2-.5 1.5-1 .5-.5 2-1 2 0 2 1 1.5 .5 .5 .5 2-1 2-.5 2 .5 2 1 2 .5 2-1 2-1.5 2-.5 2 1 2 .5 1-1.5 2-2 1-.5 2 0 2 .5 2 0 2 1.5 1 .5 1 1.5 2 1 .5-.5 1.5-.5 2-1.5 2-2 0-.5 4-3 2-2ZM329 310l2 .5 .5-.5-.5-1.5ZM459 285.5l0 .5-1.5 2 0 2 1.5 2 2.5 0 1.5-2-1-2-1-1-2-1ZM483 307l-.5 1-.5 2 1 1 1.5-1 .5-.5 1-1.5-1-1.5ZM731 293.5l0 1 .5-.5ZM751 277.5l-.5 .5-1.5 2-.5 2-1.5 3-2 1-2 .5-2 1-2.5 2.5-.5 2 0 2-1 1.5-.5 .5-1 4 .5 2 1 2 2 1.5 2 0 1-1.5 1-4-1-2-1-.5-2-1.5 1.5-2 .5 0 4-1 2-2 4-1 2 0 2 .5 2 1 2 0 1-1.5 1-2 1.5-2 .5-.5 2-1.5 .5 0 1-2-1.5-1-1-1-1-.5-4-3-4 1-2 0ZM759 272ZM741 231.5l0 1 0-.5ZM781 290l-2 1.5-2 2-1 .5-.5 2 2 4 1.5 2 .5 0 3 4 2.5 0 2-1 1.5-3 .5-.5 .5-1.5 1.5-2-.5-2-1-2 0-2-.5-1.5-.5-.5-1.5-1-2-.5-2 0ZM572.5 196l.5-.5 .5 .5-.5 0ZM547 208l2.5 0 2 2-.5 .5-2 0-2-.5 0-1ZM525 220l2.5 0 .5 2-1 1.5-1.5 .5-.5 .5-.5-.5-.5-2 1-2ZM384.5 230l.5-.5 2 0 .5 .5 .5 2-1 1.5-.5 .5-1.5 .5-1.5 1.5-.5 0-2 .5-1.5-.5 1-2 .5-.5 2-1.5ZM726 234l1-1 2 0 .5 1 0 2-.5 .5-2 1-2-1 0-1ZM380.5 246l.5-.5 1 .5-1 1.5ZM524.5 266l.5 0ZM391 270l0-.5 2-.5 1 1-.5 2-.5 0-2-1.5ZM495.5 280l1.5-1 .5 1 .5 2 0 2-1 2-2-1.5 0-3.5ZM352.5 282l.5-.5 2 0 0 2.5-2 1.5-1-1.5ZM751 286ZM500.5 288l.5 0 2-.5 2-1 2 0 .5 1.5-1 2-1.5 1-1.5 3-.5 .5-2 .5-2-4 0-1.5ZM510 294l1-1 .5 1-.5 1.5ZM398 296l1-1 2-.5 1 1.5-1 1-2 1Z"/>
<path fill="#1970ef" fill-rule="evenodd" d="M561 64l11.5 0 2 2 1 2-.5 1.5-.5 .5-1.5 2-2.5 0-1.5-1-4-2-2 0-1-1-1-2ZM630.5 74l.5 0 0 1ZM378.5 92l1 0-.5 0ZM504 94l1-1.5 1.5 1.5-1.5 1.5ZM591 100l0-1 .5 1-.5 .5ZM604 188l1-.5 2 .5 1 2 0 2 1 1.5 0 .5 2 1.5 1 .5 1 0 4 1 1.5 1 2 2 .5 1.5 .5 .5 0 2 .5 2 1 1.5 .5 .5 1.5 .5 2 .5 2 0 2 .5 1 .5 1 2 0 2.5 .5 1.5 1.5 1 1 1 1 1.5 .5 .5 2 4 .5 2 0 2-1 1.5-2 2-2 .5 2 2 1.5 2 .5 2 0 2.5 .5 1.5 .5 2 1 1.5 .5 .5 1 2 .5 1.5 .5 .5 .5 2 1 2 1.5 2 1 2 .5 2 1 2 0 .5 4 4 2 3 .5 .5 .5 2 1 1.5 .5 .5 1.5 2 .5 0 1.5 1 2 .5 .5 .5 3 2 .5 0 2 1.5 2 2 0 .5 1.5 2 2.5 2.5 2 1.5 2 2 2 0 2-1.5 1-.5 1-1 2-.5 2 .5 2 0 2 .5 1 .5 1 1 1.5 3 .5 .5 2 .5 2 0 2 1 .5 0 1.5 1 2 0 2-.5 4 0 2 .5 2 0 2 1 1.5 2 .5 2 4 0 2 1 .5 1 3 4 .5 1 1.5 1 .5 .5 2 1 .5 .5 1.5 .5 2 .5 4 2 2 .5 3-1.5 1-1 2 0 .5 1 1 4 .5 1 2 2 1.5 1 .5 .5 1 1.5 .5 2 .5 1 2 1 4-2 2 0 2 1 1 1 1 .5 2 1.5 2 0 2-1.5 2-.5 2 0 2 .5 2-1 1-1.5 1-2 0-4 1.5-2 .5-.5 2-.5 2 .5 1 .5 1 1.5 2 1 .5-.5 1.5-1 2-1 1.5 2 .5 .5 2 1.5 2 1 2 2 2 .5 2-1 .5-.5 .5-2 1-2 .5-2-.5-1.5-2-1-8-2-2-1.5 0-.5-.5-1.5 1-2 1.5-2 .5 0 0-2-.5-.5-.5-1.5-.5-2 3-1.5 2 1 .5 .5 .5 2 0 2-1 1.5-1 .5 1 1 .5 1 2 2 1.5 1 2 1 2 0 1.5-2 .5-2-1-2-1-1.5-.5-.5-1.5-6 0-.5-.5-1.5 0-2-1-4-.5-1.5-1.5 1.5-2.5 0-.5-2-1-2 1.5-1 2 .5 1 .5 1 1.5 .5-1.5 0-4-.5-2 0-2-2 .5-2 0-2 .5-1.5 1-.5 1.5-2-.5-4 0-2-.5-1.5-.5-2-2 0-2 1-2 .5-.5 4-1 2 0 .5-.5 1-2 .5-.5 1-1.5 1-1 4 0 4-1 0-2-1-2 1-2 2 .5 1 1.5-.5 2-.5 1.5-1.5 .5 1.5 2 0 2.5-.5 1.5-1 2-.5 1.5 0 2.5 2 .5 2 0 2 .5 0 525-740 0 0-324 2 0 2 1 4 0 1.5 1 7 0 .5-2 0-2 1-2 2-2 2-.5 1.5 .5 .5 .5 2 1.5 2 .5 2 0 1-.5 0-2-1-1.5-1-.5 .5-2 .5 0 2-1 2-.5 1-.5 2-2 3-1.5 2-.5 3 0 1-.5 4-3 .5-.5 1.5-.5 4-3 .5-.5 3-2 .5-.5 2-1 2-.5 2-1 4-1 2 0 2-1 3-3 1-1.5 0-.5 1-2-.5-2-.5-.5-2-1 0-.5-.5-2 .5-2 1-2 1-1.5 .5-.5 .5-2-.5-2-.5-1.5 0-.5-1-2 .5-2 0-2 .5-2 2-2 1.5-2-1-2-4-4-.5-1.5 0-1 2-2 2-1 .5-.5 1.5-2-1-4 0-2 .5-2 1-2 1.5-2 1-2 .5-2-1-4 0-2 .5-2 1-2 0-.5 2-2 .5 .5 1.5 1 2 1 2 1.5 2 .5 2 0 2-.5 2-1.5 2-.5 2 0 2-.5 2 0 2-.5 2 .5 2-.5 4 0 2 1 1.5 .5 .5 0 2 1 4-1 8 0 2 .5 8 0 2 .5 6 3 6 1.5 1.5 .5 .5 0 2 .5 4 3 4 2 .5 .5 1.5 1 2 1 1 2 .5 2 1 2 3 4-.5 2 0 4 1 2 0 2-.5 2 0 2 .5 .5 4 0 .5 1.5 2 4 2 2 1.5 1 1 1 1 .5 1.5 1.5 .5 0 1.5 2 .5 .5 1 1.5 1 4 0 .5 1 1.5 1 2 2 1.5 2 .5 2 1 2 .5 2-.5 2 0 2-1 1.5-2 .5-.5 1-1.5 2-2 1-1.5 0-.5 1.5-2 1-2 1.5-2 1-4 0-2-1-4 .5-2 1.5-2 .5 0 1.5-1.5 1-.5 1-4-1-4 0-2 .5-2 .5-.5 2-1.5 2-2 .5-2-.5-2 0-8-.5-2-1-2-.5-.5-2-3-.5-.5-1-2 1-2 .5-.5 3-1.5 0-2 .5-2 0-2-1.5-1-1-1-1-.5-2-1.5 2-1.5 .5-.5 1.5-.5 2 0 2 .5 1.5 0 .5 .5 0-.5 .5-2 0-2-.5-2 0-.5-1-1.5 0-2 3-6 0-.5 .5-1.5 .5-2 1-2 2-1.5 2.5-2.5 .5-2 1-1.5 2-1 4 0 2-1.5 0-4 1.5-2 2.5 0 2-.5 4 0 2-3 0-.5 2-2 2-.5 1.5 .5 .5 0 2 2 1.5 2 .5 .5 2-.5 2-2 2 .5 .5-.5 1.5-.5 4-2 2-.5 2 0 1.5 1 .5 0 2 2 .5 0 1.5 1.5 2 1 6 0 2 1.5 .5 2-1 2-3.5 3.5 0 1 2 3 .5 .5 2 4 2 2 1.5 1 2 0 1 1 1 4 0 .5 .5 1.5 1.5 1.5 0 .5 1.5 2 1 2 .5 2 3 3 1.5 1 .5 .5 2 .5 2 0 2-1 2-1.5 2.5-2.5 1.5-1 2 0 6 1.5 4 0 2 1 2 .5 4 0 2-1.5 2.5-2.5 1.5-1 10-5 1 0 1-.5 6 0 1.5 .5 .5 .5 2 .5 2-.5 .5-.5 1.5-1 3-3 1-2 .5-2 0-4 1.5-.5 3.5-3.5 .5-1 1-1 .5-2-.5-2 1-2 2-.5 2 0 2 .5 2 1 3 3 1 .5 1.5-.5 2.5-2.5 2-1 2 0 2 .5 2 0 2-.5 2-1 1.5-1.5 .5-1 2-2 1.5-1 .5-.5 2-1.5 0-.5 .5-1.5 1.5-2 2-1.5 2-1 2-1.5 2-2 1.5-2 .5-1 2-2 .5-1 0-2 1-2 .5-.5 2-1 4 0 .5-.5 1.5-.5 1-1.5 1-.5 1-1.5 .5-2 .5-1 0-1 2-4 0-.5 2-.5 .5 1 1.5 1 2 1 2-2-2-4 1.5-2 .5-.5 2-3 2-2 2-.5 .5 0 1.5-.5 2-1 .5-.5 1-2 0-2 .5-1 0-1 1-2 1-1 1.5-1 .5-1 2-2 2-.5 2 0 2-1 1-1.5 .5-2-.5-2-1-2-1.5-2-.5-1-1-1-.5-2 0-2-2.5-2.5-1-1.5 0-2 .5-2 .5-1 1-1 1-1.5 0-.5 .5-2 0-2 .5-2 1-2 0-.5 .5-1.5 1-2 .5-.5 .5-1.5 .5-2 1-2 4-2 2-1.5 .5-.5 3-4 .5-.5 4-1 .5-.5 1.5-1ZM99 483.5l-1 .5 1 .5 1.5 1.5 .5 1 2-.5 .5-.5-.5-1-1.5-1-.5-.5ZM121 481.5l-2.5 2.5 0 4 .5 .5 2 0 .5-.5 0-4-.5-2ZM728 190l1-1 2 0 2 .5 0 .5 1.5 2 .5 1 1 1 1 1.5 .5 .5 .5 2 2 4 2 2 1 1.5 .5 .5 1 2-1 2-.5 .5-2 .5-2 0-2 .5-2 2-3-1.5-1-1-.5-1 0-2 .5-2 0-2 2-4-.5-2-1.5-1-2-.5-.5-.5-1.5-2 0-2.5ZM807 190l.5 0-.5 0ZM769 196l2-1 2 1 .5 2 0 2 3.5 3.5 2 0 2-1 .5-.5 1.5-1 2-1 6 0 2 .5 2 1 2-.5 1.5-1 .5 0 2-.5 1.5 .5 0 2-1 2-2.5 2.5-2 1.5-2-.5-2-1-.5 1.5-.5 2-1 2 0 .5-1 1.5-2 4-1 1-.5 1-.5 2-1 1-1.5 1-.5 .5-2-1-2-1.5 0-.5-2-1-1.5-.5-.5-.5-.5-1.5-1-2-2-2-.5-2 .5-2-.5-2 0-.5-1-1.5-1-1-2-.5-.5-.5 0-4 .5-.5 .5-1.5 1.5-2ZM626 200l1-.5 2-.5 .5 1-2 2-1 0ZM817.5 206l1.5-.5 0 11.5-1.5 1-.5 .5-1 1.5-.5 2 0 2 1.5 1.5 2 .5 0 4-2-1-2 1-.5 2 0 2-1.5 1.5-2 .5-2-.5-1.5-1.5 0-2 1-2 2-2 .5-2-2-4-2-1.5-2 0-2 1 0 .5-.5 2-1.5 3-2 2-2 .5-2 0-2 .5-2-.5 0-1.5-.5-2-1-2-.5-2 0-2 2-1 2 0 2-.5 4 0 2-.5 .5-2 0-2 1.5-1.5 1.5-.5 .5 0 1.5-2 2.5-2.5 2-.5 2 .5 2-.5 2-1ZM762 212l2 0 .5 2-1.5 .5-2 .5-2-.5-.5-.5 .5-.5 2-1ZM789 232l1.5 2 .5 .5 2 1.5 .5 0 1.5 .5 2 1.5 0 .5 1.5 1.5-.5 2-1 .5-2 3-.5 .5 .5 1 0 2-2 .5-.5-1.5 0-2-1.5-2-.5-2 0-2-1.5-2-.5 0-1.5-.5-1.5-1.5 .5-2 1-1ZM816 236l1-1 2-.5 0 4.5-2-.5-.5-.5ZM813 242l0-.5 2-1.5 1 2 0 2-1 1.5-2-1.5ZM787 254l2-.5 1 .5 1 1 .5 1-.5 1-2 .5-2-.5-1.5-1 1.5-2ZM806.5 284l.5 0 0 .5ZM749.5 302l1.5-1 2 1 0 2-1 2-1 1-2 0-1.5-1 0-2 1.5-1.5ZM758.5 310l.5-.5 2-.5 2 1 1 2 0 2 .5 2 0 2 1 2 0 2-.5 .5-.5-.5-3-2-1-2 .5-2-.5-2-1.5-2ZM773 318l2-1 2-.5 .5 1.5-.5 1-2 0-2-1Z"/>
<path fill="#0a80ff" fill-rule="evenodd" d="M611 202l2-1 2 0 2 1 1.5 6 .5 .5 1 1.5 2 2 1 2 0 .5 .5 1.5 1.5 2 2 2 2 1 2 .5 1.5 .5 .5 0 2 1.5 .5 .5 .5 2-.5 2-.5 .5-1 1.5-1 2 0 2 1 2 .5 2 .5 1.5 0 .5 1.5 6 0 2 .5 1 1 1 1 1.5 0 .5 1 2 .5 2 .5 1.5 .5 .5 1.5 1 2 2 2 4 4 4 1.5 3 .5 2 1 2 1 1 .5 1 6 6 1.5 2 2 4 1.5 2 .5 .5 4 0 2 .5 1 1 1 2 4 2 2 2 2 1 2 0 1-1 1-4 0-.5 2-1.5 .5 0 1.5 .5 1 1.5 1 2 0 1 .5 1 1.5 .5 2 0 2-.5 2 0 2 .5 6 0 2-.5 2 .5 2 1 .5 .5 1.5 1 2 2 2 1 .5 0 1.5 1 1 1 1 4 2 2 .5 0 1.5 .5 4 1 2 0 4 2 .5 .5 1.5 1 2 0 2 .5 2 0 2.5 2.5 1.5 2 1 4 1 1.5 .5 .5 1.5 1 2 1 2 .5 4 0 6 1.5 2 1 2 .5 1.5 .5 .5 0 2 1 1.5 1 2.5 0 2-1.5 2-2 1-.5 1-1 6-3 6 0 4-1 6 0 2-.5 2-1 4-3 .5-.5 1.5-1 0 481-740 0 0-303 2-1 2-1.5 0-.5 1.5-2 1-2-.5-2 2-2 4 0 1.5 2 1 2-.5 .5-2 3 0 .5-1 2-1 1.5 0 2.5 2 .5 1.5-.5 .5-.5 4-2 1-1.5 1-1 1.5-1 .5 0 2-.5 2 .5 .5 0 1.5 .5 2-.5 .5 0 1.5-1.5 2-1 2-.5 2 .5 .5 .5 1.5 1 2 0 2-1 2-2 2-1.5 1-.5 1-1 2-.5 2 0 1.5-.5 .5-2-1-4 2-4 1-1.5 2-2 0-.5 1.5-2 .5-2-4-4 .5-2 0-2 2-2 1.5-1 2-.5 1-.5 1-1.5 .5-.5 1.5-1 4 2 2 0 2-1 1-2 0-2 1-1.5 4-2 .5-.5 1-2 .5-2 2-2 1.5-2-.5-2-2-4 1-4-1-4-1-1.5 0-.5-.5-2 0-2 .5-1.5 0-.5 1.5-2 .5-1 1-1 2-4 0-2-1-2-2-2-1.5-2 1.5-6-1-4 .5-2 .5-.5 2-3 .5-.5 1-2 .5-.5 1-1.5 1-1 2-1 2-.5 1.5 .5 .5 0 2 .5 6 0 2 .5 4-1 1-2 .5-2 .5-.5 2-.5 2 0 2-.5 6 0 4 1 4 0 2 .5 2-.5 2 0 2-.5 4 0 2 .5 1 .5 1 2 1.5 2 .5 .5 2 0 2-.5 .5 0 1.5-.5 2 0 1.5 .5 .5 0 2 1.5 1.5 .5 .5 .5 2 .5 2 1 .5 0 1.5 1 1 1 1 1.5 .5 .5 .5 2 1 1.5 .5 .5 1.5 2 0 4 1 2 1 4 0 2 .5 2 1.5 2 2 1.5 .5 .5 1.5 1 3 3 1 1.5 4 2 .5 .5 3 2 2 2 .5 1.5 0 .5 .5 2 0 2 .5 2 1 2 2 1.5 .5 .5 1.5 1 4 2 4 0 4-1 .5 0 3-2 .5-.5 2-1.5 2-2 2-1.5 1-.5 1-1.5 .5-.5 1.5-2 0-.5 .5-1.5 1.5-6 1.5-2 .5 0 1.5-2 .5-2 0-2 .5-2 0-6 .5-2 1-2 1-4 1-2 1.5-2 .5-.5 .5-1.5 .5-2 0-4-.5-2-.5-1.5 0-.5-.5-2 1-2 1.5-2 1-4-.5-2-1-2-.5-2 0-4 1-1.5 .5-.5 1.5-1 2-1 2-1.5 .5-.5 .5-2-1-1-2-1-.5 0-1.5-2 0-.5 .5-1.5 2-2 1-2-1-4 0-2 .5-2 1-1 1.5-1 .5-.5 2-1 .5-.5 1.5-2 2-1 2-.5 4 1 2-1 2 0 4-1 2-2 2-.5 2 1 .5 0 1 2 .5 2 2-.5 .5-1.5 .5-2 1-1 4 1 .5 0 1.5 1.5 1 .5 .5 2 1 2 1.5 1 2 .5 1.5 .5 2.5 0 2-.5 2 1 1.5 1.5 .5 1.5 .5 .5 1 2 .5 0 2 2 2 1.5 2 .5 2 0 2 2 1.5 2 1 2 1.5 1.5 0 .5 2 1.5 .5 .5 1.5 2 2 2 .5 0 1.5 .5 2 .5 2-.5 .5-.5 1.5-.5 2-1.5 2-1 2-.5 2 1 .5 .5 1.5 .5 4 1 2 0 2-.5 2-1 2.5 0 1.5 .5 2 0 1-.5 1 0 2-1 4-1 2 0 2-1 .5-1 1.5-2 2-2 2 0 2 2 2 .5 1.5-.5 .5 0 2-1 2-.5 1.5-.5 .5 0 2-1 2-.5 6 1.5 2 0 2-1 .5-1 .5-2 2-2 1-.5 2-1.5 1-2 1-1.5 .5-.5 1-4 .5-.5 .5 .5 1.5 .5 2 1 1.5-1.5 1-2 1.5-2 .5 0 1.5-.5 2 .5 1.5 2 1 0 0-2-.5-1.5-.5-.5 .5-.5 1-1.5 1-.5 2 1 2 1.5 2-.5 2 0 4-1 2.5-2.5 1.5-2 .5 0 1.5-1 1-1 1-2 2-1.5 .5-.5 1.5-1 2-1 2.5 0 1.5 .5 2 0 2-1 2-1.5 1.5-2 .5-2 0-2 2-1.5 1-.5 1-1 2-.5 2-1 2-.5 2-1 .5 0 1.5-1.5 0-.5 1.5-2 .5-1.5 .5-.5 0-2-.5-1.5-.5-.5-1-2 0-2 1-4 .5-.5 1-1.5 1-.5 2-.5 2-1 2-2 0-.5 .5-1.5 1-2 .5-.5 2-1 .5-.5 1.5-2 2-2 2-1.5 1-.5 0-4 1-2 1.5-2 .5-1.5 0-.5 2-4 2-1 1.5-1 .5-.5 2-1.5 0-.5 .5-1.5 0-2-.5-2 0-2-2-4-1.5-2-.5-1.5 0-.5 1.5-2 2.5-2.5 1-1.5 0-4-1-2-2-1.5-.5-.5-1-2 .5-2 1-1.5 4 0 2 .5 2-.5 .5-.5 1.5-1 6-3ZM575 277.5l-2 .5-1.5 2-.5 2 2 .5 2-.5 1.5-2-.5-2ZM488.5 326l.5-.5 2-1 2 .5 1.5 1 0 2-1.5 .5-2 .5-2 0-1-1ZM82.5 490l.5-.5 .5 .5-.5 0Z"/>
<path fill="#1a91ff" fill-rule="evenodd" d="M615.5 214l1.5-1 1.5 1-1.5 2ZM611 218l2-.5 .5 .5 1 2 .5 2 2 0 2-2 2 0 2 2 1 2 1 1.5 6 0 .5 .5 1 2 0 2-1 2-.5 2 0 2 .5 2 0 2 .5 2 0 2-1 4 1 2 2 2 1 1.5 .5 .5 1 4 0 2 .5 2 1 2 1 1 2 1 1.5 2 2.5 2.5 2 1.5 1.5 2 .5 2 2 4 1.5 2 2.5 5 4 4 .5 1 0 2-.5 1.5 0 .5-1 4 1 1 4 2 2 .5 2 0 6 1.5 2 1 .5 0 1.5 1.5 1 .5 1 0 4 1 2 1 2 1.5 .5 .5 3 2 .5 .5 2-.5 1.5-2 .5-.5 .5-1.5 2-2 1.5-1 1-1 1-1.5 .5-.5 1.5-.5 2-.5 2 0 2-.5 2 0 3 1.5 4 4 1 1.5 .5 .5 1 4 .5 1.5 .5 .5 1.5 1 2 1 1.5 2-1 2-.5 .5-.5 1.5 .5 2 .5 0 2-2 .5-2 1-1 2-1 4 0 2 1.5 2.5 2.5 1.5 .5 2 .5 2 1 2 1.5 .5 .5 1.5 2 2 2 1.5 2 .5 1 2 2 2 .5 .5 .5 1.5 .5 2 2 2 1 2 0 2-.5 2 0 2-.5 2 0 2 .5 4 2 2-.5 2-1 1-1.5 1-.5 1.5-1.5 .5 0 4-2 1 0 1-.5 2-.5 2 0 2-.5 4 0 2-.5 2-1 2-.5 4-2 .5-.5 1.5-1 2-1 2 0 0 476-740 0 0-289 2 .5 2 0 2-.5 2 0 1-1 1-2 2-.5 2 0 1.5 .5 .5 .5 1 1.5 1 .5 1.5-.5 .5 0 1.5-2 .5-.5 .5-1.5 1.5-2 2-.5 .5 .5 1.5 1 1 1 1 1.5 .5 .5 3 2 .5 .5 2 .5 8 0 2-.5 2-1 2 0 .5 .5 1.5 1 2 0 2-.5 1-.5 1-1.5 0-.5 .5-2-.5-1.5-2-.5-2 1-2 .5-2-2-2-1.5-.5 0-1.5-2 2-1 2 .5 1.5 .5 .5 .5 2 .5 2 0 2-.5 0-.5 4-2 .5 0 1.5-.5 2-1 .5-.5 .5-2 0-2 .5-2 .5-1.5 0-.5 1.5-2 .5-.5 2 0 0 .5 1 4 0 2 1 1 2-1 .5 0 1.5-.5 2 1 2 1.5 2 0 2-1 1-1 .5-2-1.5-1.5-2-1-2 0-2-1-.5-.5-1-2-.5 0-2-1-1.5-1-.5-1 0-3 2-1 2 0 1.5 1 .5 .5 .5-.5 .5-2-1-2-.5-2 0-2-.5-2-1-1.5-.5-.5-1-2 1-4 2.5-2.5 2-3 .5-.5 1.5-1 2 0 2-.5 .5-.5 1.5-3 1-1 1-1.5 2 0 0-1-2 0-1-1.5 .5-2 .5-1 1.5-1 .5-.5 1.5 .5 .5 1.5 1-1.5 .5-2 0-2 .5-1.5 0-2.5-2-1-1-1-1-1.5 0-1 1-1.5 2-2 1-.5 2-1.5 1-2-.5-2-2-4 0-2 1.5-1.5 0-.5 2-2 0-.5 2-1 2-.5 2 0-1.5-6-.5-1.5-2-2-1 1.5-1 .5-1 1.5-1 1-2 .5-2-.5-1-1 0-2 2-2 1-.5 2-.5 2 .5 3-1.5 1.5 0 1.5 1 2 2 1.5 3 .5 .5 1 1.5 2 2 1 2 0 .5 2 .5 2-1 2-1.5 1.5-.5 .5-.5 2-1 .5-.5 1.5-2 2-1.5 .5-.5 1.5-2 0-.5 2-3 .5-.5 1-4 .5-.5 1-1.5 .5-2 .5-1 1-1 1-.5 10 0 2 .5 4 0 2 .5 2 0 2 1 4 1 2 0 2 1 .5 .5 3 6 .5 1.5 0 .5 1 2 1 4 0 2 .5 2 1.5 2 0 .5 2 3 2.5 2.5 1.5 1 1 1 1 2 2 2 2 1 2 .5 1.5 .5 .5 0 4 2 1 2 0 2-1 4 .5 2 1 2 .5 .5 2 1.5 2 2 2 1.5 .5 .5 1.5 1 6 0 2-.5 2 0 2-1 4-3 .5-.5 3-2 2.5-2.5 2-1.5 2-1 1-1 1-1.5 0-.5 .5-2 1-2 0-2 .5-1 0-1 1.5-2 .5-.5 1-1.5 .5-2 0-2 .5-2 0-2 1.5-6 1-2 .5-2 2-2 1-.5 1.5-1.5 .5-2-.5-2 .5-2 2-4 0-2-.5-2-1-2-.5-2 0-.5-.5-1.5 0-6 .5-2 0-4 1-4 3-3 1.5-1 .5-1 1-1 .5-2 0-2 .5-2 0-1 .5-1 .5-2-.5-2 1.5-1 2 1 2-1 .5-1 1.5-1.5 2-1 2-.5 2 0 4 1 2 0 2-.5 2 0 2 2 2 .5 1.5-2 .5-1 1-1 1-.5 2 .5 2 2 1.5 2 .5 .5 2 1.5 2 1 6 1.5 2 1 .5 .5 1.5 1 2 .5 2-.5 2 0 1.5 1 1 2 4 4 1 2 .5 1.5 0 .5 2 1.5 4 2 1.5 .5 .5 .5 2 0 .5-.5 1.5-.5 2-1.5 .5 0 1.5-.5 2-1 2-.5 2 0 2 .5 6 3 1.5 .5 .5 0 2 .5 2 0 1.5-.5 .5-.5 6-3 6-1.5 10 0 2-1 1.5-2 .5-.5 4-2 2-.5 2-1 2 .5 12 0 1.5-.5 .5-.5 4-3 2-.5 .5 0 1.5-.5 2-1.5 .5 0 2-2 .5-2 0-2 2-2 3-1.5 2 1 0 .5 1.5 2 .5 0 2 .5 2 0 .5-.5 3-2 .5-.5 4-2 1-1.5 .5-2 .5-.5 2-1 1.5 1.5 0 2 .5 1.5 2 0 4-1 .5-.5 1.5-1 6-6 2-.5 2-1 1-1.5 0-2 1-4 0-.5 1-1.5 2-2 1-1.5 0-.5 1.5-2 .5-2 1-2 3-1.5 1.5-.5 3.5 0 2 2 0 2-.5 2 1 2 .5 .5 .5-.5 1-2 0-4 .5-1.5 0-.5 2-1 2 0 2-1 2-1.5 2-2 2-.5 .5 0 1.5-1 .5-1-.5-2 .5-2 3.5-3.5 0-.5 .5-2 0-2-.5-1.5-2-2-1.5-.5 0-2 .5-2 0-2 1-4 2-.5 2 1 2-.5 1-2-1-4 1-4 1-1 1.5-3 0-2 1-4 1.5-2 2-2 1.5-6 0-4 .5-1.5 0-.5 1.5-2 .5-1 1-1 1-2 .5-2 0-2 1.5-3 2-1ZM178 388l1-.5 2-.5 4 1 1.5 2-1.5 1-4 1-2-1-1-1ZM169 394Z"/>
<path fill="#29a2ff" fill-rule="evenodd" d="M627 230l2-.5 1 .5-1 1.5-.5 .5-1.5 2 0 2-.5 2-1.5 1.5-1.5-1.5-.5-1 0-5 2-1 2-.5ZM607 232l2-1.5 4 0 2 .5 1 1 0 2-1 1.5-2 2-2 1-2 .5-2-4 0-1ZM615.5 240l1.5-1.5 2 .5 4 2 2-.5 1.5 1.5 .5 1 0 1.5-.5 1.5-.5 2 .5 2 0 2 .5 2 0 .5 2 3 .5 .5 1.5 1 2 2 .5 1 1 4 .5 1.5 0 .5 2 2 2 1.5 .5 .5 1.5 1 2 2 .5 1 .5 2 1 2 0 .5 .5 1.5 0 2 .5 2 1 2-.5 2 0 2-.5 2-1 2 .5 2 2 4 0 2-.5 1.5 0 4.5 2 4 .5 2-.5 2 0 4 2 1.5 2 .5 2-2 2-4 0-4 2-1 4 0 2 .5 .5 .5 1.5 2-1 4 .5 2 .5 .5 2 1 4 0 2 .5 2-1 .5-1 1.5-.5 2 0 2 .5 6-1.5 2 0 2-.5 .5 0 1.5-.5 2-1.5 1.5-2 .5-1.5 .5-.5 .5-2 1-1 .5-1 1.5-2 0-.5 1.5-1.5 .5 0 4-1 2 0 1 1 1 .5 2 2 1 1.5 .5 2 .5 1.5 0 .5 1 4 1 1.5 .5 .5 1 2 0 2 .5 2 1.5 2 .5 0 2 1 2 0 2-.5 1.5-.5 .5 0 2-.5 4 2 2 0 2 1 2 .5 2 1 2 2 .5 2 0 2 1.5 3 2 2 2 1 4.5 0 1.5 .5 2 1 1.5 .5 .5 0 6 1.5 6 0 2-.5 4 0 2-.5 1-.5 1-1 1.5-1 .5-1 2-2 1.5-1 .5 0 2-1 4-1 4 0 6-1.5 1.5-.5 .5 0 2-1 2-.5 .5-.5 1.5-1 4-1 0 472-740 0 0-256.5 2 0 2 .5 2 0 2-1 .5-1 0-2-.5-2 0-.5-.5-1.5 0-2 .5-2 0-4-1-2-.5-2 1-2 0-2 .5-.5 2 0 2-.5 1-1 1-.5 2-1.5 2-1 2 0 2 .5 2 1 2 1.5 2 2 0 2.5-.5 1.5-.5 2 1 1 2 1 2-1.5 .5-.5 1.5-2 2-.5 2 .5 2 0 2-1 2 0 1.5 1 .5 1 4-1 4 1 2-.5 1.5-.5 .5-1 1-1 1-1.5 2-2 2 .5 1.5 1 .5 0 2 1 2 .5 2-2 2-1 2-.5 2 2 .5 0 1.5 .5 4 0 2-.5 1-2-.5-2 .5-2 1-1.5 2-1 4-1 .5-.5 2-4 2-2 1.5-1 .5-1 1.5-2 4-4 0-1 1.5-3 .5-.5 .5-1.5 0-2-.5-2 0-.5-.5-1.5 0-2-.5-2-1-1.5 0-.5-2-2-2-.5-4 0-2-1-.5-.5-1.5-2-.5 0-1.5-.5-2-.5-1.5-1-.5-.5-.5-1.5 .5-1.5 .5-.5 1.5-.5 2 .5 2 2 0 .5 2 1 3-1.5 0-2-1-2-1.5-2-.5-1.5 0-1.5 .5-1 1.5-1.5 1-.5 2-2-.5-2 0-2 .5-2 1-1.5 1-.5 1-2-.5-2 0-2 .5-1.5 2-1 2 0 4 1 2 0 1-.5 1-1 .5-1-.5-2 0-.5-4 0-2-1-.5-.5-.5-2 0-2 1-2 2-.5 2 .5 .5 0 1.5 .5 .5 1.5 .5 2 1 1 2 0 2-1 2-1.5 .5-.5 0-2-.5-1-2-.5-2 0-2 .5-1-1 0-4 1-1.5 2 0 1-.5 1-1 .5-1 0-2 .5-2 1-1 2-1 4 1 2 0 1.5-1 .5-.5 1-1.5 1-4 0-2 2-4 2-2 2-4 1.5-2 .5-.5 2-1 2.5-2.5 1.5-1 2-.5 6 1.5 2 0 4 1 2 0 2 1 1.5 2 .5 .5 .5 1.5 1 2 .5 2 0 1 .5 1 0 2 2 8 1 2 .5 .5 4 3 2.5 2.5 1 2 .5 1.5 2.5 2.5 1.5 1 6 0 2 .5 1.5 .5-1 2-1 4 0 2 .5 2 1 2 2 2 1 .5 2 2 1 1.5 1 1 1.5 1 .5 .5 2 .5 2 0 2-.5 4 0 2-.5 .5 0 1.5-.5 3.5-3.5 .5 0 2-1.5 4-1 2-1 .5-.5 1.5-3 2-1 2-.5 1.5-1.5 .5-1.5 0-.5 .5-2 1.5-3 1-1 .5-2 .5-1.5 0-.5 .5-2 1-2 0-4-.5-2 .5-2 1-2 1.5-2 0-.5 1-1.5 1-2 1.5-2 2-2 .5-1 1-1 1-2 1.5-6 0-2-1-2-.5-1.5 0-.5-1.5-6-.5-.5-1-1.5-1-2 .5-2 1-2 .5-1.5 .5-.5 0-4 1.5-2 2-1 1-1 1-.5 1-1.5 2-4 1-1.5 2-.5 .5 0 1.5-.5 2-2 2-1 2 0 1.5-.5 .5 0 2-.5 1.5 .5 .5 0 1.5 2 .5 .5 2 1.5 2-1 0-1 .5-2 2-2 1.5-1 2 .5 .5 .5 1.5 1 2 2 1.5 1 2 2 .5 1 2 .5 2 0 .5 .5 1.5 .5 2 .5 4-1 2 1 4 4 1.5 3 .5 2 2 2 .5 0 1.5 .5 2 1 1.5 .5 .5 .5 2 1 2 .5 4.5 0 1.5-.5 2-.5 2 0 2-.5 .5-.5 1.5-.5 2-.5 2 .5 1.5 .5 .5 0 2 .5 2-.5 2 0 2 .5 2-.5 .5 0 1.5-.5 2-1.5 .5 0 1.5-.5 4-1 2 0 2 .5 1.5 1 .5 0 2 .5 2-.5 4-2 .5 0 1.5-.5 6-1.5 .5 0 1.5-.5 1-1.5 1-1 1.5-1 2.5 0 2 1 2-.5 .5-.5 1.5-.5 2-1 1.5-.5 .5 0 2-1.5 1-.5 1-1 2 0 4-1 .5 0 1.5-.5 4-1 4 0 2-.5 2-1.5 4-4 1.5-.5 .5-.5 2-.5 2-1 2-.5 4 0 4-2 4-1 .5-.5 1.5-1 1-1 1-1.5 2-1 6-1.5 4-4 1-2 7-7 2-.5 2 .5 2 0 2-.5 .5-.5 1.5-2 2-4 1.5-2 .5-.5 2-1 .5-.5 1.5-1 6-3 1.5-2 .5-.5 1-1.5 1-4 0-1 .5-1 1.5-1.5 4 0 .5-.5 1.5-2 .5-2-.5-2-1.5-2-1-2 .5-1.5 0-.5 .5-2 0-8 1-2 .5-2-1-4 .5-2 1-2 .5-2 1-2 0-.5 2-3 .5-.5 1.5-2 0-.5 2-2 1 .5 1 0 2 .5 2 0 1-.5 .5-2 .5-1.5ZM667 335l-1.5 1 1.5 1 1 1 1 1.5 0 .5 1 2 1 .5 2 .5 1-1 .5-2-1-2-2-2-.5-1-2-.5ZM81 562l-1 2 1 1.5 .5 .5 1.5 1 1.5-1-1.5-2-2-2Z"/>
<path fill="#39b3ff" fill-rule="evenodd" d="M606 252l1-.5 1 .5 1 2 12 0 2 1.5 0 .5 6 6 1 2 0 2-1 2 1.5 2 .5 0 2 1.5 .5 .5 1 2 0 2-3 4-.5 .5-2 .5-2-1-.5 2 1 2 1.5 2 0 .5 .5 1.5 0 2 1.5 2 1 2-.5 2-.5 .5-2 1-.5 .5-1.5 1-.5 1 .5 2 0 .5 2 2 1.5-.5 .5 0 2-1 4 0 2-.5 2 1 .5 .5 .5 2 0 4 .5 2 .5 1.5 0 1-.5 1.5-1.5 2-2 1.5-.5 .5-1 2 0 2 2 2 1.5 .5 2 1 .5 .5 1.5 .5 4 1 1 .5 1 1.5 0 .5 2 1.5 1 .5 .5 2-1.5 1.5-2 .5-1 2 1 .5 2 0 2 1 2.5 2.5 1.5 2 0 .5 .5 1.5 .5 2 1 1 2 1 2 0 6 1.5 2-1.5 2-4 1.5-2 .5-.5 2-1 .5-.5 1.5-2 1-4 1-1.5 0-2.5-1.5-2 0-2 1-2 .5-.5 4-1 2-1 6-1.5 .5 0 1.5-1 2-1 2-2 1.5-2 .5-.5 1-1.5 .5-2 0-2 .5-1.5 2-2 2-1 1.5 .5 .5 0 2 2 1 2 0 4-2 4 1 2 2 1 1.5 1 1 2 .5 2 1 1.5 2 2 2 .5 .5 0 1.5 .5 2 0 4 1 2.5 2.5 1.5 1 2 0 2 .5 .5 .5 1.5 2-.5 2-1 2 0 2 .5 2 0 2-2 4-.5 2 1.5 1 4-2 1.5-3 .5-2 0-.5 2-1 2 0 2 1 .5 .5 1.5 2 2 1.5 1.5 .5 .5 0 2-.5 2-1.5 .5 0 1.5-.5 .5 .5 1.5 .5 2 1.5 .5 0 1.5 .5 2 0 .5-.5 1.5-1 2-1 4-1 2 0 1.5-1 .5 0 2-1 1.5-1 .5 0 4-4 2-1.5 2-.5 6 0 2-1 2-.5 2 0 1.5-.5 .5 0 2-1 4-1 1 0 1-.5 2-.5 0 467-740 0 0-223 4-1 .5 0 1.5-.5 .5-1.5 1.5-.5 2-1 .5-.5 1.5-2 4 0 2 .5 .5-.5 .5-2 0-4-1-1.5-1.5-.5-4.5 0-1.5-2-.5-2 1.5-2 .5-2 0-2.5-.5-1.5-1-2 1.5-2 .5 0 1.5-.5 2-1 2-.5 2 0 2 .5 2 0 1.5-.5 .5-.5 2-1.5 2 0 2-.5 2 0 2 2 2 .5 1-4 1-1 1.5-1 .5-.5 2-1 .5-.5 1.5-.5 2 0 1.5 .5 .5 0 2 1 2-1 .5 0 1.5-2 2-2 .5 0 1.5 .5 1.5 1.5-1 4 1.5 1.5 2-1.5 0-2 1-2 1-1.5 .5-.5 1.5-.5 2 0 1.5 .5 .5 .5 1 1.5 0 2 1 .5 1-.5 1-2 .5-2 1.5-1 2-1 2 .5 2 2 2 1.5 2-.5 2-1 4 0 1.5-.5 .5-.5 2-3 .5-.5 1-2 .5-2 0-.5 2-1 2 .5 2 1 .5 0 1.5 .5 1.5-.5 1-2 1.5-2 2-1.5 2.5-2.5 .5-2-.5-2 0-4-1-4 0-2 1-2 0-2-.5-2 0-4-4-8 0-.5-.5-1.5 0-2-.5-2-1-1-.5-1-2-2-1-2 0-2 .5-2-.5-2 0-2 1-4 .5-1.5 0-.5 1.5-2 2.5-2.5 2-3 0-.5 2-4 2-1.5 1-.5 1-1 .5-1 2-2 1.5-1 .5-1 1.5-2 1-2 .5-2 2-4 .5-.5 6-3 1.5-.5 .5-.5 2-1.5 .5-2-.5-1.5-.5-.5 .5-1.5 0-.5 1-2 .5-2 0-2 .5-2 0-1 .5-1 1.5-2 2 0 2-1 .5-1 .5-2-.5-2 0-2 1-2 .5-.5 4-3 1-.5 1 0 4-1 2 0 2 .5 2 1 2 1.5 0 .5 .5 1.5 1 4 0 2 1 4 0 6 .5 2 1 2 2 1 2 0 2 .5 1 .5 2 2 .5 2 1 2 1 4 .5 1.5 .5 .5 1.5 2 .5 0-1 2-1.5 .5-1 1.5 0 2 1 2 2 1 2-.5 1-.5 1-1 2-1 2 1.5 .5 .5 1 2 .5 .5 1 1.5 .5 2 1 2 1.5 1 1.5 3 2.5 2.5 2 0 2-1 2-.5 2-1 1 0 3-1.5 .5-.5 1.5-.5 2-1 1.5-.5 .5 0 2-1 2-2 1.5-1 .5 0 4-1 1.5-1 .5 0 2-2 2-1 4-4 .5-1 1.5-2 1-2 2-2 1-1.5 .5-.5 1.5-3 0-1 1.5-6 0-2 .5-2 0-.5-.5-1.5 1-2 .5-2 1-1 1.5-1 .5-.5 2-1 .5-.5 0-4 1-4 1-2 1-4 0-2-1-4-1-2-1-4 0-2-.5-2-1-2 2.5-10 2.5-2.5 2-1.5 2-2 2-.5 2 .5 2 1 2-.5 2 .5 4 0 2-.5 6 0 2 .5 1-1 3-1.5 2 1 .5 .5-.5 2-2 1-2 0-.5 1 0 2 .5 .5 2 1 .5 .5 1.5 .5 2 .5 4 0 2-.5 2 .5 2 0 2 1 .5 0 1.5 1 2 .5 6 0 1.5 .5 .5 0 2 2 2 1.5 6 0 2 .5 2 0 2 .5 1.5-.5 .5 0 2-1 4-1 2 0 2 .5 2 1 2 0 4-1 2 .5 2 0 2-.5 .5-.5 1.5-.5 2-1 2-.5 .5 0 1.5-.5 6 0 2 .5 2 0 2-.5 4 0 2-.5 2-1 .5 0 1.5-.5 2-.5 1.5-1 .5-.5 2 0 4 1 1.5-.5 .5 0 2-1.5 .5-.5 1.5-1 2-2 2-1 4 0 2-.5 2-1 .5-.5 1.5-1 2-1 2 0 2-.5 2 0 2-.5 2-1 .5 0 1.5-.5 8-4 2-2 2-1.5 4-1 1.5-1 .5-.5 4-1 2 0 1.5-.5 .5 0 2-1 2-.5 1.5-.5 .5-.5 2-1 2 0 .5 1.5 2 2 1.5 .5 1-.5 1-1.5 0-2.5 2-2 2-1 2-2 1.5-1 2.5-2.5 2-1 .5-.5 1.5-1 2-.5 1-.5 1-2 0-2 2-1.5 .5-.5 1.5-1 2-1 1.5-2 0-2 .5-.5 4-1 1-.5 2-2 1-1.5 4-4 0-.5 2-2 .5 0 1.5-.5 4-1 .5-.5 1-4 0-2 .5-.5 2-.5 4 1 1-2 0-2-1-2-2-.5-1-1.5-1-1-.5-1-1.5-2-2-2-2-4-1.5-2 0-2 1.5-2 .5 0 1-2-.5-2-1-2 .5-2 1.5-2 0-1 .5-1-.5-1 0-1.5ZM737 379l-2 1-.5 2 .5 2-1 4 .5 2 .5 .5 2 1 3-1.5 1-1 .5-1 0-2-.5-1-1-1 0-2-.5-2-.5-.5ZM107 551.5l-.5 .5-1 2 0 2 1.5 2 2 1.5 1-1.5 0-2 .5-2-1-2-.5-.5Z"/>
<path fill="#49c4ff" fill-rule="evenodd" d="M610 306l1-.5 2 .5 .5 0 1.5 .5 2 0 1-.5 3 0 1.5 2 1 2 3 4 .5 1.5 .5 .5-2 4-.5 .5-.5 1.5-1 2-.5 2 1 2 0 2 .5 2 .5 .5 2 1 .5 .5 .5 2-1 1.5-.5 .5-.5 2 0 4-1 2-1.5 2-.5 1 0 1-1 2-1 4 0 2 2 1 2 .5 1.5 .5 .5 .5 .5 1.5 .5 2 1 .5 2 .5 2-1 2-2 1-2 1-1.5 .5-.5 1.5-1 2-.5 6 0 4 1 4 2 .5 .5 1.5 .5 2 0 .5-.5 1.5-1 2-.5 1-.5 3 0 2 .5 2-.5 .5 0 1.5-.5 4-2 2-2 2-1.5 1.5-2 .5-2 1-2 1-1.5 .5-.5 1-4 1-2 .5-2 1-1.5 0-.5 1.5-2 2.5-2.5 2-1.5 4-2 4 0 2 .5 2 0 2-.5 2 0 2 .5 2 1.5 1 2 .5 2 3 6 1.5 1 4-2 2 .5 .5 .5 1 2 0 4 .5 .5 .5 1.5 0 2-.5 2 .5 2 1 2 0 2-.5 2-1 2-2 1-2 .5-.5 .5-1.5 2 0 2 1.5 2 .5 1 1 1 1 1.5 0 1-.5 1.5-2 2-1.5 2 0 .5-.5 1.5 0 2 .5 2 0 .5 1 1.5 1 .5 2 1.5 2 2 1 2 1 4-.5 2 .5 2 2 1 4 1 2 0 2-.5 2-1.5 .5 0 1.5-2 0-4 .5-2 1-2 .5-.5 1-1.5 .5-2-1.5-2-1-2-.5-2 0-2 .5-2 3-3 1.5-1 6-6 .5-1 1.5-1 .5-.5 2-1.5 2 .5 2 0 .5-.5 1.5-1 1-1 3-1.5 2-.5 4.5 0 1.5 .5 2 0 2-1 2-2 2-1.5 2-1 1-1 1-1.5 .5-.5 1.5-3 2-1 6 0 4-1 2 0 2-.5 2-1 2-.5 4 1 2 0 0 460-740 0 0-215.5 2 0 .5-.5 1.5-.5 2-1 2-.5 4 0 2-1 1.5-1 0-2 .5-.5 1-1.5 1-.5 1.5-1.5 .5 0 2-1.5 .5-.5-.5-2 2-1 2-2 2-.5 1.5-.5 .5-.5 2-1 1.5-.5 .5 0 2-.5 2-1.5 .5 0 .5-2 1-.5 2-.5 2-1 1.5-2 .5-.5 2-1.5 1-2 .5-2 .5-.5 4-2 1.5 .5 .5 0 2 1 1.5 1 .5 .5 2 0 4-2 2 0 2-1 2 0 2-.5 4 1 6-3 2-.5 1-.5 3-3 1.5-1 .5 0 2-1.5 .5-.5 1.5-.5 2-1 1.5-.5 4.5 0 2 .5 2-1 2-1.5 .5 0 1.5-.5 2-1 2.5-2.5 1.5-2 2-4 1.5-2 .5-.5 .5-1.5 .5-2 0-4 .5-2 1-2 0-4-1-2-.5-2 .5-2 .5-1 2-2 1.5-3-1-2-.5-1.5 0-2.5-.5-2-2-4-3-2-.5-.5-1-1.5-.5-2 0-6-.5-.5-2-1-2 0-1-.5 0-2 .5-2 0-2 .5-1 0-1 1.5-2 .5-.5 2-1.5 0-.5 2-1.5 2 1 1 1 2 0 .5-2-1-2 1-2 .5-.5 4-3 1-.5 1-1 2 0 1 1 1 .5 2 1.5 2 1 2 0 1-1 3-1.5 2-.5 2-1.5 1-.5-1-.5-2-3-.5-.5 .5-.5 2-1 2 .5 2 0 4-4 2-.5 2-1 2-1.5 0-.5 1-1.5 1-2 2-1 1 1 5 2.5 2 1.5 1 2 .5 2 0 4 .5 .5 2 1.5 4 2 .5 0 1 2 0 2 .5 1.5 .5 .5 1.5 1 2-.5 1.5 1.5 .5 0 2 2 2 1 2 0 2 .5 1.5 .5 .5 0 2 1 2 0 2-.5 4-2 .5-.5 1.5-.5 2-.5 1.5-1 .5 0 2-2 .5 0 1.5-.5 2-.5 1.5-1 .5 0 2-1.5 .5-.5 1.5-1 4-1 2-1.5 2-1 2-1.5 1.5-2 .5-.5 1-1.5 2-2 1-1.5 4-4 1.5-.5 .5-.5 2-1.5 1-2-1-2-.5-2 .5-2 1-2 6-6 1-2 .5-2 1-2 .5-1.5 0-.5 1.5-6-.5-2-1-2 .5-2 1-2 0-2-1-4-.5-1.5 0-.5-.5-2-1-2 0-2-.5-2 0-2 1-2 1-1 2-1 0-1-.5-1 .5-2 2 1.5 4 0 2-.5 4 1 1 0 1 .5 2 .5 .5 1 0 2-1 4 0 4-.5 2 0 4 .5 2 .5 1 2 1 2-.5 2 0 2 .5 2-.5 1.5-1.5 .5-1 1-1 .5-2 2.5-2.5 2-1 2.5-2.5 1.5-1 4 0 2-.5 4 0 4 1 4 0 2 .5 2-.5 2 0 3-1.5 3 0 2 .5 4 0 2-1 4-1 2 .5 2 1 .5 0 1.5 .5 2 0 4-1 8 0 6-1.5 2 0 4-2 .5 0 1.5 .5 2 0 2-.5 2 .5 2 1 2 .5 2-.5 2-1 1.5-.5 .5 0 2-.5 1.5 .5 .5 0 2 .5 2 0 2-1 3.5-3.5 .5 0 2-2 .5 0 1.5-1.5 1-.5 1-1 2-.5 4 0 .5-.5 1.5-1 1-1 3-1.5 1.5-.5 .5 0 4-1 4-2 2 0 4-1 2 0 2-1 2 0 4-1 1 0 1-.5 2 0 2-.5 2 0 4-1 2-1 2-.5 1.5-.5 .5-2 0-1 2 0 1.5 1 .5 0 2 .5 2-.5 .5 0 3-2 2-4 .5-.5 1-1.5 2-2 1-1.5 .5-.5 1.5-2 2-1.5 6-1.5 1.5-1 .5 0 2-1.5 2.5-2.5 1.5-2 1-2 .5-2 2.5-2.5 4-1 .5-.5 3-4 .5 0 2-.5 4 0 2-.5 2-2ZM632 308l1-1.5 2 .5 1.5 1 .5 1.5 0 1-1 1.5-.5 2-.5 1-1.5-3-.5-.5-1-1.5ZM708.5 312l.5-.5 2 .5-2 .5ZM239 396l2.5 0 1.5 .5 1.5 1.5 .5 2-.5 2-1.5 2 0 2.5 .5 1.5 .5 2 1 2-.5 2-1.5 2-.5 0-1.5 .5-4 2-2 0-.5-.5-1.5-6 1-4 0-2-.5-2 1-4 .5-.5 1-1.5 1-1ZM247 424l4-1 2 0 2-.5 2 .5 .5 1-.5 2 0 .5-2 1.5-2 .5-4 0-2-.5-1-2 1-2ZM234 428l1-.5 4 0 1 .5 1 1.5 .5 .5-.5 .5-2 1-1.5 .5-.5 .5-.5-.5-1.5-1-.5-1ZM219 434l.5 0-.5 0Z"/>
<path fill="#59d5ff" fill-rule="evenodd" d="M604.5 318l.5-.5 2 0 2 .5 .5 0 1.5 1 2 .5 2 0 2 .5 0 2-1.5 2-.5 .5-1 1.5-1 1-.5 1-.5 2 0 2 .5 2 1 2 1.5 2 .5 2 0 2-.5 2 0 .5-2 1.5-.5 0-2 2 .5 1.5 0 .5 .5 2 1 2 .5 2 1 2 .5 2 .5 1 0 1 1 2 .5 2 1 2 .5 2 1 1.5 1 .5 2 2 1 4 0 .5 .5 1.5 .5 2 1 1 .5 1 1.5 1.5 2 .5 2-2 0-.5 1-1.5 0-2-1-2 0-2 2-2 2 2 0 .5 2 .5 2-2 .5-1 1.5-2 1-2 1-1.5 .5-.5 1.5-1 2 1 .5 0 1.5 .5 2 .5 2-.5 2-1 2 .5 .5 0 3 2 .5 1 1.5-1 .5 0 2-1 4 0 2-1 1.5-2 .5-.5 1-1.5 1-1 2-1 2-1.5 .5-.5 1-2 2.5-2.5 2-1 .5-.5 1-2 0-2 .5-2 1.5-2 .5-.5 1-1.5 1-4 0-2 .5-2 1.5-2 .5 0 1.5-1 2 0 1.5 1 4 4 1 2 1.5 2 2-.5 4-2 .5 .5 1.5 .5 .5 1.5 1.5 2 2 1.5 .5 .5 1.5 2-.5 2-1 2-.5 2 1 2 .5 2-2 4-1 4-.5 1.5 0 1 .5 1.5 2 2 1 2-.5 2 0 2-.5 2 0 2 1.5 6 0 6.5 2 2 4 3 .5 .5 1.5 1 4 4 1.5 1 .5 0 2 2 4-1 2 0 4 1 2-.5 2-1 .5-.5 1.5-1 1-1 1-1.5 .5-.5 .5-2 2-4 1-1.5 .5-.5 1-4 0-2 .5-2-1-2-1-1-.5-1 0-2 1-2 1.5-2 2-1 1.5-1 .5-2 1-2 1-1 1.5-1 .5 0 2-1 1.5-1 2.5-2.5 2-1.5 2.5 0 1.5 1 2 1 2-1 1-1 1-.5 2-1.5 .5 0 1.5-.5 2-.5 2-1 1-2 .5-2 .5-.5 1-1.5 1-2 .5 0 1.5-.5 2 .5 2-.5 4 0 6-1.5 4 1 2 0 0 455-740 0 0-209.5 2 1 1.5 .5 .5 .5 2 .5 1-1 1-2 2-2 2 2 2 1.5 1 .5 1.5 0 1-2 .5-2 2-1.5 1.5-.5 .5-.5 2-.5 1-1 1-.5 2-3 4 0 2 .5 2 0 2-1 .5 0 1.5-2-2-2 1-2 5-5 1.5-1 .5-.5 2-1 .5-.5 1.5-6 2-1.5 2 0 2 1.5 2 2 .5 0 1.5 .5 .5-.5 1.5-.5 2-.5 2 0 2 .5 2 0 2-.5 2-2 2-.5 2 0 2 .5 2-.5 .5-.5 1.5-1 2-2 .5-1 1.5-2 2-2 2-4 2-.5 2 0 4-2 2-.5 2 .5 2-.5 2-1 2-1.5 4 0 .5-.5 1.5-1 1.5-3 .5-1.5 .5-.5 1.5-2 .5 0 1.5-1 2-.5 1-.5 1-1 1.5-1 .5-1 1-1 0-2 .5-2 0-4-1-4 1.5-6 0-.5 .5-1.5 .5-2-.5-2 .5-2 1-1.5 2.5-2.5 1.5-2 0-2-1.5-2-.5-.5-2-1-.5-.5-.5-2 0-4-.5-2 1-2 .5-.5 .5-1.5-.5-2-2-1.5-.5-.5-.5-2 .5-2 0-2-2-2 .5-2 2-1.5 .5-.5 1.5-1 2-2 1.5-1 .5-1 1.5-1 .5 0 2 1 2 .5 2 0 4-2 2 1 2 .5 1-1 1-.5 2-.5 2 0 4-1 2 0 2-1 2-2 2-.5 2 1 .5 .5 3 2 2.5 2.5 2 1.5 4 0 2 2 0 .5 1 1.5 3 3 1.5 1 .5 1 1-1 1-.5 2-1.5 .5 0 1.5-.5 4-1 4 0 2-.5 .5 0 1.5-.5 2-1 .5-.5 1.5-1 2-1 .5 0 1.5-.5 4-3 1.5-.5 .5 0 2-.5 2-1 .5-.5 1.5-1 2-1 2-.5 2-1.5 .5 0 1.5-1 2-1 .5 0 1.5-1 1-1 1-1.5 2-2 1-.5 1-1 1.5-1 .5-.5 2-1 1.5-.5 .5 0 2-1.5 .5-.5 .5-2 1-2 0-.5 .5-1.5 1.5-6 0-.5 .5-1.5 .5-2 1-1 .5-1 2-2 2-4 1.5-2 2-1.5 2-2 1.5-.5 .5-.5 3-1.5 1-2 1-4 1-.5 2-.5 2 0 2 .5 4-1 4 0 1.5-.5 2.5-2.5 2-.5 2 0 1.5-1 .5 0 2-2 2-1.5 6-1.5 2 .5 2-.5 1.5-1 .5-.5 2-1 2-.5 2 .5 2 1 2 0 4-2 2-.5 1.5-1 .5-.5 2-1 2-.5 2 0 4-1 2 .5 1.5 .5 .5 0 2 .5 6 0 2-.5 2 0 2 .5 2 1 2 .5 4-1 2 .5 2 0 2-.5 2 0 2 .5 1.5 .5 2.5 0 2-.5 6 0 2-1 .5-.5 1.5-2 2 0 2-.5 3-1.5 1-1 1.5-1 .5-.5 2-1 1.5-.5 .5 0 2-1.5 1-.5 1-1 2-1 4-1 1-1 1-.5 2-1.5 4 1 1.5-1 .5-.5 2-3 1.5-.5 6.5 0 4-1 1.5-1 .5-.5 6-1.5 2 .5 2 0 2 .5 2 2 2 .5 2-.5 2 0 2 .5 2-1.5 0-.5 .5-1.5 1.5-3 2-2 1.5-1 .5 0 2-1.5 2-1 2-1.5 1.5-2 .5-.5 .5-1.5 1.5-2 2-1 1.5-1 .5-.5 4-3 2-1 2-.5 4 0 .5-1 .5-2 1-2 2-2 2-1 2-.5 1.5-.5 .5-.5 2-.5 2 0 2-.5 1-.5 1-2ZM651 373.5l0 .5-1 2 1 2 2.5 0 1.5-2-.5-2-1.5-1.5ZM243 461.5l-1.5 .5 1.5 .5 0-.5ZM348.5 378l.5-.5 2 .5 1.5 2 .5 .5 .5 1.5 .5 2-.5 2-.5 .5-2 1-2-.5-2-1-1-2 0-2 .5-2 .5-1Z"/>
<path fill="#68e6ff" fill-rule="evenodd" d="M582.5 338l2.5 0 2 1 2 .5 4-1 1.5-.5 .5-.5 2 0 6 3 1 1.5 0 2-.5 2 0 4 1 2 .5 .5 2 .5 1 1 .5 2 0 4-1 4 0 4-.5 1-1 1-1 .5-1.5 1.5 0 2 1.5 2 2 .5 .5-.5 1.5-2 .5 0 1.5-.5 2 2 0 1-1 1.5-1 0-2 .5-4 3-2 0-2-.5-2 0-2 1-2 1.5-.5 .5-.5 2 0 2 .5 2 .5 1.5 0 .5 2 2 1.5 2-.5 2 0 2 3 1.5 1.5 .5 2 4 .5 .5 4 0 2 .5 1.5 1 .5 1 2 .5 1 .5 1 1 1-1 1-.5 0-1.5 2-4 .5 0 1.5-.5 2-.5 2 0 1-1 .5-2 1-2 1.5-1 6-3 2-2 0-.5 .5-1.5 1.5-2 2 1 2 .5 4-1 1-.5 1-1.5 2 0 4 2 2 0 1.5-.5 .5-.5 2-3 .5-.5 .5-2 1-1 .5-1 1.5-.5 2-.5 2 0 2 .5 4-1 2-2 1-.5 1-1.5 .5-.5 .5-2 1-2 2-2 .5 0 1.5-.5 2-2 2-3 1-.5 1-1.5 .5-.5 1-4 2.5-2.5 2-1.5 2-2 2-1 2-.5 1-.5 1 0 2-.5 .5 .5 1 2-2 2-1.5 2-1 2-.5 2 0 2 .5 2 0 2-1.5 6 .5 .5 1 1.5 4 8 .5 2 0 2 .5 .5 .5 1.5 1 2 .5 .5 .5 1.5 .5 2 0 4 1 2 2 1 1 1 4 2 1 0 2 1 1.5 1 2 2 .5 1 1 1 1 .5 2 2 2 1 2 .5 2-1 2-.5 2 .5 2 0 2 .5 2 0 2-.5 2-1 4-4 0-.5 1.5-1.5 .5-1.5 0-.5 1.5-2 .5-.5 4-2 2-1.5 1-2 0-2 2-4 1.5-6 1.5-2 2-1.5 1-.5 1-1.5 .5-.5 1.5-1 2-2 .5-1 1.5-1 2-.5 1.5-.5 .5-.5 2-1 .5-.5 .5-2 1-1.5 2 0 4 1 2 0 2-.5 1.5-1 0-2-1-4 1-2 .5-.5 6 0 1.5 .5 .5 0 2 .5 2 0 2-1 2-.5 0 449-740 0 0-185.5 2 .5 6-1.5 6 0 2-1 .5-.5 1.5-2 1-2 1-1.5 2-2 2-.5 2-1.5 .5-.5 .5-2 1-1 .5-1 1.5-1 2-1 1-2 1-1 .5-1 1.5-1 1-1 1-.5 2-.5 4 1 2-1 2-2 2-.5 2 1.5 2.5 0 2-2-.5-.5-2-1.5-2-2 0-2 4-4 .5-2 1.5-1 4 0 2-1 0-2.5 2-.5 2 .5 2.5 2.5 1 2 .5 .5 1 1.5 1 1 1.5 3-1 2 .5 2 1 .5 2 0 .5-.5 0-4 1-2 .5-.5 2-3 .5-.5 1.5-.5 4-2 2-1.5 1.5-2 0-4 .5-1 1-1 1-.5 2-1.5 1-2 .5-2 .5-.5 2-1.5 1 0 1-.5 2-.5 1-1 1-1.5 .5-.5 1-2 .5-.5 2-1.5 1 0 1-.5 2 0 4-2 1.5-1.5 1-2 2-2 1.5-1 2-2 .5-1 1.5-2 2-1.5 .5-.5 1.5-1 .5-1 1-4 1-2 .5-2-.5-2 .5-2 1-2 1.5-2 0-4 1.5-6 1-1 1.5-1 .5-.5 2-1.5 0-.5 4-4 .5-1.5-.5-1.5-.5-.5-1-2 0-6-.5-1-1-1-1-2 2-1.5 .5-.5 1.5-1 4-2 2-.5 .5-.5 1-4 .5-.5 1-1.5 4-2 2 0 1 1 0 1.5-.5 1.5 0 2 .5 2 2 2 .5 0 1.5 .5 2-.5 1-2 2-2 1-.5 2 0 2 .5 2-.5 2-1.5 2 0 2 2 2 1.5 2 .5 2-.5 2-1.5 .5 0 1.5-1.5 1-.5 2-2 1-.5 2-.5 1.5-1 .5 0 4-1 2 0 2-1 .5 0 1.5-1 1-1 11-5.5 1.5-.5 .5 0 2-1.5 4-2 1.5-.5 .5 0 2-1.5 5-2.5 1-1 6-3 .5 0 3-2 2.5-2.5 4-3 .5-.5 0-2 1-4 .5-.5 2-3 0-.5 1-2 0-2 .5-2 1-2 1.5-1 2-2 1.5-1 .5-.5 .5-1.5 1-4 .5-.5 4-2 2-1.5 2-1 2-.5 4 0 2-.5 2-1.5 .5-.5 1.5-1 2 .5 1.5 .5 2.5 0 1.5-2 .5-.5 2-1.5 2-.5 2 0 2-.5 3-3 1-.5 2 0 2 .5 .5 0 3 2 .5 .5 2 0 1-.5 1 0 2-1 1.5-1 .5 0 2-1 1-1 1-1.5 2-2 2-.5 .5 0 1.5-.5 2-.5 2-1 2-1.5 2-1 2 0 2 .5 2 1 1.5 1 2.5 0 2-1 2-.5 2 0 2 1 2 .5 2-.5 14 0 1.5 .5 .5 .5 2 .5 4 0 2-1 2 0 2-.5 4-2 2-1.5 4.5 0 1.5-1 .5-1 2-2 1.5-.5 2-.5 1-1 3-1.5 1.5-.5 .5 0 4-2 1 0 1-.5 4-1 2 0 2-1 2-1.5 .5 0 1.5-.5 2 .5 .5 0 1.5 .5 1-.5 1-1 .5-1 1.5-1.5 1-.5 1 0 2-1 2-.5 4 1 2-.5 2 0 2 .5 10 0 2-1 .5-.5 3-6 8.5-8.5 2-1.5 1-2 2-2 3-1.5 1.5-.5 .5-.5 4-1ZM143 581.5l-.5 .5-1.5 1-2 .5-.5 .5 0 2 .5 .5 2 1 2 0 2-.5 1.5-1 .5-.5 .5-1.5 0-2-.5-.5-2-1.5ZM487 411.5l0 .5 2 .5 .5-.5-.5-2ZM222.5 468l.5-.5 2-.5 2 .5 2 2 0 2.5-2 2-2 1-2-.5-1-.5-1-2 .5-2ZM219 480l.5 0 1.5 1.5 2 .5-2 0-2 .5-.5-.5ZM96.5 602l.5-.5 2-1 2 .5 1 1 0 2-1 1.5-.5 .5-1.5 1-2-1-1 0-1-2Z"/>
<path fill="#78f7ff" fill-rule="evenodd" d="M576 344l1-.5 4-1 2 .5 2 1 .5 0 1.5 1 2 1 2 0 2 .5 3 1.5 1 1 .5 1 .5 2-.5 2 0 2-.5 1.5-.5 .5-1.5 1-2 1-.5 0-1.5-1-.5 1-1.5 2-1 2 0 4-1 1.5-.5 .5-1 2 1.5 6-.5 2-1.5 1-2 1-2 0-1 2 1 1.5 .5 .5 1.5 .5 2 .5 2 1 1 2 0 2 .5 2-.5 2-1 2-.5 2 0 4-1 2 2 2 1.5 1 2 .5 2 1 1.5 1.5 2.5 5 1.5 1 .5 .5 .5 1.5-.5 .5-.5 1.5 0 2 .5 .5 1 1.5 3 3 1.5 1 .5 .5 2 1 2 .5 2-.5 2-1 2-.5 2.5 0 1.5-.5 2-.5 4-2 1-1 1-1.5 0-2.5-.5-2 1-4-.5-2 0-.5-1.5-1.5 0-2 1.5-2 2-1 1.5-1 .5-.5 1-1.5 1-2 2-2 .5 0 1.5-.5 4 0 6-1.5 1 0 1-.5 2-.5 2-1 .5 0 1.5-.5 2 .5 4 0 2-1.5 .5-.5 3-4 .5-.5 1-1.5 2-2 1-.5 2 0 2-.5 1.5-1 .5-.5 2-1.5 2-1 1.5-1 .5-.5 2-1.5 2-2 0-.5 2-1 2-.5 2 0 4 2 2-.5 2 .5 .5 0-.5 1-1 1-1 .5-.5 1.5 0 2 .5 1 1 1 1 .5 2 0 2 2 .5 1.5 1 2 .5 1.5 0 .5 2 2 0 .5 1 1.5 1 2 2 2 2 1 1.5 1 .5 .5 4 2 2 0 2 1.5 2 2 0 .5 2 2 2 1.5 4 2 2 .5 4 0 2-.5 2 .5 8 0 1.5-.5 .5 0 2-.5 2-1 4-1 2 .5 2-1 1-1 1-2 0-4 2-2 1.5-2 .5-.5 1-1.5 1-2 .5-2-.5-2 .5-2 1.5-2 2-1.5 4-1 2-1.5 2-2 1-2 0-2 .5-2 .5-.5 .5 .5 1 2 .5 .5 1 1.5 3 1.5 2-.5 1.5-1 .5-.5 .5-1.5 1.5-2 2-1.5 .5-.5 1-2 .5-2 1-2 1-1.5 2-1 2 0 5 2.5 1 2 .5 2 1.5 1 0 431-740 0 0-178.5 2 1 2-.5 4 1 2 1 .5 0 1.5-.5 2-1 4-4 2-.5 2 0 2-2 1.5-2 .5-.5 4-2 2-1.5 .5 0 3-2 .5-.5 2-1.5 8-8 .5 0 1.5-.5 2 1 10 0 1-.5 0-2 1-2 6-1.5 2 .5 2 0 6-1.5 2-1.5 .5 0 1.5-1 2-.5 4 2 1-.5 1-1 .5-1 2-2 1.5-2 .5 0 1.5-1 2 0 2-1 0-2 .5-2 1.5-1 1-1 1-.5 1.5-1.5 .5-1 1-1 1-2 4 1 1-1 1-2 0-10-.5-2 .5-2 0-1 .5-1 1.5-.5 2-1 1.5-.5 2.5-2.5 1-1.5 1-1 1.5-1 .5-.5 2-3 .5-.5 1-2 .5-1.5 0-.5 2-2 2 0 2-.5 3-1.5 2-2 1-2 2-2 2 2 2 0 2-2 1-2 0-2-1-1.5-.5-.5-3-2-.5-.5-1-1.5 0-2 1-2 2-2-2-2-.5 0-1.5-1.5 0-.5 2-1.5 5-2.5 3-3 1.5-1 1-2 0-2-.5-1.5 0-.5-2-4 .5-2 3-6 .5-.5 2-1 2 0 4 2 2 .5 2 0 2-.5 2.5-2.5 3-2 .5-.5 2-1.5 2-1 2 0 2 1 4 0 2-.5 2-1 1.5-.5 .5-.5 2-.5 1.5-1 .5-.5 4-2 2-.5 2 0 2-.5 1.5-.5 .5-.5 2-1 .5-.5 1.5-1 1-1 3-1.5 2-.5 .5 0 1.5-.5 2-1.5 2-1 1.5-1 .5 0 4-2 .5 0 1.5-.5 4-3 1.5-.5 .5 0 6-3 2-.5 2-1 2-1.5 .5 0 1.5-1 2-1 2-1.5 2-1 2-1.5 .5 0 1.5-2 1-2 0-2 1-4 1-2 0-6 1-1.5 .5-.5 3-2 .5 0 1.5-2 .5-1 0-3 .5-2 1.5-1 2-1 .5 0 1.5-1 2-.5 2 0 2 .5 2 0 2-.5 2 0 4 1 2-.5 2-1 2-1.5 2-1 2 0 2 .5 6-1.5 2 0 2 .5 2 1 2 0 2 .5 2 0 2 .5 2 0 2-.5 1-.5-.5-2-.5-1.5 0-.5 2-1 2-.5 0-.5 1.5-2 1-2 1.5-1.5 2-1 2-.5 2 0 1.5-1 .5-.5 2-1.5 4 2 .5 0 1.5 .5 2 1 0 .5 1 2 1 1 2 .5 2-.5 1.5-1 .5-.5 2-1 4 3 2 0 2 .5 2 2-.5 2-3 2-.5 .5-2 .5-2 0-2-.5-.5-.5-1.5-.5-1 .5-1 2 1.5 2 .5 .5 1 1.5 0 4-.5 2 0 4-.5 .5-2 1.5-.5 2 .5 2 2 1.5 2-1 2 0 2 1.5 .5 2 0 2 1.5 2 2 1 2 .5 0 .5 1 2 .5 2 .5 1.5 2 2 2-.5 1-1 1-1.5 0-.5 1-2 .5-2-1.5-2-2-1-1.5-1-.5-1-1-1 .5-2-1-2-2-2 0-2 1-2-1-2-.5-.5-2-1.5 0-2 2-1 2 0 2 .5 .5 .5 2 4 1 4 0 2 .5 2 0 .5 2 1.5 4 0 2-.5 2 0 2 .5 .5 0 1.5 1 2 .5 4 0 2-.5 1.5-1 2-4 2-2 .5-1 2-.5 .5-.5 1.5-.5 2-3 0-.5 .5-2-.5-1-2-2-2-.5-.5-.5 0-2 .5-1.5 .5-.5 1-2 0-2-2-2-1.5-1-2-1-.5 0-1.5-.5-2-.5-1-1 0-2 1-1.5 .5-.5 1-2 .5-.5 2-.5 1.5-1 4-4 .5-1.5 .5-.5 1.5-2 2 .5 4 0 1.5-.5 2.5-2.5 2-1.5 .5 0 1.5-1 2-1 4-1 1.5 1 .5 .5 2 1 2 0 2-.5 1-1 .5-2 .5-1.5 0-.5 2-1.5 2-1 4-1 2 .5 4 0 2 1 .5 0 1.5 2 .5 0 1 2 3 0 1.5-.5 2-1 2 0 2-.5 2-2 0-2-.5-2 .5-2 1-2 1-1 .5-1 1.5-2 0-.5 1-1.5 1-2 2-1.5 .5-.5 1.5-2 0-.5 2-3ZM585 414l-1 2 1 1 1.5 1 1 0 1.5-1 .5-1-.5-.5-2-1.5-1 0ZM478 392l1-.5 1.5 .5-1.5 2ZM221 528l.5 0-.5 .5ZM170.5 582l.5-.5 2-1 1 1.5-1 1-2 0ZM113 608l2 0-2 0Z"/>
<path fill="#80ffee" fill-rule="evenodd" d="M545.5 378l1.5-.5 2 .5 1.5 2 .5 2 2 2 2 1 1 1 1 1.5 .5 .5-.5 1.5 0 .5-2 1-1.5 1-2 2-.5 2 0 2-2 1.5-2 .5-2-.5-2 0-2-.5-1.5-1-.5-.5-2-3-.5-.5 .5-.5 .5-1.5 1-2 .5-2 0-2-.5-2-1.5-2 0-2 2 0 1 2 2 2 1 .5 1-.5 1-2-.5-2 .5-1ZM811 380l4-2 2 .5 2 1 0 1-1 1.5 0 2 1 1 0 419-740 0 0-172 .5 0 1.5 1 .5 1 1.5 2 0 1 .5 1 .5 2 1 1 2-1 .5 0 1.5-.5 4 0 4-1 2 .5 2 2 .5 1 1.5 1 2 1 2-1.5 1-.5 .5-2-2-2-1.5-1-2-1 0-1-.5-1 .5-.5 .5-1.5 1.5-2 2-2 2 0 1 2 1 1 1.5 1 0 4 .5 0 1.5-2-.5-2 0-2 1-.5 2-.5 4 0 3-3 1-2-2-1-1-1 0-2 1-2 2-1 1 1 0 2 .5 2 1 0 1.5-.5 2-.5 2-1-.5-2 0-2 .5-1.5 .5-.5 1.5-.5 2-.5 2 0 2-.5 .5 1.5 1.5 1.5 1 .5 1 0 2-1 1-1 1-2 0-.5 2-2 2 0 2-.5 1.5-1 .5-.5 2-1 2 .5 1 1 1 1.5 2 1 .5-.5 1.5-2 1-2 3-1.5 2-.5 2-2 1.5-2 .5-1.5 0-.5 1-2 1-1.5 .5-.5 1.5-.5 2-1.5 4-1 2-1 .5-2-.5-1.5 0-2.5 2-1.5 .5-.5 1.5-.5 2-1 .5-.5 1-2 .5-1.5 0-.5 1-2 0-4 .5-2 .5-.5 4-3 2.5-2.5 1.5-1 1-1 .5-2-.5-2 0-2 1-2 2-1.5 1.5-.5 .5 0 4-1 1.5-1-1-4 .5-2 1-.5 4-1 4 1 2-.5 1-1 1-2 .5-2 1.5-2 0-.5 2-1 2 0 2 .5 1.5 1 0 2-1 2-.5 1.5-.5 .5 .5 .5 2 .5 4 0 2 1 2 1.5 4 1 2 0 1-.5 1-2 .5-2 1.5-2 0-4-1-2-1-1-1.5-1-2-2-.5-1-1.5-1-2-2-.5-2-.5 0-3-4-.5-1.5 0-.5-.5-2 .5-2 1.5-2 .5-1 1.5-1-1-2-2-2 .5-2 1-2 0-.5 .5-1.5 0-2 .5-2 5-5 1.5-1 2.5-2.5 1-1.5 3-3 2-.5 2 0 2-.5 2 0 6-1.5 .5-.5 1.5-.5 6-3 2-.5 2 0 4-1 2-1 .5 0 1.5-1 1-1 1-.5 2-1.5 2-.5 6-3 .5-.5 1.5-.5 2-1 .5-.5 1.5-.5 6-3 2-.5 2 0 2-1 1-1 1-.5 4-1 2-1 1.5-1.5 .5 0 2-1 2-.5 .5-.5 1.5-.5 4-2 1.5-1.5 2-4 .5-.5 2-3 .5-.5 1-4 .5-.5 1-1.5 1-.5 1-1.5 1-1 .5-1 .5-2 1-1.5 .5-.5 3-2 1-2-.5-.5-.5-1.5-.5-2 0-2 1-1.5 2 0 2 .5 2 1 2 2 0 .5-.5 1.5-1.5 1-2 .5-1 .5-1 2 2 1.5 2 .5 2-1.5 1-.5 1-2 2-2 2-1.5 1-.5 1-1 1.5-1 .5 0 4-1 1.5-1 .5 0 2-.5 2 0 2 .5 .5 0 1.5 .5 1 1.5 .5 2 .5 1.5 0 1-.5 1.5-1.5 3-1.5 1-.5 .5-1 1.5 .5 2 .5 .5 4 3 2 1 2 0 2-1 2-1.5 1.5-2 .5-.5 2 0 2 .5 1 2-2 2-1 1.5-.5 .5-1 2 0 2 .5 2 3 3 1.5 1 .5 .5 2-.5 .5 0 1.5-1 1-1 .5-2 .5-.5 1-1.5 1-1 2-.5 4 2 2 0 6 1.5 2 1 .5 1 2 2 3 4 1 2 1.5 2 2 .5 1.5-.5 .5 0 2-2 1.5-2 .5-.5 2 .5 .5 0 3 2 .5 .5 2 0 2-.5 1 0 1-.5 2-.5 4-2 1.5-1 .5-.5 1-1.5 0-2 .5-2 .5-.5 2-1 1.5 1.5 .5 0 2 .5 2 0 2-2 2-.5 2 .5 2-.5 .5 0 1.5-.5 2-.5 2 0 2 1 0 2-.5 2 .5 2 2 1 2-.5 .5-.5 1.5-1 1-1 1-.5 1-1.5 .5-2 1-2 1.5-2 1 0 1-.5 1.5 .5 2.5 0 2-2 2-1 2 0 2-1 .5 0 1.5-1 6 0 4-1 1.5-2 .5-2 2-1 1.5 1 .5 .5 2 .5 2 0 2 .5 .5 .5 1.5 1 2 1 4 0 4-4 0-.5 2 0 2 1 2 1.5 2 2 1.5 2 .5 1 2 1 4-1 2 0 2 .5 .5 .5 1 2 2.5 2.5 2 1 2 0 2-1 2 .5 1.5 1 .5 0 2 1 2 .5 2-.5 2 .5 .5 .5 1.5 .5 2 .5 2-.5 1.5-.5 .5 0 4-1 .5-1 2-2 1.5-1 2-1 2-2 2-1.5 .5-.5 1.5-1 .5-1 1.5-2 1-2 0-4 1-2 0-.5 .5-1.5 1-2 .5-1.5 0-.5 2-4 2-1.5 2-1 2-1.5 2-1 2 0 2-.5 2 0 2-.5 .5 0 1.5-1 2-1 8-2 2-1.5 2.5-2.5 1.5-1 4-2 2-.5 2-1 2-1.5 2-1 2-.5 2 1 .5 .5 1.5 2 2 1 2 0 4-1 4 1 2 1 2 1.5 4 4 0 .5 1.5 2 .5 .5 2 1.5 .5 0 1.5 .5 4 3 1.5 .5 .5 .5 2 .5 2 1 2 2 1.5 2 .5 .5 2 1.5 .5 0 1.5 .5 2 1 .5 .5 1.5 1 2 .5 4 0 2 .5 2 0 2 .5 8 0 2 1 8 0 2-.5 2-1 2-1.5 2-1 4 0 2-.5 2-1 1-2-.5-2-2-2 .5-2 1-2 2-1 1-1 .5-2-1-2-2-2 .5-2 1-1 2-.5 4 0 2-.5 2-1.5 2-2 4-2 1.5-.5 2.5 0 2 1 1.5 1 .5 .5 1.5-.5 .5-.5 1-1.5 0-4ZM163 614ZM522 386l1-.5 2 .5 .5 0 1.5 .5 3 1.5 2 2 1 1.5 .5 .5 1 2-1.5 2-2 1-2-.5-.5-.5-1.5-2-.5 0-1.5-2-2-2-1-2ZM508 388l1-1 2-.5 2 0 1 1.5 .5 2 0 2 .5 2 1.5 2 0 2-.5 2-1 1.5-2 2-2 1-2 0-1.5-.5-.5 0-1.5-2-.5-1 0-1-1-4 .5-2 .5-.5 1-1.5 1-2 0-.5ZM570.5 396l.5-1.5 2 0 2 .5 1.5 1 2 2-1 2-.5 .5-2-.5-2-1.5-2-2ZM554 400l1-.5 2 0 1 .5 1 1.5 2 .5-4 1-2-.5-.5-.5ZM401 410l2.5 0 1.5 1.5 0 .5-2 1.5-2 0-1.5-1.5ZM425.5 410l1.5-.5 2 .5 .5 0 3 2-1.5 1.5-2 1-2 0-2-.5 0-2ZM413 414l0 .5ZM572.5 414l.5-1 2 .5 0 .5 .5 2-.5 1-1.5-1-.5-1ZM586 424l1-.5 2 0 .5 .5-.5 2-2 .5-.5-.5ZM452 440l1-.5 .5 .5-.5 .5ZM238.5 506l.5-.5 2-1 1.5 1.5-1.5 3-2 1-1-2ZM240 522l1-1 4 0 1.5 1 .5 2 0 .5 .5 1.5-.5 .5-.5 1.5-1.5 1-2 0-1-1-1-1.5 0-.5-.5-2Z"/>
<path fill="#80ffcc" fill-rule="evenodd" d="M678 394l1-.5 4 0 1.5 .5 .5 0 2 1 2 .5 2 0 6 1.5 2 1 2 .5 3 1.5 1 1 1.5 1 .5 .5 2 1.5 6 3 1.5 1 .5 .5 2 .5 2 1 4 4 2 1.5 2 1 2 .5 1.5 1 .5 .5 2 1 1.5 .5 2.5 0 4 1 1.5 1 .5 .5 4 3 2 .5 2 0 2-.5 2 0 2 1 1.5 1.5 2.5 0 2-1.5 2-2 2-1 4-1 4-2 .5-.5 1.5-1 2-1 .5 0 1.5-.5 2-1 2-.5 .5 0 2-2 0-2 .5-2 1-1.5 2-2 0-.5 2-4 0-.5 1-1.5 1-1 2-1 4 1 2-.5 1.5-.5 .5 0 2-.5 2 0 .5 .5 1.5 .5 2 .5 2-.5 1.5-.5 .5-.5 0 406.5-740 0 0-139.5 2.5-2.5 1.5-1 1-1 1-.5 2 0 8-2 2-1.5 2-2 2-.5 2-1.5 4 2 1-2 1-1 0-1 .5-2 1.5-1 2-.5 4 0 1.5-.5 .5 0 2-1.5 1.5-.5 .5-.5 2-1 2-.5 2-1.5 2-2 1.5-.5 .5 0 4 1 2-.5 1-.5 1-1 1.5-1 .5-.5 2-1 1.5-.5 .5 0 2-1 2 0 2-.5 1-.5 1-1 1.5-1 .5-.5 2-1 1.5-.5 .5 0 2-1 4 0 2-.5 .5-.5 1.5-2 0-2 1.5-2 .5-.5 2-1.5 1.5-2 .5-1 1-1 1-2 .5-2 2-4 2-2 0-2 1-2 .5-.5 2-1 4 1 4-1 1.5-.5 .5-.5 .5-1.5 1-2 .5-2 2-4 2-8 2-4 0-.5 2-2 1-1.5 .5-2 .5-1.5 0-.5 .5-2 1.5-2 0-.5 1.5-1.5 .5-1 1-1 1-1.5 2-2 4-1 2-1 .5-.5 1.5-1 2-2 1.5-1 .5 0 2-2 2.5 0 3 2 .5 0 2 .5 2-1 2-.5 8 0 4 2 2-.5 .5-.5 1.5-.5 2 .5 1.5 2 .5 0 2-1 1.5-1 .5-.5 2-1.5 2-2 2-4 1-4-1-4 0-.5-.5-1.5-1-2-.5-2 0-2-.5-2-1.5-1.5-2-.5-.5 0-1.5-.5-2-1-.5-.5 0-4-3-2-.5-.5-2-1.5-1-2 0-8-.5-2-1-2 0-2 .5-.5 1-1.5 4-4 2-4 2-2 3-1.5 2-.5 2 0 4-1 2-1 2-.5 4-2 6-1.5 .5 0 1.5-.5 2-.5 2-1 2-1.5 4-2 1.5-.5 .5 0 2-1 1.5-1 .5 0 2-1 2-.5 2-1 2-1.5 2-1 2-.5 6 0 1.5-.5 .5 0 1.5-2 .5-.5 6-1.5 2-1 1.5-1 .5 0 2-1 1.5-1 .5 0 2-1 1.5-1 .5-.5 1-1.5 2-2 1-.5 2-1.5 .5 0 1.5-2 0-.5 .5-1.5 1-2 2.5-2.5 2 0 2 .5 1.5-2 2-4 .5-.5 2-1.5 2-1 2-.5 2 .5 1.5 1 .5 0 2 .5 2 0 1-.5 1-1 2-.5 2 1 .5 .5 1 2 .5 1.5 .5 .5 1.5 .5 2 1 .5 .5 1.5 .5 3 1.5 1 1 .5 1 .5 2 1 1.5 2 2 1.5 .5 .5 0 2 .5 3 1.5 1 1 2 .5 2 0 2-1 2 0 2 1.5 1 2 1 1 1.5 1 .5 0 2 .5 2 0 2 1 .5 .5 1 4 1 2 1.5 1.5 1.5 .5 2.5 0 2-1 2-.5 2 0 2 1 2 .5 4 0 2-.5 2 0 2-.5 1-1 1-.5 2-1.5 2-.5 2 0 2-.5 1.5-1 2.5-2.5 2-1 4 0 2-.5 6 0 2-.5 2 0 1.5 .5 .5 0 1.5 2 .5 0 4 1 1.5 1 .5 0 2 .5 2 0 2-.5 .5 0 1.5-.5 2 .5 1 2 1 1.5 2 0 3-1.5 1-1.5 2-1 2 1 2 2 1-.5-1-2 1-2 3-1.5 2 1.5 1 4 1 1 2 .5 2-.5 2-1 1.5-2-1-4 .5-2 1-1.5 .5-.5 1-2 0-2-1.5-2-2-1.5-1-.5 1-1 6 0 1.5 1 .5 2 2-.5 2-1 .5-.5 3-2 .5-1 1.5-1 .5-.5 2 0 1.5 .5 .5 .5 6 3 .5 .5 1.5 .5 2 0 2 .5 1.5 1 .5 .5 2 1 1.5 .5 .5 .5 6 0 1.5-.5 2.5 0 2 1 2 .5 2 0 2 .5 2-.5 2-1.5 2-1 2-.5 2 .5 2-.5 8 0 1-.5 3-3 1.5-1 .5-.5 2-1 .5-.5 1.5-2 0-.5 2-3 0-.5 3-6 .5-2 0-2 1-4 3-6 .5-1.5 .5-.5 1.5-1 2-.5 4-2 1.5-.5 .5 0 2-1 2 0 6-3 4-1 8-4 2-.5 2-1 4-1ZM547 447l-1.5 3 0 2-.5 2 0 2 2 .5 .5-.5 .5-2 1-2-.5-2-1.5-2ZM792.5 398l.5-.5 .5 .5-.5 0ZM524.5 440l.5-.5 2 2 0 1-1 1.5-1 .5-1.5-.5 0-2Z"/>
<path fill="#80ffa9" fill-rule="evenodd" d="M680 398l3 0 2 1 6 0 4 1 4 2 .5 0 1.5 1.5 1 .5 2 2 1 .5 2 1.5 2 .5 2 0 2 .5 2 1 .5 0 1.5 1 2 1 2 1.5 2.5 2.5 1.5 1 2 1 .5 0 1.5 .5 2 1.5 .5 0 1.5 1 2 1 4 1 2 1 2 2 2 1.5 .5 .5 1.5 1 1 1 1 .5 2 0 2-.5 4 0 2 1 2 0 2 .5 6-1.5 2-1.5 .5-.5 1.5-.5 4-3 2-2 4-2 2-.5 .5 0 1.5-.5 4-2 1.5-1.5 1-2 .5-2 1-1.5 0-.5 1.5-2 2.5-2.5 2-1 2-.5 4-2 .5 0 1.5-.5 2-.5 2 0 2 .5 4 0 0 402.5-740 0 0-116 2-1.5 2-1 2-.5 1.5 1 2 2 .5 0 2 1.5 1 .5 2 2 1 2 .5-2 0-2 .5-2 0-2-1-1.5 0-.5-1-2-.5-2 0-4-.5-1-2 0-2-.5-1-.5-1-1.5 0-.5 2-2 2-1 2 .5 .5 .5 1.5 1 4-4 1.5-1 .5 0 2-1 4-4 2-1 4.5 0 1 2 .5 .5 .5 1.5 1.5 2 2 .5 2-1 2-1.5 0-.5 1-1.5 .5-2 0-2 .5 0 2-1 2-.5 2 1 2 0 1-1.5-.5-2 0-2 1.5-2 4-2 2 0 2 1 2 0 1-1 1-2 1.5-2 .5-.5 2-.5 4 0 2 .5 1 .5 1 1 2 0 2.5-5 .5-2 1-1 1.5-1 .5 0 2-1 2-2 1.5-3 .5-.5 1-1.5 1-1 4-2 1.5-1 2.5-2.5 .5-1.5 .5-2 1-2 0-4.5 2-1.5 .5 0 1.5-.5 2-1.5 2-1 2 0 2-.5 .5-.5 3-4 .5-.5 2-3 .5-.5 1-4 .5-.5 1-1.5 1-2 1-4 1-1 .5-1 1.5-2 .5-2 1-2 .5-.5 1-1.5 .5-2-.5-2-1-2 .5-2 1.5-2 2-2 2-1.5 2-1 2-.5 1.5-1 .5-.5 2-1 2 0 2 1.5 2 1 4-1 2-1 2-.5 6 0 2 1 2 .5 4.5 0 1.5-.5 4-1 3 1.5 0 2 1 .5 1-.5 0-2 .5-2 .5-.5 2-1 2 0 2-.5 1.5 2 2.5 5 1.5 1 1.5 0 1-.5 1-1.5 1-4-.5-2-1-2-.5 0-2-1-2-.5-1-.5-1-2 .5-2 1.5-2 0-.5 1.5-1.5 .5-1 2-.5 2-2 0-.5 .5-2 0-2-.5-2 0-2-.5-2-1.5-2-2-1.5-.5-.5-1-2-.5-.5-1-1.5-1-4-3-6-1-1-2-.5-2-1-1-1.5-.5-2-1-2-3-2-.5 0-1-2-.5-2 .5-2 1-1.5 .5-.5 1-2 .5-.5 .5-1.5 .5-2 3-3 4-1 4 0 2-.5 4-2 4-1 2-1 6-1.5 2-1 1.5-1 .5-.5 4-2 4-1 1.5-.5 .5-.5 4-1 2 0 1.5-.5 .5 0 4-1 2 .5 2 0 2-.5 2 0 1.5-1 .5-.5 1-1.5 1-2 2-1 6 0 1.5-1 .5-.5 2-1.5 2-1 1.5-1 .5-.5 2-1 2-2 0-.5 2-2 6-1.5 1-.5 1-4 0-.5 2-1.5 2.5 0 1 2 .5 2 .5-2 0-2 1.5-1 1-1 1-.5 2-.5 2 0 2-.5 2 0 2-.5 2 2 0 2 1.5 2 .5 .5 8 4 2 0 2 .5 1.5 1 .5 .5 2 1.5 2 0 4-1 2 .5 2 1 6 1.5 2 1 1 1 .5 2-.5 2 .5 2 .5 0 2 1.5 2 .5 2 0 2-.5 2 .5 1.5 2 .5 1 1.5 1 .5 .5 2 0 2-.5 2 .5 1.5 1.5 .5 1.5 2 2 4 0 2-1 1.5-.5 .5 0 2-1 4 0 2-1 0-.5 .5-1.5 1.5-2 .5 0 1.5-.5 .5 .5 1.5 1 2 1 2-1 .5-1 .5-2 1-1 2-.5 1.5-.5 .5 0 2-1 1.5-1 .5-.5 2-1 .5-.5 1.5-.5 1.5 .5 .5 0 2 2 2 1 6 0 2 .5 1 .5 1 1.5 2 1 4 0 6 1.5 .5 0 1 2 .5 2 2 1.5 2 0 2 .5 2 0 2-2 1.5-2 .5-.5 2-.5 2 0 1.5 1 1 2 1 4 .5 1.5 1 .5 1 0 2-4 1.5-2 .5 0 2-1 2 .5 1 .5 1 1.5 .5 .5 1 2 .5 0 2 1.5 2 1 4 0 2-1 1-1.5 0-4-.5-2-2-4 0-2 1.5-1.5 1-.5 1-1 .5-1 0-2-.5-1.5-.5-.5-1.5-2 .5-2 1-2 2.5-2.5 2-.5 6 0 2 .5 .5 .5 1.5 1 1 1 3 1.5 1.5 .5 .5 .5 2 1 4 1 4-1 2-1 2 0 2 .5 2 0 2-.5 2-1 2-2 2-1 2 0 1-.5 1 0 2-.5 4 0 4-1 .5-.5 3-2 .5-.5 2-1.5 3-6 1-1.5 .5-.5 .5-2 1-2 .5-2 1-2 .5-2 0-2 1-4 1-2 1.5-2 .5-1 1-1 1-.5 4-1 1-.5 1-1 1.5-1 .5 0 4-2 .5 0 1.5-1 2-1 .5 0 1.5-.5 4-1 2-1 2 0 2-.5 2 0 4-2 4-1Z"/>
<path fill="#80ff87" fill-rule="evenodd" d="M678.5 402l.5 0 2-1 2 0 4 1 4 0 2 1 2 .5 2 1 2 2 4 3 .5 .5 1.5 .5 2 1 6 0 1.5 .5 .5 .5 2 1 2.5 2.5 1.5 1 1 1 3 1.5 1.5 .5 .5 0 2 1 1.5 1 .5 .5 4 2 2 .5 1.5 1 .5 .5 4 3 .5 .5 1.5 2 2 2 .5 0 1.5 .5 2-.5 2 0 2-.5 2 .5 12 0 2-.5 2 0 2-.5 2-1 2-1.5 0-.5 1-2 .5-2 2.5-2.5 4-1 4-2 1.5-.5 .5-.5 2-1 .5-.5 3-4 .5-.5 1-1.5 1-2 2-1.5 2-1 2-.5 1-1 1-.5 2-1.5 4 0 4 1 0 399-740 0 0-99.5 2-1 2-.5 2 .5 1.5 .5 .5 .5 1 1.5 1 1 2 0 1.5-1 .5 0 1.5-2 2.5-2.5 4-2 2-.5 2 0 2-.5 1-.5 1-1 2-.5 2 0 2 .5 4 0 4-2 2-.5 2 0 2-.5 2 .5 1.5-.5-1.5-.5-2 0-2-2-1-1.5 1-1.5 .5-.5 1.5-.5 6 0 2-1 .5-.5 .5-2 1-1 .5-1 3-4 .5-1.5 0-.5-1.5-2-.5 0-2-1.5-.5-.5 0-4 .5-2 0-.5 6-3 .5-.5-.5-.5 0-1.5-.5-2 .5-1.5 .5-.5 1.5-.5 2 0 .5 .5 .5 2-1 2-1.5 2 1.5 2 4 2 4 0 6-3 1-1 1-2 0-.5-.5-1.5-.5-2 0-2 1-1.5 .5-.5 1.5-1 2-.5 1.5-.5 .5 0 1.5-2 1-2 0-2 1-4 .5-1 2-2 2-.5 2-1 1-1.5 1-2 2-2 2-1.5 2.5-2.5 1.5-2 0-.5 .5-1.5 1-2 .5-.5 2 0 2-1 0-.5 2-2 2-1.5 .5-.5 1.5-2 0-.5 2-1.5 0-2-.5-2 .5-.5 .5-1.5 1.5-1.5 1-.5 1-1 2 1 2 1.5 1.5 .5 1.5 0 .5-2-1-2-.5-2 .5-2 2-4 .5-2 0-2-1-1-.5-1-1.5-1.5 0-3 2-1.5 2 .5 2 1.5 2 1 2-.5 .5-.5-.5-.5-.5-1.5-1-2-.5-1.5 0-.5-.5-2-1-2 0-2 1.5-3 2-1 8 0 4-1 2 0 2 .5 1 .5-.5 2 1.5 1.5 2-1 0-.5-1.5-2 1.5-1 2-.5 2 0 4 1 1 .5 0 2-.5 2 2 2 1.5 .5 2 .5 2 1 .5 0 1.5 .5 2 0 .5-.5 1-2 0-2 .5-1 2-.5 2 .5 1 1 1 .5 2 2 2 1 1-1.5 1-1 .5-1 1.5-1 2-.5 2 0 1-.5 1 0 2-1 1.5-1 1-2-.5-2 0-2.5 .5-1.5 0-4-.5-.5-1-1.5-1-2 0-.5-1-1.5-1-2 1-2 .5-2 0-6 .5-1.5 .5-.5 0-2-.5-.5-1-1.5-3-6-2-1.5-.5-.5-1.5-1-.5-1-1-4-.5-1.5 0-.5-.5-2-2-4-1.5-2-2-1.5-1-.5-.5-2 2-4-1-2-1.5-1-2-2-1.5-3 .5-2 1-1 2-.5 2 1 2 .5 4-1 2-1 2-.5 2 0 2-1.5 .5 0 3-2 .5 0 2-.5 2-1 .5-.5 3-2 .5-.5 2-.5 2-1 .5 0 1.5-.5 4-1 6 1.5 2-.5 2 0 2 .5 2.5 0 1.5-.5 3-1.5 1 0 2-.5 2-1 .5-.5 1.5-2 2-1 4-1 .5 0 1.5-.5 4-1 1.5-.5 .5-.5 2-1 .5-.5 1.5-.5 2-1.5 1.5-2 .5-1 2-1 2 1 2 0 2-.5 1.5-.5 .5 0 2 1 .5 1 1.5 2 2 4 2 1 2 .5 2-1 .5-.5 1.5-3 1-1 1-.5 2 0 2-.5 2 .5 .5 .5 1 2 0 2-1 2 1.5 2 2 .5 2-.5 2-1.5 1.5-.5 2.5 0 2-2 2-1.5 6 3 4 0 1.5 .5 .5 0 2 1 2 .5 2 2 0 .5 .5 2 1 2 .5 .5 6 0 2 .5 6 3 2 .5 2 0 6 1.5 2 0 2-.5 4-3 12 0 2-1 4-1 4 0 .5-.5 1-2-.5-2 0-2 3-1.5 2 0 2 1.5 4 1 2 1 2-.5 2 0 2 .5 2 0 2-.5 4 0 1 .5 1 1 1.5 3 .5 1.5 .5 .5 1 2 .5 .5 2-.5 2 0 1.5 2 .5 .5 .5 1.5 1.5 1 2 .5 2-.5 2-1 2 0 2 2 2 1.5 2 0 2-.5 4 0 2-1 2-.5 2 .5 .5 0 1.5 .5 2 1 .5 .5 1.5 .5 4 2 2 .5 4 0 2-1 1.5-2 .5-.5 1-1.5 1-2 1.5-2 .5-.5 1-1.5 .5-2-1-4 0-2-1-2-.5-2 1-1 .5-1 2-2 3-2 .5-.5 2-1.5 2 0 2 .5 2 0 1.5-.5 .5 0 2-1 2-.5 2 0 2-.5 .5 0 1.5-.5 4-2 4-1 6-3 2 0 6-1.5 2 0 2-1 1.5-1 2-2 .5 0 2-2 1.5-2 .5-1.5 0-.5 1-2 1-1.5 .5-.5 1-2 .5-1.5 0-.5 1-2 .5-2 0-2 .5-2 0-2 .5-2 1-2 .5-.5 2-1.5 4-2 2-1.5 .5-.5 3-2 .5 0 2-1 1.5-1 .5 0 2-1.5 1.5-.5 .5 0 2-.5 2-1 10 0 2-.5 2-1ZM369 468l-.5 0 .5 .5 0-.5ZM371 473.5l-2 2 0 2.5 2 2 0 .5 .5 1.5 0 2-.5 2 .5 2 1.5 2 2 .5 .5-.5 1-2 .5-2-.5-2 0-2 .5-1.5 0-.5 1.5-2 .5-.5 .5-1.5 0-2-.5-.5-2-1.5-4 1ZM132 672l1-1 2 .5 1 .5 .5 2-1.5 1.5-2-.5-.5-1ZM108.5 676l.5-1.5 2 0 .5 1.5-.5 .5-2 0Z"/>
<path fill="#98ff80" fill-rule="evenodd" d="M678.5 406l.5-.5 2-1 2-.5 2 .5 2 0 2 .5 2 1 2 1.5 6 3 4 3 2 0 2 .5 6 0 2 1 1.5 1 .5 1 3 3 1 .5 2 1.5 .5 0 1.5 .5 2 .5 2 1 2 1.5 1.5 .5 .5 .5 2 .5 2 1 4 4 0 .5 1 1.5 1 4 0 .5 2 .5 2-.5 1.5-.5 .5 0 2-.5 2 .5 1 0 1 .5 2 0 2-.5 .5 0 1.5-.5 4 0 2 .5 4 0 4 1 2-.5 1.5-.5 .5 0 2-2 0-2 3-6 2-2 5-2.5 4-1 2-1 2-1.5 1.5-2 .5-1 1-1 1-1.5 2-2 4-2 2.5-2.5 1.5-1 2-.5 2 1 1.5 .5 .5 .5 0 395.5-740 0 0-92 2-.5 2 0 2 .5 2 0 4 1 4-1 2-2 1-4 1-1 2-.5 4 0 .5-.5 1.5-.5 2-.5 2 .5 4 2 2 0 2-1 4-4 2-1 2-.5 2 .5 2 0 2-.5 2-1 6-6 0-.5 1-1.5 0-2 .5-2 1-2 2-2 1.5-.5 2-1.5 .5 0 1.5-1 4-1 2 0 6-1.5 1.5-.5 .5-.5 1-1.5 .5-2-2-4 .5-1.5 0-.5 2-1.5 .5-.5 1.5-1 2-.5 2-1 1.5-1.5 0-2-1-2 0-2 1.5-2 4-4 0-.5 2-1.5 0-.5 2-1.5 4 0 2-1 1.5-1 .5-.5 1-1.5 1-4 2-1 2-.5 .5-.5 1.5-2 0-.5 .5-1.5 1.5-3 1.5-1 .5-.5 2-.5 2 0 2-.5 2.5-2.5 1.5-2 2-1 2-.5 1-.5 1-2 0-2 1-2 1-.5 2-2 1-1.5 0-4 1-2 2-1.5 0-.5 1.5-2 .5-1 1-1 1-1.5 .5-.5-.5-2 0-.5-.5-1.5 .5-.5 1-1.5 3-3 1.5-1 2-2 1-2 .5-2 1-1 1 1 1 2 2 2 2 0 2 .5 2 1 .5 .5 1.5 1 2 1 2 0 2-.5 4 1 2 0 2-1 2-2 4-3 4-1 6-3 2-.5 4 0 2-1.5 .5-.5 0-2 1.5-1.5 0-.5 2-1 1.5-1 .5 0 2-1.5 .5-.5 1-2 .5-2 0-2 1-4 0-4-1-2 0-.5-1-1.5-.5-2-.5-1.5 0-.5-1.5-2-.5-1-1-1 0-2 .5-2 0-2-.5-2-1-1.5-.5-.5-1.5-2 0-.5-1-1.5-.5-2-.5-1.5-.5-.5-1-2-2.5-2.5-.5-1.5-1.5-2 0-.5-.5-1.5 0-2-.5-2-1-2-1.5-2 .5-2 1-1.5 .5-.5 1-2-.5-2 0-2 2-2 1-.5 2-2 1-1.5 1-1 4-2 2-2 1.5-1 .5-.5 2-1 1.5-.5 .5 0 4-1 2 0 2 1 2 1.5 4 0 2 .5 .5 0 1.5 1 2-.5 .5-.5 1.5-.5 2-.5 4 0 1.5-1 .5-.5 2-1.5 2 0 2-.5 1-1.5 2-2 1-.5 2-.5 2 0 2-.5 4 0 2 .5 4-1 2 0 2 2-1 4 2 8 1 1.5 .5 .5 1 2 0 2-.5 2 .5 2 .5 .5 2 .5 2-1 2 .5 .5 1.5 .5 2-.5 2-.5 1.5 0 .5 2 .5 2 0 2-.5 2-1.5 .5-.5 1.5-1 4-1 .5 0 1.5-1 2-1 .5 0 1.5-.5 4-1 1-.5 1-2 .5-2-.5-2 0-.5-.5-1.5-1-2-.5-2 0-2 1-2 4-4 3-1.5 2 0 1.5 1.5 .5 1.5 0 .5 2 1.5 .5 .5 1.5 1 1 1 1 2 1.5 2 1 0 1.5-.5 2 0 1 .5 1 0 2 .5 1.5-.5 .5 0 2-1.5 4-1 2 0 2 .5 2 1 2 .5 2 0 .5 .5 1.5 .5 2 .5 2 0 2-1 8-2 4 1 2-1 4-1 2 0 2 1 .5 0 1.5 .5 2 0 2-.5 4 0 2 1.5 .5 .5 1.5 2 2.5 0 1.5-.5 2-1 2-.5 .5 0 1.5-2 .5-2 1.5-1.5 2-.5 2 0 2 .5 1 1.5 .5 2 .5 .5 1 1.5 1 .5 4 1 2 1 2 1.5 2 1 2 .5 4-1 2 0 6 1.5 2-.5 2 0 4 2 2 .5 2-1 2-.5 2 0 6 3 2 .5 4 0 2-.5 2 0 1.5 .5 .5 0 2 1 2-.5 1-.5 1-1 2-1 2 0 .5 2 1.5 2 2 1 1.5 1 .5 .5 2 1 1.5 .5 1 0 2-2 .5-2-.5-2-.5-1.5 0-.5-1.5-2-2.5-2.5-.5-1.5 0-2 .5-2-.5-2-1.5-2 0-.5-.5-1.5 .5-.5 .5-1.5 1.5-1.5 0-.5 1.5-2 2.5-2.5 1-1.5 3-3 2-1 2-1.5 1-.5 2-2 3-1.5 2-.5 2.5 0 1.5-.5 2-1 2-.5 2 0 2-.5 6 0 2-.5 2 0 .5-1 .5-2 0-2 .5-2 .5-1 2-2 1.5-1 .5-1 1-1 1-1.5 .5-.5 1-2 .5-1.5 0-.5 1-2 1-4 0-4 .5-2 0-2 .5-2 1-1 2 0 2-.5 2-1 2-1.5 0-.5 2-1.5 4-1 2-1 1.5-2 .5-.5 2-1.5 .5 0 1.5-.5 2-.5 4 1 2 1 2 0 2-1 .5 0 1.5-1ZM729 444l-2 0-2 1-.5 1-.5 2 1 1 1.5 1 2.5 0 2-1 2-.5 .5-.5 1.5-1 1-1-.5-2-.5-.5-4 0ZM773 445l-.5 1 .5 .5 1 1.5 2 2 1 1.5 .5 .5 1.5 2 2 1.5 1.5 .5 1 0 2-2 .5-2-.5-2-.5-.5-2-1-2-.5-2-1-1-1-3-1.5ZM363 527.5l-.5 .5 0 2 .5 .5 1-.5-.5-2ZM671 443l-1.5 1 .5 2 1 1 2 0 1-1-.5-2-.5-.5ZM389 494l0 .5ZM214 614l1-.5 .5 .5-.5 .5Z"/>
<path fill="#b5ff80" fill-rule="evenodd" d="M683 410l2 0 2-.5 2 1 3.5 3.5 .5 0 2 1 2 .5 4 2 2 .5 6-1.5 2 0 2 .5 1.5 1 1 2 2 2 1.5 2 2 1.5 2 0 1.5 .5 .5 0 2 1.5 .5 .5 1 2 0 2-.5 2 .5 2-1.5 2-2 1-1.5 1-.5 .5-2 3 0 .5-1 2 0 2 1 2 1.5 2 .5 .5 2 1 2 0 2-.5 2 0 2 1 .5 0 1.5 .5 2 .5 2-.5 .5-.5 0-2 .5-2 1-1.5 2 1.5 1.5 2 .5 0 2-1 2-2 .5-1 0-2 1.5-2 2 .5 2 1 4-1 2 0 .5 1.5 0 2-1 2-2 2-.5 2 0 2 1 1.5 2 1 5.5 5.5 .5 2 0 2 2-.5 2 0 2 .5 2 2 .5 0 1.5-.5 2-2 2-1.5 .5 0 1.5 1 1 1 1 .5 2 0 .5-.5 1.5-1 .5-1 0-2-1-2 .5-2 0-.5 1-1.5 1-1 1.5-1 .5-.5 1-1.5 .5-2-.5-2 0-2-.5-2 0-2-.5-1.5 0-.5-1-2-.5-2-2-4-.5-2 .5-2 1-2 .5-.5 3-1.5 3 0 2-.5 2-1 .5-.5 3-6 2.5-2.5 4-3 2-2 2-1 1 .5 2 2 1 1.5 0 33.5-2 1 0 .5-.5 1.5 .5 .5 2 .5 0 10-2-1-2 .5-2 1.5-.5 2 .5 .5 2 1 .5 .5 1.5 .5 2 0 0 337.5-740 0 0-85.5 2 .5 6 0 2 .5 .5 .5 1.5 .5 4 2 2 2 .5-.5 1-2 .5-.5 4-1 1-.5 2-2 1-1.5 .5-.5 1-2 .5-1.5 2 1 2 0 2-.5 1.5-1 .5-.5 2-1.5 .5 0 4-4 3-2 .5 0 2-.5 2 0 2-.5 1.5-1 .5 0 2-1.5 .5-.5 1.5-1 4-2 2-.5 .5-.5 1.5-2 2-4 0-.5 .5-1.5 0-2 1.5-2 2-1 4-1 2 .5 2-.5 2-1 1-1 1-.5 4-4 .5-1.5 1-4 .5-1.5 0-.5 4-2 .5 0 1.5-.5 2-1 2-.5 2-1 1.5-1 .5-.5 1-1.5 2-4 1-1 4-2 1.5-1 .5-.5 .5-1.5 1.5-1.5 0-.5 2-2 2-1.5 1-.5 1-1.5 2-2 1.5-.5 .5 0 2-1.5 2-2 4 0 .5-.5 2-4 1.5-2 0-.5 1-1.5-.5-2 0-2 1.5-2 2-2 0-.5 2-3 6 0 2-1 1-1.5 2-4 2-2 .5-2-.5-2-2-2-1-2 1.5-2 .5-.5 2-1 1.5-.5 .5 0 2-1 2-.5 .5-.5 1.5-1 2-.5 1.5 1.5 .5 1.5 0 .5 1 4 1 1 2-.5 .5-.5 1.5-2 2-2 1.5-2 .5-.5 2-1 4 0 .5-.5 1.5-.5 2-1 .5-.5 1.5-.5 1.5-1.5 .5 0 4-2 .5 0 1.5-1.5 1.5-.5 .5-.5 2 .5 2-1 1-1 1-.5 2-1.5 2-.5 2-1 1.5-.5 .5 0 2-2 0-2 .5-2 2-4 1.5-2 1-2 .5-2 .5-1.5 0-.5 1-2 .5-2 0-4 .5-2-.5-2-3-4-1-2 .5-2 0-4-.5-2-1.5-3-1-1-.5-2 .5-2 0-2 .5-2 0-2-1.5-1-2.5-5-2-2-1.5-2 0-2-.5-2-1-2-.5-.5-1-1.5 0-2 .5-2 2.5-2.5 2-1 2.5-2.5 1-2 .5-2 0-.5 2-3 2 0 3 1.5 1 2 0 4 4 0 2 1 1.5 1 .5 .5 2 1.5 .5 0 1.5 1 2-.5 1-.5 .5-2 0-2 .5-.5 2-1 4 1 2 1 2 .5 2 0 2-.5 6 1.5 2 0 2-.5 4 1 1 1.5 .5 2 .5 .5 2 3 1 .5 1 1 1.5 1 .5 1 1 1-.5 2 1.5 1 2-1 .5 0 1.5-.5 1 .5 1 0 2 .5 2 1.5 .5 0 1.5 1.5 1 .5 1 1.5 2 0 2-.5 2 1 2 .5 .5-.5 1.5-2 2-1 2-.5 2.5-2.5 1.5-3 2-2 6 0 2-.5 2 0 2 1 4-3 .5-.5 1.5-.5 2-1 1.5-.5 2-2 .5-1 2-1 2 1 2 0 2-1 4 1 4-1 .5 0 1.5-1 2-.5 2 0 4 1 2-.5 1.5-1 .5 0 2-1 2 0 4 1 2 0 2 .5 2 0 1.5-.5 .5 0 2-1.5 2-1 1 .5 1 0 2 .5 4 0 4-1 1.5 .5 .5 0 2 1.5 1.5 .5 .5 0 2 .5 1.5-.5 .5 0 4-1 2 0 2 .5 6 0 4 2 2.5 2.5 1.5 2 2 1.5 4-1 2 0 2-.5 2.5 0 1.5 1.5 2 .5 2-1.5 .5-.5 1.5-.5 2 0 4-1 2 .5 2 0 2 .5 2 0 2 1 6 1.5 4.5 0 1.5-.5 2-.5 2 0 1.5 1 .5 .5 2 1.5 2 1 4 0 2 .5 8 4 1.5 .5 1 0 1.5-.5 2-3 .5-.5 1.5-1 1-1 1-2 0-2-1-2 0-4 .5-2 .5-1.5 0-.5 .5-2-.5-1.5-.5-.5-1.5-1-1-1-1-1.5 0-.5-1-2 .5-2 2-4 .5-.5 2-3 .5-.5 1.5-2 4-2 .5 0 1.5-1 2-.5 1-.5 1 0 2-1 6-1.5 6 0 4 1 4 0 2.5-2.5 1-4-.5-2 0-2 1-2 2-1.5 .5-.5 1.5-2 2-1.5 1.5-.5 .5-.5 .5-1.5 .5-2 0-2 .5-2 0-2 .5-2 0-.5 .5-1.5 .5-2 1-2 4-4 2-1 2-.5 .5-.5 1.5-.5 3-1.5 1-1 .5-1 1.5-2 2-1.5 2 .5 1.5 1 1 2 1.5 2 0 .5 2 1 2 0 2-2 1-1.5 1-2 2-1 4-1ZM305 503l-1.5 1 .5 2 1 1 1.5-1-.5-2ZM361 520.5l-.5 1.5-1.5 2 0 .5-.5 1.5 .5 2 0 1 .5 1 1.5 2 2 1.5 2 .5 2-.5 1.5-1.5 .5-1.5 0-.5 1-2 0-2-.5-2-.5-1-1-1-1-.5-4-1ZM667 437l-1 1-1 .5-1.5 1.5 0 2 1.5 2 3 6 1 1 2 .5 2 0 2-1.5 1.5-2 2-2 .5-1.5 .5-.5-.5-.5-1-1.5-3-1.5-1.5-.5-.5-.5-1-1.5-1-1-2-.5ZM94.5 718l.5-.5 2 0 .5 .5-.5 2-2-1Z"/>
<path fill="#d3ff80" fill-rule="evenodd" d="M686 420l3-1.5 2-.5 2 0 2 1 1.5 1 .5 .5 4 2 2 1.5 1 2 0 2-.5 2 0 2 .5 2-1 2-1.5 2-.5 0-2 2-2 1-2 0-1.5-1-.5-1-.5 1 .5 2 0 1 .5 1 3 2 .5 .5 3 1.5 1 1 .5 1 1.5 2 2 1 2 0 4-1 .5 0 1.5 .5 1.5 1.5 .5 1 1 1 1 .5 6 1.5 2 1.5 2 .5 4-1 4 1 2 2-.5 2-1.5 1-2 1-2 0-2 1-1 1-.5 2 0 2-.5 2-2 1.5-.5 .5-1 2 1 2 .5 1.5 .5 .5 0 2-.5 2 0 2 1.5 2 .5 .5 2 0 2 .5 2 0 2-.5 1.5-.5 .5-.5 0 .5 1.5 6 .5 .5 2 3 2-1.5 1-2 1-.5 2-.5 2 1 2 4 2 .5 4 0 2-.5 2 .5 2 0 1.5-.5 .5 0 2-1.5 2-.5 4 1 1.5 1 .5 2 0 2.5 .5 1.5 1.5 1 2 0 3-3 1-1.5 .5-.5 0-2-2-2-.5-1.5 0-1 .5-1.5 1.5-3 1-1 1-1.5 1.5-.5 .5 0 2-1 2-2 2-1 2.5 0 1.5 .5 2 1.5 .5 0 1.5 .5 2-.5 4 0 1.5 2 0 2 .5 2 0 .5 2 .5 1-1 1-2-1.5-2-.5-1-1.5-1-.5-1.5 0-1 4 0 4-1 2-2 0 323.5-740 0 0-81 2 0 4 1 2 0 4 1 1.5 1 .5 .5 2 1 2 .5 2-.5 2-1.5 2-1 2-.5 1-.5 2-2 1-.5 2-1.5 4-2 2-2 2-1.5 8-4 .5-.5 3-2 .5-.5 2-1 1.5-.5 .5-.5 4-1 1.5-.5 .5 0 2-1 1.5-1 .5-.5 2-1 .5-.5 1.5-2 2-4 0-.5 2-3 .5-.5 1-2 2-2 .5 0 2-.5 2 0 2-.5 2-1 2-2 1.5-2 .5-.5 2-3 .5-.5 1-2 .5-1.5 0-.5 2-2 .5 0 1.5-.5 4 1 2-.5 1.5-2 .5-.5 2-1 2 0 1-.5 1-1.5 0-.5 .5-2 1.5-2 4-2 2-2 1.5-2 .5-1 2-2 2-1 4-1 1.5-1 2.5-2.5 2-1 .5-.5 3-2 .5-.5 2-.5 1.5-1 .5-.5 1-1.5 1-4 0-.5 1-1.5 1-2 1.5-2 .5-.5 2-1.5 2-2 .5 0 3.5-3.5 0-.5 1-2 1-4 2-1.5 2-.5 2 .5 4 0 .5-.5 1.5-2 2-1 1-1 1-.5 2-2 2 0 2 1 2 .5 1-1 1-.5 1-1.5 1-2 .5-2 1-2 .5-.5 2-.5 2 0 4-2 1.5-1 .5-.5 1-1.5 1-1 1.5-1 .5 0 4-1 1-1 1-.5 2-1.5 4-2 2-.5 4-3 .5-.5 1.5-2 0-.5 .5-1.5 0-2 1-2 .5-.5 2-1.5 1-2 0-2 .5-2 .5-1 2-2 .5-1 1-4 0-6 .5-2 0-2-.5-2-1-2-.5-.5-1-1.5 .5-2 .5-.5 2-3 .5-.5 1-2 0-4 1-2 2-2 .5-2-.5-2 0-2-.5-1.5 0-.5-1-2 1-2 4 0 2-1 1.5-1 1 0 1.5 .5 2 .5 2 0 1-1 1-2 0-4 1-2 1-.5 2 1 1 1.5 .5 2 2.5 2.5 2 1 1.5 .5 .5 0 2 .5 2 0 2 1 2 .5 2 2 .5 2 0 2 .5 2-.5 2 0 4 .5 2 1 2 0 .5 2 3 2.5 2.5 1.5 2 2 1.5 1.5 .5 .5 0 2-.5 4-3 2-.5 2 0 8-2 .5 0 1.5-1 1-1 0-2-.5-2 0-2 1-2 .5-.5 2-1.5 4-1 2 0 1.5-1 .5-.5 2-1.5 .5 0 .5-2 1-.5 2 0 4-2 1-1.5 5-2.5 2-2 1-1.5 1-.5 4-1 2 0 2-.5 .5 0 1.5-.5 2-1 .5-.5 1.5-1 1-1 1-.5 2-1.5 2-1 2 0 1 1 1 2 2 1 4 0 2-.5 4 0 2 .5 4 0 1-1 1-.5 2-1.5 .5 0 1.5-.5 2-1 2 0 2-.5 1 0 1-.5 2-.5 2 0 2 .5 2 0 1.5 .5 .5 0 4 2 .5 0 1.5-.5 2-.5 6 1.5 6-1.5 2 1 2 2 1.5 2 .5 1.5 0 .5 2 1.5 1.5 .5 .5 0 2 .5 4 2 2 0 6-1.5 2-1 2-2 2-1.5 .5-.5 1.5-.5 2-.5 4 0 2 1 .5 0 1.5 .5 2 1 6 0 2 .5 8 0 2 1.5 .5 .5 1.5 1 6 3 .5 0 1.5 .5 2 .5 6 0 2 .5 4-1 1-.5 1-1.5 .5-.5 3-4 1-2 .5-2 0-2 1-4 0-.5 1-1.5-1-4 0-6 1-4 0-2-1-4 0-2 1.5-2 .5 0 4-1 1.5-1 .5-.5 4-2 4 0 2 .5 2 0 2-.5 4 0 2 1 4 1 2 0 2-1.5 1-2 0-4 1-4 0-.5 1-1.5 1-1 1.5-1 2.5-2.5 2-1.5 1-2 .5-2 0-2 .5-1.5 .5-.5 1-2 .5-.5 1-1.5 .5-2 .5-.5 2-.5 2 0 1.5 1-1.5 1.5-1 .5-1 2 1 4 1 2 0 .5 2 3 2 1 2 .5 2 2 1.5 3 .5 1.5 0 .5 2 1.5 2 .5 .5 0 1.5 .5 2 .5 2 0 1.5-1 .5-.5 3-1.5 1-1 1.5-1 .5-1 2-.5 2 .5 2-.5 .5-.5 1.5-1 1-1-.5-2-.5 0-4-1-1-1-.5-2 2-4 0-2-.5-2 0-.5-2-1.5-2 .5-2 0-2-.5-1-2-.5-2 .5-2 1-1 4-2 2-2ZM713 512l-.5 2 .5 .5 2 .5 1.5-1-3-2ZM737 515.5l-.5 .5 .5 .5 1-.5ZM805.5 426l1.5-1.5 2 1 .5 .5 0 4 .5 2 1 1.5 0 .5 1 2 1 1.5 2.5 2.5 0 2-.5 .5-2 .5-2-.5-.5-.5-1.5-2-.5-2-3-4-.5-.5-.5-1.5-1-2 .5-2 1-1.5ZM709 438l2 0 1 2-1 1.5-.5 .5-1.5 .5-1-.5-.5-2ZM800.5 450l.5-.5 1 .5-1 .5ZM740 468l1-.5 2 .5 0 2.5-.5 1.5-1 2-.5 .5-2 0-1-.5-1-1-1.5-1 1.5-2 2-1.5ZM397.5 512l1.5-1.5 1.5 1.5 .5 1.5 .5 .5-.5 .5-2-.5Z"/>
<path fill="#f0ff80" fill-rule="evenodd" d="M647 452l2-1 2 .5 1.5 .5 .5 0 2 .5 2 0 2 .5 1 1 0 2 .5 2 1 2 1.5 1.5 1.5 .5 .5 .5 2 .5 1.5 1 .5 .5 1 1.5 1 1 1.5 3 0 2-.5 2 .5 2 .5 1 1.5 1 .5 .5 2 0 .5 1.5 .5 2 3 3 1.5 1 .5 .5 2 .5 1.5 1 2 2 4 8 .5 1.5 .5 .5 1 4 0 6-1.5 2-.5 2 0 2 1 2 .5 2-2 2-1 .5-2 3-.5 .5-.5 2-1 2 0 4 1 4 1 2 0 .5 .5 1.5 0 2-.5 2 0 .5-.5 1.5-.5 2 1 4 0 .5 1 1.5 1 .5 2 2 2 .5 2-1 .5 0 1.5-.5 2 0 2-1 .5-.5 1.5-1 2-1 2 0 2-.5 2 1 2 2 1 1.5 1 2 2-.5 1-1.5 2-2 1-.5 2-.5 2 1 .5 0 1.5 1 1.5-1 .5-.5 1-1.5 .5-2 .5-1.5 2 0 2 .5 1-1 .5-2 2.5-5 0-1-2-1.5-1.5-.5-.5-.5-.5-1.5 .5-1 0-1 .5-2 0-4 1.5-2 2-2 2-1.5 2 .5 2 2 4 1 1.5 2 .5 2-1 4-1 2 2 1.5 2-1 .5-.5 .5-2 1-2 2-1.5 2-1 1-1.5 .5-2 0-4-1-4 0-2 1.5-.5 2-1 1.5-.5 .5-.5 2-.5 2 0 1 1 2 4 1 1.5 .5 .5 0 2-1 4 0 2 .5 2 2 1.5 6 0 6-1.5 2 1.5 2 .5 2 0 4-1 1.5-1 .5-1 2-1 2 1 2-.5 1-.5 1-1 2-1 1 2 1 .5 1.5 1.5 .5 0 4 1 0 271-740 0 0-77 4 0 1.5 1 .5 .5 2 .5 4 0 2 1 .5 0 1.5 .5 2 .5 2 0 2-.5 4-2 .5-.5 3-2 .5-.5 2-1.5 2-1 1.5-1 .5 0 2-1 2-.5 2 .5 2 0 1-1 1-1.5 2.5-2.5 1.5-1 .5-1 2-2 3-2 .5-.5 4-1 2-1 2-.5 2-1 .5 0 1.5-.5 1.5-1.5 .5 0 1.5-2 3-6 1.5-2 0-.5 1.5-1.5 .5-1 2-2 2 0 2-.5 1.5-.5 .5-.5 2-1 .5-.5 1.5-2 1-2 1-1.5 .5-.5 1.5-2 0-.5 1-1.5 1-2 0-.5 2-1 2 0 2 .5 2 0 4-2 4-1 .5 0 1.5-1 1-1 2-4 4-4 1-1.5 .5-.5 1.5-2 4-2 .5 0 1.5-.5 2-.5 1.5-1 2-2 .5 0 2-1 2-.5 4 0 2-1 1.5-1.5 2-4 .5-2 0-1 .5-1 .5-2 1-1.5 .5-.5 .5-2 1-2 2-1 1-1 3-1.5 2-2 1-.5 1-1 4-1 .5 0 1.5-.5 6 0 1.5 .5 .5 0 2 .5 1.5-.5 4-4 2-4 .5-.5 2-1.5 4 0 2-1 1.5-1 .5-.5 1-1.5 2-2 1-.5 1-1.5 1-1 .5-1 1.5-2 2-2 1.5-2 .5-.5 2-1.5 .5 0 1.5-.5 2 0 2-1 .5-.5 3-4 1-2 1.5-2 2-2 1-2 1-1 .5-1 1.5-1.5 0-.5 1-2 2-2 1-2 0-2 1-2 1-1 3.5-7 .5-1.5 0-2.5-1-2-.5-2 .5-2 1-2 2-2 4-1 .5-1 0-2-1-2-.5-2 0-2 .5-2 0-2 .5-1 2-.5 1 1.5 1 4 0 .5 2 1.5 1-2-.5-2-.5-1.5-.5-.5 .5-1 0-1 .5-2-.5-2-1.5-2-2-2 1.5-2 2-.5 4 0 2 .5 4-1 2 0 1 1 .5 2 0 2 .5 .5 .5 1.5 1.5 2 2 1.5 .5 .5 3 2 2.5 2.5 .5 1.5 1 2 .5 2 1 2 1 1 2 1 .5 0 1.5 .5 2 .5 8 0 2-1 1 0 1-.5 2 .5 2 0 2 .5 2 0 1-.5 1-1 .5-1 1.5-1 1-1 1 0 2-.5 2 0 2-.5 .5-1 3-4 .5-1 4-1 .5 0 1.5-.5 1.5-1.5 .5-2 1-2 1-.5 2 0 .5 .5 1 2 .5 2 2 0 4-2 0-2-1.5-2 0-2 1-2 .5-.5 2-.5 4 0 2-1 0-2-.5-2 .5-.5 2-1 2-.5 2 1 1 1 1 1.5 2 0 2-1.5 0-.5 .5-1.5 1-2 .5-.5 2-.5 6 0 1.5 1 .5 .5 4 2 2 .5 1.5 1 .5 0 2 1 2 .5 4-2 2-.5 8 0 2-.5 2-1 1-1.5 3-3 2-.5 .5-.5 1.5-.5 4-2 2 .5 .5 0 1.5 .5 2 0 4 1 .5 .5 1.5 2 2 2 2 1 1.5 1 2 2 .5 0 2 1.5 1.5 .5 2.5 0 2-.5 4-2 4 0 2-1 .5-.5 1.5-2 2-2 2-1 2-.5 2 0 4 2 2 .5 4 0 2 .5 1.5 .5 .5 .5 2 1 2 0 2 .5 1 0 1 .5 4 1 1.5 .5 .5 0 4 2 .5 0 3 2 3 0 1.5-.5 2-.5 2 .5 2 0 2-.5 1.5-1 .5-.5 2-1.5 2-2 3-6 1-4 0-.5 2-3 4-4 1-.5 0-2-1-2-2-1.5-1-.5-1-1-.5-1 0-2 .5-.5 2-3 .5-.5 1-4 .5-1.5 0-.5 1.5-2 .5-1 2-2 4 0 2 .5 4 0 2-.5 2 1 .5 0 1.5 2 .5 0 1.5 1 2 0 2 .5 .5 .5 1.5 1 2 .5 2-2 .5-1.5 1.5-2 1-2 0-4-1-2 0-3 .5-1 1.5-1 2-.5 1-.5 1-2ZM661 466l-2 1-.5 1 0 2 1 0 2-2-.5-2ZM695 564.5l-1.5 1.5 0 2 1.5 1.5 1.5-1.5 0-2ZM681 458l2-1 1.5 1 0 2-1.5 1-2-.5-1-.5ZM689.5 462l1.5-.5 2 0 2 .5 1.5 2 2 4 0 2-1.5 1.5-2 0-4-2-2-1.5-2-2 0-2.5 2-1.5ZM677.5 476l1.5-1 2 .5 1 .5 0 2-1 .5-2 0-1.5-.5ZM800.5 496l1 0 1.5 .5 2 1 2 2 1.5 .5 .5 .5 2 .5 1 1 1 1.5 .5 .5 1.5 1 1 1 1 .5 2 0 0 7.5-2-1.5-1-.5-1-1-1.5-1-.5 0-2-1-4 0-1.5-1-.5-.5-2-3-1.5-.5-.5 0-2-.5-1.5-1.5 1-4 .5-.5ZM704 498l1-.5 1 .5 1 1.5 0 .5 .5 2-.5 1.5-.5 .5-1.5 2-.5 0-1.5 .5-2-.5-1-2 .5-2 .5-.5 2-3ZM789 530l0-.5 .5 .5-.5 1ZM697 550l.5 0 1.5 1.5 0 .5-1 2-1 1-2-1-.5 0-1.5-2 2-1Z"/>
<path fill="#fff778" fill-rule="evenodd" d="M611 472l2-1.5 2-.5 2 .5 2 0 2 .5 1.5 1 .5 0 2 1.5 .5 .5 1.5 1 2 1 0 .5 1 1.5 .5 2-.5 2-1 2 0 2 .5 2 1.5 2 2 1.5 .5 .5 1.5 .5 2 0 2-1 4-1 .5-.5 1.5-1 2-.5 2 1.5 1.5 2 .5 2 1 2 1 1 2 .5 1.5 .5 .5 1 2 2 2 .5 1 .5 2 2 1 2 0 .5-.5 1.5 0 2 .5 0 2 .5 1 1.5 1 4 0 4-2 1.5-4-1-2 0-2 1-1.5 .5-.5 0-2 .5-2-.5-2 0-2 .5 0-.5 .5-2 1-2 .5-.5 3-1.5 1-1.5 .5-.5 1.5-6 0-2 .5-2 0-2-.5-1-2 .5-2 1-1 1.5-1 .5-2 2-2 1-2 0-.5-1.5-.5-2-1-1-2 0-1.5 1-.5 2 1 2 1 .5 2 .5 2 1 .5 2 0 2-2 4-2 2-.5 1-2-.5-2 0-2 1.5-1 2 1 2 0 .5 2 1 2 0 .5 .5 3 2 .5 .5 1 1.5 1 2-.5 2-1.5 1.5-1 .5-1 1.5-1.5 .5-.5 2-.5-2-1.5-1-2-1-2 0-2-.5-2-1-2 .5-2 1-1 2 1 2 2 1 4 0 1 1 .5 2-.5 2 2 2 1 .5 2 1.5 2 2 2-2 0-2 2-1.5 4-1 2-1 1.5-.5 .5-.5 2-.5 2 0 1.5 3 0 4 .5 .5 1 1.5 1 2-2 2-4 1-1.5 1-.5 1.5-.5 .5 .5 0 1.5 2 .5 .5 1 1.5 .5 2 2 2 .5 0 2 1 2 .5 1 .5 1 1 .5 1-.5 2 0 .5-.5 1.5-1 2-2 2 0 2 .5 2 0 2-.5 2 1 4 .5 1.5 .5 .5 1.5 1 2 .5 1 .5 .5 2 0 2 .5 .5 2 1.5 3 0 1-.5 2-1.5 2-1 2-.5 .5-.5 3-4 1 0 1.5 .5 2 1 1.5 .5 .5 .5 2 0 1.5-.5 .5 0 2-1 2 .5 .5 .5 1.5 1 1 1 0 4 .5 2 .5 .5 2-.5 2-1 1.5-1 .5 0 2-1.5 2-1 2-2 .5-1.5 .5-2 1-2 2-2 1-2 3-3 2-.5 1.5-.5 .5-.5 1-1.5-1-2-1.5-2-.5-2 1-2 1-1.5 2-2 1.5-.5 .5-1 1-1-1-2 2-2 1 2 1 1 2 .5 2-1.5 2-4 2-1.5 .5-.5 1.5-1 2-.5 1-.5 1-1 .5-1 .5-2 1-1 2-.5 4 0 2.5-2.5 .5-2-.5-2 .5-2 1-2 2 0 2-.5 2-1 2 0 2 .5 2 1 .5 0 1.5 1 2 .5 2 0 1 .5 .5 2-2 2 .5 .5 .5 1.5 1.5 1.5 0 .5 1 2 0 2 1 1.5 2 2 0 .5 1.5 2-.5 2-1 2 2 2 4-1 2 1 2-.5 1-1.5-.5-2-.5-.5-2-.5-.5-1 .5-.5 2 0 1.5 .5 .5 .5 1 1.5 1 0 2 1.5 2 2 1 .5 1 1.5 1 .5 1 4 1.5 2 .5 .5 2 1.5 4 0 2-1.5 .5-.5 0-2-.5-.5-1-1.5-1-1-4 0-1.5-1-.5-2 1-2 1-.5 2 .5 1 0 1 .5 2 .5 4 0 0 235-740 0 0-71 2-.5 2 .5 1.5 1 2.5 0 4-1 2 0 2 .5 1.5 .5 .5 0 2 .5 1.5-.5 .5 0 2-1.5 1-.5 1-1 2-1 2-1.5 1.5-.5 .5-.5 2-1 4-1 2 .5 .5 0 1.5 .5 2 0 1-.5 2-2 1-2 1.5-2 .5-.5 2-1.5 .5 0 2-2 1.5-2 6-3 4-1 2 0 2-.5 4-2 1.5-1.5 .5-1.5 0-.5 1-2 1-1.5 1-.5 .5-2-.5-2 .5-2 .5-.5 2-1 4-1 3-1.5 1-1 .5-1 3-4 .5-1 1-1 1-1.5 1-.5 .5-2 0-2 .5-.5 2 .5 .5 0-.5 2 0 1-.5 1 .5 .5 2 0 1.5-.5 .5 0 1.5-2 1-2 1.5-1.5 1.5-.5 .5 0 4-1 2-1 1.5-2 2-2 1-2 1.5-2 0-.5 2-2 2-1 2 0 .5-.5 1.5-1 1-1 5-2.5 2-2 2-1.5 4 0 2-1 4-4 1.5-1 .5-1 1-1 1-2 0-.5 1-1.5 1-1 2-.5 1.5-.5 .5-.5 2-3 4-2 2.5-2.5 1.5-1 4-2 2 0 4 1 2 0 2-1 2-.5 4 0 4-2 2-.5 2-1 1-1 4-2 1-1 .5-1 0-2-.5-2 2-2 1.5-2 0-4 .5-2 2-2 2-1 2-.5 2.5-2.5 1.5-.5 2-1.5 4-4 2-1.5 .5-.5 3-6 .5-2 0-.5 3.5-3.5 1-2 1.5-1.5 0-.5 1.5-2 .5-2 2-4 1.5-2 .5-.5 4-2 2-1.5 .5-2 0-6 1.5-2 2-2 2-1.5 1-.5 5-5 1.5-1 .5-.5 2-3 .5-.5 1-2 .5-.5 2-1 4 1 .5 .5-1 2-1.5 2-2 2-2 .5-2 1.5-1 2 0 2 .5 2 .5 .5 2 3 2-1 0-.5 1.5-2 .5-1.5 .5-.5 1.5-1 2-.5 2 .5 2 0 2-.5 2 .5 2 0 2 .5 4 0 4 2 12 0 4 1 2-.5 2-1 4-1 2-2 0-2 4-4 0-.5 2-1.5 .5 0 1.5 .5 2 .5 2 0 1.5-1 .5-.5 3-1.5 1 0 2-1.5 2-1 4 0 3-1.5 1-1 1.5-1 .5 0 2-1 2-.5 0-.5 2-1.5 .5-.5 1.5-.5 2-.5 2 1-.5 2 .5 2 2 .5 2 0 1.5-.5 .5-.5 2-1.5 0-2-1-2-.5-2 1.5-3 1-1 3-1.5 2 0 2 1 1.5 .5 .5 .5 2 1.5 2 2 2 .5 2 0 1.5-.5 .5 0 4-2 .5 0 1.5-.5 10-5 1.5-.5 .5-.5 2-1 2-.5 2 0 2 1 2 .5 4-2 2 0 1 .5 2 2 1 1.5 0 .5 1 2 1 1.5 1.5 .5 .5 0 2 .5 2 1.5 2 1 2 0 2 1 .5 0 1.5 .5 2-.5 .5 0 1.5-.5 2-.5 2-1 1.5-2 .5-1.5 0-.5 1-2 1-1 1.5-3 .5-.5 2-1.5 2 .5 2 3 2 1 4 0 2 .5 2 1 2 .5 2 0 2-.5 3 0 1 .5 4 1 1.5 .5 .5 0 2 1 1.5 1 .5 .5 4 2 4 0 4 3 2 1 2 0 1.5-.5 .5-.5 2-.5 1.5-1-1-2 0-2 1.5-3 1-1 1-1.5 .5-.5 1.5-2 0-.5 1.5-1.5 .5-1 1.5-1 .5-1 1-1 0-2 .5-2 2-2 .5 0 2-.5 2 0 1.5-1.5 .5-2 0-2 .5-2 0-2-.5-1.5 0-.5-2-1.5-.5-.5-2-4-1-4 .5-2ZM627 571l-.5 1 .5 1.5 0 .5 2 .5 2 0 2-.5 .5 0 0-2-.5-.5-2-1-2-.5ZM645 589l-.5 1 .5 .5 2-.5 0-.5ZM651 573l-.5 1-.5 2 0 2 .5 2 .5 1 2 1 2-1.5 .5-.5-.5-.5-.5-1.5-1-2-.5-1.5-1-.5ZM757 558l-.5 0-1.5 .5-1.5 1.5-.5 1-1 1-.5 2 1.5 1 2-1 .5 0 1.5-.5 2-3 0-1-1.5-1.5ZM771 589.5l-1 .5 1 .5 .5-.5ZM419 539.5l-1 .5-.5 2 2 2 1.5 .5 2-.5 .5 0 .5-2-.5-2-.5-.5-2-.5ZM435 548ZM447 600l-1.5 6 1 4 0 2 .5 2 1 2 1 1 1.5 1 2 2-.5 2 .5 2 .5 1 2-.5 1-.5 1-1.5 .5-.5 1.5-2 2 0 2-1 1-1 .5-2 0-2 .5-2 0-2.5-.5-1.5-1.5-2-.5-2 0-2-1-2-.5-1.5-2 1 0 .5-1.5 2-1 2-1.5 1.5-2-1.5-2-2 0-.5-2-3ZM455 581l-3 3 0 2 3 3 2 1 2 2 0 .5 4 4 .5-.5 1.5-1 2-1 4-1 1-1 1-2-.5-2-1.5-1.5-2-1-2-1.5-2-1-2 0-2 1-2 0-.5-2-1.5-1ZM477 552l-1 2-.5 2 0 2-.5 2-2 2-2 1-2 0-.5 1-.5 2-1 2-1.5 2-.5 1.5-.5 .5 .5 2 0 1 1.5 3 .5 0 4 1 1.5 1 .5 2 2-1 0-1-2-2-.5-2 0-2-.5-2 1-4 0-1.5 .5 1.5 1.5 .5 2 0 0-5.5 2-.5 .5-.5 1.5-1 .5-1 .5-2 0-2-1-1.5-.5-.5-1.5-2-2 0ZM483 568l-1.5 2 1.5 2 2 .5 1-.5 1-1 .5-1-2.5-2.5ZM678.5 498l.5-.5 .5 .5 1.5 2 0 2 .5 2 2 2 3 2 .5 .5 .5 1.5 .5 2-.5 2-.5 1-2 1-.5 0-1.5 .5-2 0-.5-.5-2-4-3-4 0-2 2-2 1-2 0-2ZM670.5 526l.5-1 2-.5 1 1.5-1 2-2 1 0-1ZM818.5 540l.5-1 0 1.5ZM638 544l1-2 1.5 2 0 2-1.5 1.5-1.5-1.5ZM802 546l1-1.5 2 0 2 .5 2 1 .5 0 1.5 1 1 1 0 2-1 1.5-.5 .5-1.5 .5-4 1-.5-1.5-2-4ZM783.5 550l2 0-.5 .5ZM813.5 554l1.5-.5 2 0 .5 .5 1.5 .5 0 6.5-2 0-2-.5-.5-.5-1.5-2-.5-2 .5-1.5ZM802.5 558l.5-1 1 1-.5 2-.5 .5-1-.5ZM663.5 564l1.5-1.5 2 1 0 1-1 1.5-1 1-1.5-1ZM691 580l0-.5 2 .5 1 2 .5 2 .5 1 0 3-2 1.5-2-.5-1.5-1-1-2 .5-.5 .5-1.5 1-2ZM681 590l0 .5ZM678 592l1-1 1.5 1-1.5 1ZM704 596l1-1.5 2 1.5-2 2Z"/>
<path fill="#ffe768" fill-rule="evenodd" d="M615 474l2-1 2 .5 1 .5 1 2 0 1-.5 1-1.5 1-2-.5-.5-.5-1.5-2ZM610.5 518l2 0 .5 1.5 0 .5-2 0ZM538.5 522l.5 0 2 1 1.5 1 .5 .5 2-1 2-2 2-.5 4 0 2 .5 1.5 .5 .5 .5 4 0 4 1 6-1.5 2 .5 2 2 1 1.5 3 1.5 2 0 2 .5 .5 0 1.5 1 .5 1 1.5 2 0 .5 1 1.5-.5 2 0 2 1 4 .5 1.5 0 2.5-.5 2-1 2-.5 1.5 0 1.5 .5 1 0 2-.5 .5-.5 1.5-.5 2-2 2-3 1.5-1.5 .5 1 2 .5 .5 2 1 4 0 1.5-1.5 .5-2 1.5-2 .5-1.5 .5-.5 1-2 .5-.5 0 .5 2 2 .5 2 0 2-.5 1.5 0 .5-1 2 1 1 2 .5 2-.5 1.5-1 .5-.5 2-.5 1 1 1 1.5 2-.5 0-2-.5-1-1.5-2 0-.5-.5-1.5 0-2 .5-.5 2-1 4 2 1.5 1.5 1 2 3 2 .5 .5 1 1.5 0 4-.5 2 0 2-.5 2 0 .5-2 1-2 0-5 2.5-1 2 .5 2 1.5 .5 2 1.5 0 .5 .5 1.5 0 2-.5 1.5 0 .5 2 .5 6 0 2-1 1-1.5 1-1 1.5-1 1 0 1.5 .5 2 1.5 1.5 2-.5 2-1 .5-2 1.5-2 .5-2 0-1-.5-1-1-1 1-1 .5-4 4-.5 1.5 0 2 .5 2 0 2 2 2 1.5 2 .5 2 1 2 1 .5 4 3 2 1 2 .5 2 1 2 2 .5 0 1.5 2-2 1-1.5 1-.5 .5-1 1.5 0 6 .5 2-1 4 0 2 1.5 2 2 0 2 .5 2 1 .5 .5 1.5 2 0 .5 2 3 .5 .5 1 2 .5 2 0 .5 2 1.5 2.5 0 2-2-1-4 .5-.5 2-1.5 2 .5 1 1.5 0 2 .5 2 .5 1 1 1 1 .5 2-.5 .5 0 1.5-1 2-.5 6 0 2-.5 1-2-1-4 0-.5-1.5-1.5-1-2 2.5-2.5 2-3 2-2 1-.5 1-1.5 0-.5 .5-2 2-2 1.5-1 1-1 1-2 0-.5 .5-1.5 .5-2 1-1.5 .5-.5 1.5-1 2 .5 2 0 .5-1.5-1.5-6 .5-2 2.5 0 2 1 2 .5 2-.5 2-1 2 .5 2 1 1.5 .5 2.5 0 2-2 1-2 .5-2 2-4 .5-.5 2-1.5 6 0 2-.5 2 0 6-1.5 4.5 0 1.5-.5 1-1.5 .5-2-1.5-2 2-1 2 .5 .5 .5 1.5 1 2 1 1-2-1-.5-1.5-1.5 0-2 .5-2 1-1.5 .5-.5 1-4 .5-.5 2 .5 1 2 1 .5 2 0 .5-.5 .5-2 1-1 2 .5 .5 .5 .5 2 1 1 .5 1 1.5 1.5 0 .5 1.5 2 .5 1 2 1 .5 0 1.5 1 1 1 .5 2 0 2 .5 1 2 0 2-1 1-2 2-2 3-1.5 2-.5 4 0 2-2 1.5-2 .5-.5 1-1.5-.5-2-1-2 2-2 .5 0 2-.5 2 2 2 .5 2-.5 1.5 .5 .5 0 2 1.5 2 0 4-1 2 .5 2 0 2-1 2-2 0 5-1 1 1 2 0 12.5-2 0-1-.5-1 0-2-.5-1.5 .5 0 2 .5 2-1 1-2 0-.5 1-1 4-.5 1.5 0 .5 2 1 2-.5 4-2 2-2 2-1 0 9.5-4 2-1 1 .5 2 .5 .5 2 .5 2 0 0 177-740 0 0-65 2-1 4 1 2 0 4-2 2 0 2 .5 4 0 2-.5 2-1 2-2 .5 0 3-2 .5 0 2-1 2-.5 2 0 1.5-.5 6.5 0 2-1 1.5-1 .5-.5 2-1.5 0-.5 4-4 4-2 2-2 1-1.5 1-1 1.5-1 .5 0 2-1 2 0 4-1 2-1 2-.5 1-.5 1-1 1.5-1 .5-.5 1-1.5 4-4 3-6 2-2 2-1.5 0-.5 1.5-2 2.5-2.5 4-1 4-2 .5-.5 3-2 2-2 .5-1 1-1 3-1.5 2-.5 2-1 3-3 1-.5 2-1.5 .5 0 2-2 1-2 2-2 .5 0 2-1.5 1.5-.5 2.5 0 2-2 1.5-2 .5-.5 2-1 .5-.5 1.5-.5 2-1 .5-.5 1.5-1 2-2 1.5-1 .5-.5 2-.5 2 .5 2 0 1.5 .5 3.5 0 1-.5 1-1.5 0-4 1-2 2-1.5 2-.5 2 0 2 .5 2-.5 1 0 2-2 0-2 1-1 2-.5 2 .5 3 3 1 .5 2-.5 .5 0 4-4 1.5-2 2-1.5 2-.5 1.5-2 .5-1.5 0-.5 2-1.5 1.5-.5 .5-.5 2-1.5 1.5-2 4-4-.5-2 0-2 1-1.5 .5-.5 1.5-1 1-1 1-1.5 4.5-4.5 1.5-2 2-1.5 .5-.5 1.5-1 .5-1 1.5-2 1-2 .5-2 2-4 .5-.5 2-1.5 .5 0 1.5-1 1-1 1-2 2-8 1.5-2 2-2 .5 0 2-1.5 .5-.5 1.5-1 1-1 1-.5 2 0 4-2 2-.5 6 0 1.5-1 .5 0 2-2 2-1 2-.5 .5-.5 3-4 .5-.5 2-3 2 0 6 1.5 0 .5 2 1.5 4 1 2 0 2 1 4 0 2-.5 2 0 .5 .5 1.5 1 3 3 1 2 1.5 2 2.5 0 .5-2 1.5-2 2-1.5 1.5-.5 .5-.5 2-.5 2-1 2-1.5 0-.5 1-2 1-1.5 0-.5 2-2 2-.5 4 2 2 .5 2 0 2 .5 1.5 1.5 .5 1.5 0 .5 .5 2-.5 2-1.5 2 0 2 1 2 .5 .5 2 1 1.5 .5 1 0 1.5-.5 2-.5 2 .5 .5 .5 0 2-1 2-.5 2 0 4 1 2 0 .5 1.5 1.5 .5 1.5 0 .5 3 6-.5 2-.5 .5-4 1-2 2 0 1 .5 1.5 1.5 2 1 2 1 1.5 2.5 2.5-.5 2-1.5 2-1 2-.5 2-1 2-2 1.5-1.5 .5-.5 2 .5 2 0 2-.5 1.5-2 1-2 0-1.5-.5-.5 0-2-1-1 1 1 1.5 .5 .5 1.5 1 .5 1 3 2 .5 1 1.5-1 .5-1 0-1 2-1 2 0 4 1 2 0 2-2 2-.5 .5 .5 .5 2-1 2 0 .5-.5 1.5 .5 2 2 1.5 2-.5 2 0 1.5 1-.5 2-1 2 1 2 1 1 2 1 .5 0 1.5 1 2 .5 .5-1.5 1-2 .5-2-2-1.5 0-.5-.5-2 .5-.5 2-1.5 2 1.5 4-3 2-.5 2 1 1.5 1 .5 2 1 2 1 .5 2 0 2 .5 2-.5 .5-.5 1-2 .5-2 1-2 1-1 1.5-1 2.5-2.5 2-1 1.5-.5 8.5 0 2-.5 1.5-1.5 .5-2-.5-2 0-2 1-4 1.5-3 2-.5 2 1.5 1 2-.5 2-1 2 0 2 2.5 2.5 .5-.5 1.5-.5 2-1.5 2-1 2 1 6 0 1.5-2 .5-2 0-.5 .5-1.5 .5-2-.5-2 1-2 .5-.5 2-.5 1.5 1 .5 1 1 1 1 .5 .5-.5 .5-2 1-.5 1-1.5 1-.5 1.5-1.5 .5-1 2 0 .5 1 .5 2 1 1.5 .5 .5 1 4 1 0 1.5-.5 1-1.5 1-1 2-4 2-2 2-1 1.5-2 .5-.5 1-1.5 1-1 .5-1 1.5-2 2-4 0-.5 2-2 2 0 .5 .5 1.5 1 2 .5 4 0 .5-1.5-.5-2 0-4 .5-2-.5-.5-.5 .5-1.5 .5-2 .5-1-1 0-2 2-4-1-4 0-2-2-1-1.5-1-.5 0-1.5-2-1-2-1.5-2-2-4-2-1-4-1-2 0-2 2-.5 0-1.5 1-4-4-2-.5-1.5 1.5 0 2 1 2 .5 2-2 1-2-.5-.5-.5-.5-2 2-4 0-2 .5-2 0-2 .5-.5 .5-1.5 3-4-1-4-.5-.5-2-3-2-2-2 .5-2-.5-.5-.5-3-4 .5-2 1-1.5ZM581 574l-1 2 1 1 2-1 .5-2-.5-.5ZM599 577.5l-2 .5-1 2 .5 2 .5 1 2-.5 0-.5 1-2 0-2ZM797 588l-1 2 0 2 1 1.5 2-1.5 .5-2-.5-2ZM805 603l-1.5 1-.5 0-2 1.5-.5 .5 0 2 .5 0 2 .5 4 0 1.5-.5 1-2 .5-2-1-.5-2-1.5ZM413 621l-.5 1 .5 .5 2 0 .5-.5-.5-1ZM429 613.5l-1 .5 1 .5 1.5-.5ZM439 651.5l-2 .5-2 2 .5 2 1.5 1 2 1 2 0 2 .5 1 1.5 1 1 2 .5 2 0 1-1.5 .5-2 .5-1.5 0-.5 2-2 1-2-1-.5-4-1-2 .5-1.5 1-.5 2-2 0-1.5-2-.5-.5ZM459 645l-.5 1-1.5 1-1 1-.5 2 1.5 .5 2 1 .5 .5 1.5 1 2 .5 2-.5 .5-1 0-2-.5-.5-.5-1.5-1.5-1.5-1.5-.5-.5 0ZM473 642.5l0 2 1-.5ZM475 651l-2 2-1.5 1-.5 .5-4 0-1 1.5-1.5 6 .5 2 1.5 2 .5 1 1 1 1 4 2 1 2 .5 2 1 1.5 1.5 .5 1.5 0 .5 1 2 1 1.5 2 .5 2-.5 2-1.5 2 0 2 1 1-1 1-.5 .5-1.5 1-2 0-2-.5-2-1-2 0-.5-.5-1.5 0-2 .5-1.5 0-3-2-1.5-2 .5-2 1-.5 .5-1 4-.5 1-1 1-1 .5-2-.5-.5 0-1.5-.5-1.5-1.5-.5-2 1-2 1-1.5 .5-.5 1.5-2 0-2-1-2-1-1.5-.5-.5ZM517 632l0 2.5 1 1.5 1 1 2 .5 4-1 2 .5 2 0 1.5-1-.5-2-1-1-2-.5-1.5-.5-.5 0-4-2-2 1ZM597 587.5l-.5 .5-1 2 0 2 .5 2 1 1.5 1.5 .5 2.5 0 2-1 .5-1 .5-2 0-2-1-2-2-1-2-.5ZM606.5 540l.5 0 2-.5 1 .5 0 6-.5 2-.5 1-1-1-.5-2 .5-2-1-2 0-.5ZM500.5 558l.5 0 2 1.5 0 .5 2 1.5 1 .5 1 1 1.5 1 .5 .5 2 1.5 .5 0 1.5 1 1 1 1 2 2 1 2 2 1.5 1-1 4 1.5 1 .5 1 1.5 1.5 0 1-2 .5-2 0-1.5-1 .5-2-1-1.5-2-.5-2 .5-.5 1.5 0 2-1.5 2-.5 0-1.5-.5-4-4-2-3-.5-.5-1.5-2-2-1.5-.5-.5-1.5-.5-2-1.5-.5-2 .5-1 1-1 1-1.5 .5-.5 1-4 .5-1.5ZM451 560l2-.5 1 .5 .5 2 0 2-1.5 2-4 1-2 1-2 .5-2 0-1-.5-.5-2 1.5-2 2-1.5 2-1 2-.5ZM500 584l1-.5 2 .5 1 2 0 2 1 2 1 4-.5 2-.5 0-2 .5-.5-.5 0-2-.5-2-1-1-.5-1-.5-2-1-2ZM783 588l2-1.5 2 1 .5 .5-1 2-1.5 1.5-2-1.5 0-1.5ZM501.5 606l1.5-.5 .5 .5-.5 .5ZM642.5 608l.5 0 2-1 6 0 4 2 2 2 1.5 3 .5 1.5 4 4 1 .5 0 2-1 1-1.5 1-.5 .5-4 1-2 0-1.5-1.5-.5 0-2-1.5-1.5-.5-.5-.5-2-1-.5-.5-1-2-.5-.5-3-1.5-1-1-.5-1 0-4 .5-.5ZM671 612l0-.5 2-1 1.5 1.5 1 2 .5 2-.5 2-.5 .5-1.5-.5-.5-.5-.5-1.5-1-2-.5-1.5ZM652.5 630l.5-.5 2 0 .5 .5-.5 .5-2 .5ZM663.5 640l1.5-1.5 2 1.5-2 1Z"/>
<path fill="#ffd758" fill-rule="evenodd" d="M572.5 532l.5-1 2 .5 1 .5-.5 2-2 2-.5 2 .5 2 1 2 .5 .5 .5 1.5 .5 2-1 1-2 0-2 .5-6 0-1.5-1.5 3-4 2-2 .5-1.5 .5-.5 1.5-3 1-1ZM361 558l2-1 2 .5 2 0 4 2 .5 .5 1.5 1 2-.5 2-1 2-.5 2 1 4 4 .5 2-1 2 0 2 .5 0 2 1.5 1 .5 0 4 .5 2 .5 1.5 2 2 2-1 2-2 1.5-.5 .5 0 2-1 1.5-1 .5 0 2-1.5 1.5-.5 .5-.5 2-1 0-.5-1.5-2-.5-.5-1-1.5-2-4-.5-2 1.5-1 2 .5 4 0 2-.5 1.5-1 .5-.5 2 .5 1.5 2 .5 .5 2 3 2.5 2.5 1.5 2 2 2 2 1 1 1 1 2-1.5 2-.5 .5-2 1-2.5 2.5 1 2 2 2 1 2-.5 2-1 1-.5 1 0 2 .5 1.5 .5 .5 1 2-.5 2-1 1.5 0 .5-2 2-2 1-1.5 1-.5 .5-1 1.5-.5 2 0 2 1 2-.5 2-1 .5-2-2 0-.5-1-4-1-1-2-.5-2 .5-1 1-1 .5-2 1.5-1.5 2 0 2 .5 2-1 2-2 .5-2 1-2.5 2.5-.5 2 .5 2 .5 1.5 2 .5 2-1.5 2-2 2 0 1 1.5 1 2 1.5 2 .5 1 1 1-1 .5-2 0-2-.5-2.5 0-1.5-.5-2-.5-.5 1 .5 2 0 1 1.5 3 .5 .5 6 3 2-1 0-.5 1-2 .5-2 0-2 .5-.5 2-.5 2 .5 1.5 .5 .5 .5 .5 1.5 1.5 3 1 1 1 1.5 0 .5 1.5 2 .5 1 1 1 0 4-.5 2 0 2-.5 .5-1-.5-2 0-1 .5-.5 1.5-1.5 2 0 .5-1.5 1.5-.5 2 2 1 2 .5 2 0 .5 .5 0 2-.5 1.5-.5 .5 0 2 .5 0 2 1 2 .5 2 0 2-1.5 1.5-2 2-2 .5-1.5 .5-.5 .5-2 1-1 2 0 1 1 1 1.5 .5 .5 0 2-1 2 0 2 .5 1.5 .5 .5 1.5 1 2 0 1.5-1 .5-1.5 0-.5 1-2 1-.5 2 0 .5 .5 3 2 .5 .5 2 1.5 .5 0 2 2 3 2 .5 .5 2 1.5 2 2 .5 0 1.5 2 0 .5-.5 1.5-1.5 1-2 2-.5 1 .5 1.5 0 .5 2 2 2 1.5 1 .5 3 3 2 .5 1 .5 3.5 0 1.5-2 2-1.5 2-1 2-1.5 2-1 2-.5 4 0 1 1.5 1 4 0 .5 2 1.5 2-1 1.5-1 .5-.5 2-1 1.5-.5 .5-.5 1-1.5-1-1.5 0-.5-2-2-1.5-2-.5-2 .5-2 1.5-2 2 0 2 .5 .5-.5 0-2 1.5-6 0-2.5 2 0 2-2 .5-1.5 0-2 1.5-1.5 4-2 .5-.5 1.5-1 2-.5 2 0 1.5-.5 .5-.5 2-1 1.5-.5 .5-.5 4 0 2 .5 2 0 2 .5 2-1 1-1.5-1-1.5-.5-.5-1.5-1-1-1 1-2 2.5 0 1.5 1 2 .5 2-2 1-1.5 .5-2-2-2-.5-2 1-2 0-.5 1.5-1.5 1-2 0-2-.5-.5-2-.5-2-1-1.5-2 0-4 .5-2 0-2 1-1.5 2 1 .5 .5 1.5 1 2 .5 2-.5 1.5-1 1-2 1.5-1.5 4 0 1-.5 .5-2-1-2 0-2 1.5-1.5 2-.5 2 2 2 1.5 .5 .5 1.5 1 2 0 2-1 2 1.5 .5 .5 1.5 .5 2 0 4 2 2 .5 2 0 2 .5 4 0 2-.5 2 0 2 1 2 2 0 .5 .5 1.5-.5 2 1 4 1 1.5 .5 .5 1.5 2 0 .5 .5 1.5 1.5 2 2-2 0-2 2-.5 .5 .5 1.5 2 .5 2 2 2 1.5 1 .5 1-.5 2 .5 2 1 2 0 2-1.5 1.5-2 0-1.5-1.5-.5 0-2-1.5-1.5-.5-2.5 0-2 4 1 2 1 .5 2 1.5 1.5 2-.5 2 0 2 .5 2-.5 2 0 2 1 1 1.5 1 .5 .5 2 0 4 1 .5 .5 .5 2 1 2 0 .5 .5 1.5 1 4 .5 1.5 1-1.5 1-.5 .5-1.5 1.5-1 3-3 1-1.5 2-2 1.5-.5 .5 0 2 1 1 1 1 1.5 2 2 2 .5 .5 0 1.5 .5 2 .5 2-.5 .5-.5 1.5-.5 1-1.5 .5-2 0-2 .5-2 2-1 2 .5 1 .5 1 1.5 2 1 1.5-.5 .5 0 4-1 4 0 2-.5 0-.5 4-2 1.5-2 .5-2-1-2-1-1-.5-1 .5-2-.5-2-1.5-1 0-1-.5-2 .5-1 2-1 1 2 .5 2-1 2-.5 2 2 2 2 0 1-2 0-2 1-1.5 0-.5 1.5-2 .5-2-1.5-6 .5-2 3-1.5 2-2 2-1 2 0 2-1 .5-.5 1.5-.5 2-.5 6 0 2 1 2 .5 6 0 .5-.5 0-2-.5-.5-2-1-.5-.5-1.5-1-2-.5-2 0-.5-.5 2-4 2.5-2.5 2-.5 2 0 1-1 .5-2 0-4 .5-.5 2-1 2 0 2 2 2 0 2 1 .5 .5 3 2 .5 0 2 .5 4-2 1.5-.5 .5 0 2-1 2-.5 2 0 1.5-.5 2-2 0-4 .5-.5 2-.5 .5 1 0 2 1 2-.5 2-1 1.5 0 2.5 .5 0 1.5-.5 2 .5 2 2 .5 2 1 2 .5 .5 4 3 2.5 2.5 1.5 1 2 .5 4 0 2-1.5 1-2 0-2 1-1.5 .5-.5 1.5-.5 1.5 .5 .5 0 2 .5 2-.5 2 0 2 1 2 2 2 1 2 0 2 .5 2 1 2 0 2-.5 2 0 2 1 4 4 2 .5 2-.5 0 168-740 0 0-56 2-1 2-.5 8-4 2-.5 .5 0 1.5-.5 8-2 2-1.5 .5 0 1.5-1.5 1.5-.5 .5 0 6-1.5 2 0 2-.5 6 0 2-1 3-3 3-1.5 2.5-2.5 1-2 .5-.5 2-1.5 2-1 1.5-1 .5-.5 2-1.5 2-1 1.5-1 .5 0 2-1 2-.5 .5-.5 1.5-.5 2-.5 4-2 1.5-1 .5-.5 1-1.5 1-1 .5-1 1.5-2 0-.5 2-2 2 0 1.5 .5 1 0 1.5-2 .5-2 1-2 .5-.5 .5-1.5 1.5-2 2-2 2-1.5 2-2 2-1 4-3 6-3 2-1.5 2-2 2-1.5 .5-.5 1.5-1 1-1 1-.5 4-3 2-1 2-.5 4-2 7-7 1-.5 4-4 2-.5 4 0 2 .5 1.5 .5 .5 .5 2 1 1.5 .5 .5 .5 2-.5 2-2 1-2 1-1 2-.5 2 0 2-1 1.5-1.5 .5 0 2-1 2-.5 .5-.5 1.5-.5 2-1 1.5-.5 .5 0 6-1.5 2 0 1-.5 1-2-.5-2 0-2 2.5-2.5 2-.5 1.5-1 .5-.5 .5-1.5 1.5-2 2-1.5 2-1 2-.5 1-1 1-.5 2-2 2-1 1.5-.5 .5-.5 1-1.5-2-4 1-2 2-1 1.5-1 2-2 .5-2 0-2.5 .5-1.5 2-2 1.5-2 2-1.5 .5-.5 1.5-1 1-1 .5-2 0-2 1-2 1.5-1 1-1 1-1.5 .5-.5 1.5-2 4-4 1-2 1-1 1.5-1 .5-.5 4-3 4 0 2 .5 2 0 2-1 2-2 2-1.5 4 0 2-.5 2-1 1.5-1 1-2 .5-2ZM387 583l-2 1-1 2 .5 2 .5 1.5 0 1-.5 1.5-1.5 2-1 2 .5 2 .5 .5 2 .5 1.5-1 .5 0 2-2 1 0 0-2 1-1.5 0-.5 2-.5 3.5-3.5 0-2-1.5-1.5-1.5-.5-.5 0-2-1.5-2 0ZM461 697l-1 1-1 2 1.5 2 1 0 1.5-1 .5-1-.5-2ZM515 680l-.5 0-1.5 .5-4 3 0 1 1 1.5 1 1 4 1 4 0 .5-2 0-2-.5-.5-1-1.5-1-1-1.5-1ZM519 672l-1 2 1 1.5 2-.5 1-1-1-1-2-1ZM527 671.5l-2 .5 .5 2 1.5 .5 1.5-.5 0-2ZM597 629l-1.5 3 0 2 4 0 1.5-1 .5-1 0-2-.5-.5-2-.5ZM603 638.5l-.5 1.5 .5 .5 2 0 .5-.5-.5-2ZM609 678l-.5 2 .5 .5 2 1.5 2 0 1.5-2-.5-2-1-.5-2 0ZM387 653.5l-.5 .5-1 2 1 2-.5 2-1 2 0 2.5 .5 1.5 1.5 2-.5 2-1 2-.5 1.5 0 1 .5 1.5 1.5 2 .5 0 1.5 1 .5-1 1.5-2 .5-2 0-4-.5-1-1-1 0-4-.5-2-.5-1-1-1 0-2 1-1.5 .5-.5-.5-.5-1-1.5ZM393 595.5l-1.5 .5 0 2 1 2 .5 .5 2 0 0-.5 .5-2-.5-1-1-1ZM599 668l-.5 2 0 2 .5 .5 2 0 1-.5 .5-2-1.5-2ZM393 605.5l0 1 2 0 0-1.5ZM393 655.5l-.5 .5 0 2 .5 .5 1 1.5 4 2 .5 2-.5 2-2 2 0 2 1 1 1.5 1 .5 .5 1 1.5 1 1 1.5 1 .5 0 2 .5 2 0 .5-.5 0-2-.5-.5-2-1.5-1-2 0-2 1-1.5 0-.5 1.5-2-.5-2-1-1-.5-1-.5-2-1-2-2 .5-2 0-2-2-2 0ZM393 683.5l-1 .5-.5 2 .5 2 1 2 2 .5 1-.5-1-4 0-1-1-1ZM405 700l-1.5 2 .5 2 1 1 2 0 2-1 1-2-1-1.5-2-.5ZM504 632l1-.5 2 .5 1 2-1 2-2-1.5-1-.5ZM612.5 632l.5-.5 0 2ZM488.5 634l.5 0 2-1 2 0 1.5 1 .5 1 1 1 1 .5 2-.5 .5 0 1.5-.5 1 .5 1 4-1 4-1 2-2 1-4-1-4 0-1-2 .5-2-1-2-.5-.5-1-1.5-.5-2ZM517 644l0-.5 2-.5 1 1 0 2-1 1-1.5-1-.5-1.5ZM617.5 660l1.5-1.5 2 0 2 1.5-1 2-1 1.5-2 1-2 0-.5-.5 .5-2 0-.5ZM507 670l0-.5 .5 .5-.5 0Z"/>
<path fill="#ffc748" fill-rule="evenodd" d="M359 572l2-.5 2 .5 .5 0 3 4 .5 .5 4 0 .5 1.5 .5 2-1 1.5 0 .5-1.5 2-.5 2 .5 2 1 2-.5 2-1 1.5-1.5 .5-.5 .5-.5-.5-1-2-.5-.5-2 .5-.5 0 .5 .5 1 1.5 0 2-1 2-.5 2 .5 .5 .5 1.5 1.5 3 1 1 1 .5 2 0 4 2 1.5 1.5 0 2-1 2-.5 2 .5 2 0 2 .5 2-1 .5-2 0-2 1.5 0 2 1.5 2 .5 .5 3 1.5 1 1 1.5 1 .5 1 2 .5 1.5 .5-1.5 .5-.5 1.5 0 2-1.5 2-2 0-2 .5-2 1.5-1 2-1 1.5-.5 .5-.5 2 0 2 1 1.5 .5 .5 1.5 1 1 1 .5 2-1.5 2-2 1-3 3 0 2 1 1.5 .5 .5 1 2 0 2-1.5 2 0 .5-1.5 1.5-.5 1-1.5 1-.5 .5-1 1.5 .5 2 1 2 0 2-.5 1-1 1-1 1.5-2 .5-4 0-2 1.5-.5 .5-1 2-.5 .5-.5-.5-1.5-.5-1-1.5-1-4 0-.5-.5-1.5-1.5-1.5-4 0-2 1-.5 .5-.5 2 0 2-4 4-1 1.5-.5 .5-3 2-.5 .5-2 1.5-.5 0-1.5 2 1.5 2 .5 .5 4 1 1 .5 1 1 .5 1 0 2-.5 2-1 2-1 1.5 0 2.5 2 2 2 1 1.5 1 .5 .5 2 1.5 .5 0 1.5 .5 2 0 .5-.5 1-2-.5-2 0-2-.5-2 1.5-.5 2-1 1.5-.5 .5 0 4-1 1.5-1 1-2 1.5-2 2 .5 2 1 .5 .5 3 2 .5 .5 2 1 2-2 2-1 2 0 2 .5 1.5 1 .5 1 1.5 1 .5 .5 2 1.5 1 2 1 1.5 .5 .5 1.5 3 2 .5 1.5 .5 .5 0 2 .5 2 1 2-1.5 1-2 2-2 1-.5 2 0 1 .5 1 2-.5 2 0 2 .5 2 0 2-1 2 .5 2 .5 0 2 1 4-1 2-1 1.5-1 .5-1 1.5-1 .5-1 .5 1 1.5 1 .5 1 1.5 2 2 1.5 2 .5 4-1 2-1 .5 0 1.5-.5 2-1 .5-.5 1.5-1 2-1 .5 0 1.5-1.5 1-.5 1-1.5 1.5-.5 1 0 1.5 .5 2-.5 2-1 3-3 0-2 1-2 2 1 .5 1 .5 2 1 2 2 1 2 0 1.5-1 1-2 0-2 .5-2 1-.5 2.5 2.5 1.5 6 1.5 2 .5 0 2 .5 1-.5 1-1 1.5-1 .5-1 1-1 .5-2 .5-1.5 0-.5 2-2 1.5-2 .5-.5 2-.5 2 2 1.5 3 .5 2 0 .5 .5 1.5 1.5 1 2 1 .5 0 1.5 .5 2 .5 1.5 1 .5 0 2 1.5 2 1 2 .5 2 1 .5 0 1.5 1 1 1 5 2.5 2 .5 1.5-1 1-2 0-2 .5-2 1-1 1.5-1-1-2-.5 0-2-1-1.5-1-1-2-.5-2-1-1-2 0-2-1-2-2-2-1-1.5-1-.5-.5-.5-1.5 0-2 .5-.5 2-.5 2 .5 .5 .5 1.5 3 2 .5 2 0 2-.5 1-1-1-2 0-.5-1-1.5-.5-2 1.5-1 1.5-3 .5-.5 2-1 2 1 .5 .5 .5 2 0 2 1 1 2 0 .5-1-.5-1.5-.5-.5 0-2 .5 0 1-2 0-2-.5-2 3.5-3.5 1-.5 1-1 1.5-1 2.5 0 2 .5 1.5-.5 .5-.5 .5-1.5 0-2-.5-2 0-2 2-1 2 .5 4 0 2 1 1.5 1.5 .5 1 2 0 1.5-1 0-2 .5-1 0-1 2-4 0-.5 .5-1.5-.5-2 0-2-.5-2 .5-1.5 0-.5 1.5-2 .5-2 0-2-.5-2 0-2 .5-2-1-4 .5-2 .5-.5 1 .5 .5 2 0 2 .5 0 1 2 1 1 .5 1 .5 2 0 8 1 1.5 2 2 2 1 2 2 .5 1.5 0 2-.5 .5-2 3-1 .5-1 4 .5 2 1.5 .5 2 .5 1 1 1 .5 4 1 2-.5 1.5-1 .5-2-1-2-1-1.5-.5-.5 .5-.5 3-1.5 5 0 2 1.5 .5 .5-.5 2 .5 2 1.5 .5 2 .5 1 1 1 .5 1.5 1.5 .5 1.5 2.5 2.5 1.5 .5 2 1 1.5 .5 .5 .5 2-.5 4 0 2 .5 2-.5 1-2 1-1 1.5-1 4.5 0 2 1 2 2 4 1 4 0 2-.5 2-1 2 0 2 1 2 .5 .5-2 2-2 1.5-1 2 0 2-.5 1.5-.5 3 0 1.5 .5 2 .5 2 0 .5-1 0-2-1-2 .5-1 0-1 2-1 2-.5 2-1 2-.5 2 .5 4 0 4-1 4 0 4 1 2-1 .5-.5 1.5-1 1-1 0-2-1-1.5-2-2-1-.5 0-2 1-.5 1-1.5 .5-2 0-2 1-2 .5-2-1-1.5-2.5-2.5 0-4 .5-2 2-1 1.5 1 2.5 2.5 2 1 1.5 .5 .5 .5 2 0 1.5 1.5 .5 0 2 1 2-.5 .5-.5 1.5-1 4-1 6 0 2-1 1-1 1-2 2-2 2-1 2-.5 3 1.5 .5 2-3 6-.5 2 0 4-1 2-.5 2 0 2 1.5 2 2 1 4 0 6 1.5 2-.5 2-1 .5-1 .5-2-1-1.5-.5-.5-1.5-1-6-1.5-2-1-.5-.5 0-2 .5-.5 1-1.5 .5-2 0-4 .5-1 1-1 1-1.5 2 0 2 1.5 4 0 2-.5 4 0 2-.5 2 .5 1.5 .5 .5 .5 2-1 2-1.5 .5 0 1.5-1 1-1 1-1.5 .5-.5 .5-2 1-.5 1.5-1.5 .5 0 2-.5 4 0 1 .5 1 1 .5 1-.5 1.5 0 2.5 2 1.5 0 .5 2 1.5 2 0 2-.5 1.5-1 .5-.5 2-1 4 1 4 0 2-.5 1.5-1 .5 0 4-1 2-1 2-.5 2 0 2-.5 0 163-740 0 0-25 2-1 .5-2-.5-.5-2 0 0-21.5 2-1 1.5-1 .5 0 2-1.5 .5-.5 1.5-1 2-1 1 0 1-.5 2-.5 2-1 2-1.5 2-1 2-.5 2 0 2-.5 .5-.5 1.5-1 4-1 2 0 2 .5 2 0 2 1 2 .5 2 0 2 .5 2 1 2-1 0-.5 .5-2 0-2 1.5-2 2-1.5 1-.5 2-2 1-.5 2-2 4-3 2-2 2-1 2 0 2-.5 2-1 0-2 1.5-2 2.5 0 2-.5 2 .5 2 1 2 .5 3-1.5 1-1.5 .5-.5 1.5-2 2-2 1.5-2 .5-.5 2-1.5 4-2 2-2 0-.5 .5-1.5 0-2 1-2 .5 0 4-2 .5 0 1-2 0-4 .5-.5 2-.5 2 0 2-.5 2.5-2.5 1-4 2.5-2.5 2-1 4-4 1-.5 1-1 2-1 6-1.5 2-1 1-1.5 1-.5 1-1.5 1-1 .5-1 1.5-1.5 1-.5 1-1 2-1 2-1.5 1-.5 1 0 2-.5 2 1 1 1.5 1 1 .5 1 1.5 1.5 1.5 .5 .5 0 4 1 4 0 2-.5 1-.5 1-1.5 .5-.5 1.5-1 4-2 2-.5 1-.5 1-1 .5-1 1.5-1.5 2-1 2-.5 4 1 2-.5 .5-1.5 0-2 .5-2 1-1 1.5-1 .5-.5 2 .5 .5 0 1.5 .5 4-1 .5 .5 .5 2-.5 2-.5 .5-1 1.5-2 2-1 1.5-.5 .5-1 2-.5 .5-2 1.5-1 2 .5 2 .5 1.5 0 .5 2 2 .5 0 1.5 .5 2 .5 3 3 1 1.5 2-.5 2-1 2 1 2 2 2 .5 2 0 1.5 .5 .5 0 2 .5 .5-.5 1.5-1 1.5-3 .5-.5 1-1.5 1-2 0-.5 .5-1.5 1-4 .5-1.5 2 1.5 2 1 2 .5 1.5 .5 .5 0 2 2 2 1.5 2 0 1-1.5-2-2-1-.5-2-.5-1-1 0-4 1-1.5 2 1 0 .5 4 4 0 .5 3 1.5 0 2-1 2 1.5 2 .5 0 2 1.5 2 .5 2-.5 1.5-1.5 0-2-1-4 .5-2 1-1.5 .5-.5 1-4 0-2 .5-2-.5-2-1.5-2-2-1-1-1-1-4 0-2 .5-2 0-2-1-2-1.5-1.5-1-.5-.5-2 .5-2 1-1.5 0-2.5-2-.5-1 .5-.5 2 0 2-.5 2 1.5 2 0 4 .5 2 1.5 2-1 2-.5 .5-2 1.5-2 1-.5-1 0-2-1-2-3.5 0-1 .5-2-2 0-1 1-1.5 1-.5 2-3 .5-.5 1-2-1.5-1-2 0-2 1-2 .5-.5-.5-1.5-2-2-2-2-.5-1 .5-3 0 0-.5 .5-1.5 1.5-1 2-1 2-.5 1.5 .5 .5 0 2 2 2 1.5 2 0 2-1 .5-.5 .5-2-1-.5-2-2-1-1.5-.5-2 0-8 1-2 .5-.5 2-.5 1.5-1-1.5-1.5-2-.5-2 .5-1-.5-.5-2 0-2 1.5-2 2-.5 2-2 1-1.5 0-4 1-2 2-1 2 0 1 1 0 2-1 1.5-.5 .5 .5 .5 2 1 2-1 .5-.5 .5-2 2-4 1-1.5 1-.5 1-1 .5-1 .5-2 1-1 2-.5 2 0 2-.5 2 0 2-1.5 .5-.5ZM359 610l-.5 0 .5 0ZM361 611.5l-.5 .5 1 0ZM521 710l-.5 0 .5 1 2 .5 .5-1.5-.5-.5ZM587 689.5l-.5 .5-1 2 .5 2 1 1.5 1.5 .5 .5 0 1.5-2-.5-2-1-2ZM617 711l0 1 .5 0ZM619 710l-1.5 0 1.5 1 .5-1ZM691 680.5l-1.5 1.5-.5 0-1 2-2 2-1 1.5-2 2-2 0-2-.5-2 1 0 2 .5 2 0 2 1.5 3 2 2 1.5 1 .5 .5 2 .5 2 2 2 1 2-1 2 0 1 1 1 2-.5 2 0 2 .5 2 3.5 0 .5-.5 4 0 4 1 2 0 2 .5 4-1-2-2-1-2-1-4 0-2 2-1.5 1.5-.5 1 0 1.5 .5 1 1.5 1 .5 2 .5 2-.5 .5-.5-.5-2 0-.5-1.5-1.5-2.5 0-2-.5-.5-1.5-.5-2-1-2 0-.5-.5-1.5 .5-.5 .5-1.5 .5-2 0-2-1-1-2 0-2.5 5-1.5 1.5-2 1-1.5-.5-.5-2-1-2-1-1.5-.5-.5 0-2-.5-2-1-1-2 .5-4 2-2-.5-1-1ZM715 664.5l-2 1.5-1.5 2-.5 0-1 2-.5 2 1.5 3 2 .5 2-1.5 0-.5 1-1.5 .5-2 1-2 0-2-.5-1ZM761 659.5l-4 1-2 0-1 1.5 1 1.5 0 .5 .5 2 0 2-.5 1.5 0 .5-1 2-1 1.5-.5 .5 .5 2 2 4 0 .5 2 1 2-1 .5-.5 1.5-1 1-1 1-1.5 .5-.5 1.5-2 0-.5 1-1.5 1-.5 2 0 2 .5 2-1.5 .5-.5 .5-2-1-1.5-.5-.5-3-2-.5-.5-2-1.5-2 0-1.5-2-.5-.5ZM303 693.5l-1.5 .5 2 0ZM313 681.5l-1.5 .5-.5 2 2 2 2 1.5 2-.5 1-1 .5-2 0-2-1.5-1.5-2 .5ZM321 697.5l0 1 2 0 .5-.5-.5-.5ZM347 597.5l-2 1-1 1.5 .5 2 0 2 .5 2-1 2-1 1-2 .5-2 0-2-1-1.5-.5-.5-.5-1 .5 .5 2 0 2-.5 2 0 2 1 2 2 1.5 2 .5 2-.5 2 0 4-1 .5-.5 3-2 .5-.5 1-1.5 0-2-1.5-6 0-4-1-4-.5-.5ZM313 706.5l-1 1.5 0 2 1 1.5 .5 .5 .5 2 0 4 1 1.5 .5 .5 1.5 .5 2 0 1-.5 1-1 .5-1 .5-2-.5-2-.5-1.5-4-4 0-.5-2-1.5ZM347 633l-1 1 1 1 .5-1ZM387 610l.5 2-.5 0ZM314.5 614l.5-.5 2-.5 1 1-.5 2-.5 .5-1.5-.5-.5-.5ZM744.5 632l.5 0 2-.5 .5 .5 .5 2-1 .5-1-.5-1-1.5ZM564.5 642l.5-.5 2-1 4 0 2 1.5 2 2-1 2-1 0-2 .5-2-.5-.5 0-1.5-1-2-1ZM311 650l0-.5 2 .5-2 0ZM292 656l1-1 2-.5 1.5 1.5-1.5 2-.5 0-1.5-.5ZM314.5 658l.5-1 1.5 1-1.5 1ZM584 664l2 0 1 .5 2 .5 1 1-1 .5-2 .5-1.5 1-.5 .5-2 0-.5-.5 0-2 .5-1.5ZM552.5 666l.5-1.5 .5 1.5-.5 .5ZM360 692l1-1 .5 1 0 2-.5 .5-.5-.5ZM705 694l0-.5 0 2.5ZM349 698l2-.5 .5 .5 0 2-1.5 0-1-1ZM438 698l1.5 0-.5 .5ZM421.5 702l1.5-.5 2 .5 2 2 .5 2-.5 .5-2 .5-4-1 0-.5-.5-1.5 .5-1.5ZM445 702ZM388.5 706l.5-.5 2-1 1.5 1.5-1 4-.5 1-1 1-1 .5-1-.5-1-1-.5-1 1-2ZM491 708l0-.5 2 0 .5 .5-2.5 0Z"/>
<path fill="#ffb838" fill-rule="evenodd" d="M357 638l0-.5 2-1.5 2 0 2 2 1.5 2 0 2-1.5 1-2 .5-2-.5-1-1-1-2 0-1ZM770 652l1-.5 2 .5-2 2ZM791.5 660l1.5-.5 2 .5 2 2 1.5 2-1.5 3-1.5 1 2 2 1.5 .5 4 0 1.5-.5 .5 0 4-1 2-1 .5 0 2-2 .5-2 1-2 2-2 2-1.5 0 12.5-1.5-1-.5-.5-1.5 .5-.5 0-2 2-4 2 .5 2 2 2 1.5 1 2-.5 .5-.5 1.5-2 2-1 0 129-740 0 0-11.5 2 .5 2 1 2-1 .5-1 1.5-1 2-1 2 0 2-2 1.5-2 .5-.5 4-3 .5-.5 2-4 1-4-.5-2-3-1.5-.5-.5-1.5-.5-2 0-4 1-2 0-2-.5-1-2 .5-2 0-2-1-4 0-2 1-2 .5 0 2-1.5 1.5-.5 .5 0 2-1 1-1 1-.5 1-1.5 1-1 2-1 .5 0 1.5-.5 4 0 4-2 2 .5 4-1 2 .5 4 2 4 0 4 1 2-.5 2-2 1-2 .5-2 .5-1 1-1 1-.5 2-2 2-1 2-.5 2 .5 2 0 2-.5 2-4 0-.5 2-1 8 0 2-.5 2-2 1-2 1-1.5 .5-.5 1.5-1 2-1 .5 0 1.5-.5 2-1 1.5-.5 2-2 2.5-5 2-2 1.5-1 .5-.5 1-1.5 2-4 1-1.5 .5-.5 1.5-.5 2-1.5 2-1 1-1 1-.5 2-1.5 1.5-2 2.5-2.5 2-.5 2-1 2-4 0-.5 .5-1.5 1-2 4-4 .5 0 2-1.5 2-.5 2 .5 4 0 1-.5 2-2 1-1.5 0-.5 .5-2-.5-2 2-1.5 2 0 2-1 2-.5 2 0 1.5 1 .5 0 2 1.5 1 .5 3 3 4 1 0 2-1.5 2-.5 2 1.5 2 .5 .5 2 0 1-.5 0-4 1-1.5 1-.5 1 0 2-.5 4 0 .5 .5 3 2 .5 1 2 .5 .5-1.5 .5-2 1-1 1.5-1 .5 0 2-1 2 0 1 1 1 2 2 1.5 2 .5 2 0 2 2 0 .5 2 3 .5 .5 1.5 2 1 2 0 2-1 1-2 .5-.5 .5-.5 2 .5 2 .5 .5 2 .5 2 1 0 2.5-.5 1.5-1.5 1.5-1 .5-1 1-1.5 1-.5 1.5-.5 .5-.5 2 1 1.5 0 .5 2 1.5 2 .5 2 1.5 0 1-1 1.5-1 1-2 1-.5 0-1.5 1.5 0 .5-2 1.5 0 .5-2 1.5-1.5 .5-.5 .5-.5-.5-1.5-3-1-1-1-.5-2 0-2 1-2 0-2 1 0 .5-1 2 0 2 1 4 0 .5 1 1.5 .5 2-1.5 3 0 3.5 1 1.5 1 .5 1-.5 1-1.5 .5-.5 .5-2 0-2-1-2 .5-2 3-2 .5-.5 2 .5 0 6 .5 2 1 2 .5 .5 3 1.5 1 0 2 .5 2 0 1.5-.5 .5 0 2-1 2 .5 .5 .5 1.5 2 2 2-.5 2 1 2 1.5 1.5 2 .5 1-2-.5-2-.5-.5-2-1.5-1.5-2 1-2 2.5-2.5 1 .5 1 1.5 0 2.5 .5 2 1.5 2 .5 0 1.5 1 2 .5 2 0 2-2 2-3 2.5-2.5 1.5-2 2-1.5 1.5-.5 .5 0 2-1.5 .5-.5 1-2 0-2 .5-1.5 2 .5 2 1 4-1 2 0 2 .5 2 0 4-1 2-2 2-1 4 2 .5 .5 1.5 .5 6 0 2 1 .5 .5 1.5 1 2 0 2 .5 .5 .5 1.5 2 0 1 .5 1 2 2 1.5 1 2 1 .5 0 3.5 3.5 1 .5 1 1 2 .5 .5-1.5 0-2-2-4 3.5 0 6-1.5 2 0 3 1.5 0 2 .5 2 .5 0 2 .5 1.5-.5 .5 0 6-1.5 1.5-.5 .5 0 2-.5 4 0 2 .5 4 0 2 .5 4 0 2-.5 1.5-2 .5-.5 2-.5 2-1 .5 0 1-2 0-2 .5-1.5 2 0 2 .5 4 0 2-.5 2-1 2-.5 2 0 2-.5 1-.5 1.5 0 2 2 1 4 0 2 .5 1 2 1 2-.5 2 0 2-.5 2-1 4 0 4 1 2 1 .5 0 1.5 .5 1.5 1.5 .5 2 2 1 2-1 1-2 1-1.5 1.5-.5 1 0 1.5 .5 2 1 6-1.5 1 2-1 1-.5 1 0 2 .5 .5 1 1.5 1 .5 2 .5 2 1 2.5 0 1.5-.5 1-1.5 .5-2 0-2 .5-.5 2-3 .5-.5 .5-2 1-2 2-1.5 1.5-.5 .5-.5 2 0 4-1 1.5-.5 .5-.5 2-1 .5-.5 1.5-.5 2 0 2-.5 4 0 6-1.5 2-1.5 1-2-1-1.5-1-.5-.5-2 1.5 0 2-2 1-2 0-2-.5-2 0-2 1.5-3 1.5-1 .5-.5 2 0 2-1 .5-.5 1.5-1 2 0 1.5 3-.5 2 1 1.5 2-1 0-.5 1.5-2 .5-.5 2-1.5 .5 0 1.5-.5 4-1 2-1 2 0 1.5 .5-.5 2 0 2 .5 2 .5 .5 2 .5 2 0 4 1 2-2 2-1 1.5 1 .5 2-.5 2 0 2-.5 2-1 2-.5 2 0 2 .5 1 2 2 4 0 1.5 1 .5 .5 2 1.5 2 .5 2 0 2 1.5 0 2 .5 2 0 4 1.5 2 2-.5 2 0 2 .5 2 0 2-1.5 .5-.5 3-4 .5-2 0-2-1-2-1-1.5 0-.5-.5-2 .5-1 0-1 1-4 1-1 2-.5 4 0 2-1 2-2 2-1.5 1.5-2 .5-1 2 0 1.5 1 .5 .5 4 1 .5 .5 1.5 .5 2 2 2 1.5 2 .5 .5-.5 1.5-2 0-.5 2-2 4 0 2 2 1 .5 1 1 .5-1-.5-2 0-.5-.5-1.5-1-2 .5-2 1-.5 1 .5 3 3 2 1 .5 0 1.5 .5 2 1.5 .5 0 2 2 2 4 .5 2-1 2-1.5 2-1 2 .5 1.5 .5 .5 1.5 .5 2 1.5 2 1 4 1 1.5 2 .5 .5 2 1.5 2.5 0 1.5-1 .5-1 1.5-2 2-1.5 .5-.5 1-2 .5-1.5 0-.5 1.5-2 .5-.5 2-.5 4 1 2-1.5 1-.5 1-1 .5-1 .5-2 1-1.5 .5-.5 1.5-.5 4 0 4-1 1.5-.5 2.5 0 2 .5 .5-.5 1.5-1 1-1 1-2-2-4 0-6 1.5-2 2.5 0 2 1 2 .5 2-1 .5-.5 1.5-2 2-1.5 .5-.5 1.5-.5 2-.5 1 1 1 1.5 2 .5 2-1.5 .5-.5 1.5-2 2-1 2 0 2-1 .5-2 1-2 .5-.5 2-.5 6 1.5 2-.5 1-2 1-4 0-2 1-2 .5-2 1-2 0-2-.5-.5-3-1.5-1-2 .5-2 1-2 .5-.5 2-1.5ZM225 713.5l-2 1-1 1.5 .5 2 0 4 .5 2-1 2-.5 2 0 2 1 2 2 2 .5 1 1 1 0 2 1 1.5 1.5 .5 2.5 0 1.5-2-1-2-2-2-1-2-.5-2 0-6 1-.5 4-1 1-.5 0-2-1-2-2-1.5-2-1-2-1.5-.5 0ZM235 742l-.5 0 .5 .5 0-.5ZM237 716l-.5 0-.5 2 1 1.5 0 .5 2 1.5 .5 .5 1.5 .5 2 1.5 1 2 0 2-.5 2-.5 0-2 2-1.5 2-1 2 .5 1.5 2 0 2-1.5 1.5-2 .5-1.5 2-2 2 0 1.5-.5 .5 0 2-1.5 1-.5 .5-2-1.5-1-3-3-1-4 0-.5-1-1.5-1-.5-4 0-2-.5-2 0ZM265 716l-2 .5-2 3-.5 .5-1.5 1-2 1-.5 2 .5 1.5 2-.5 2-2 1.5-1 .5-1 1.5-1 2-2-1-2ZM271 712l-2 1.5-.5 .5-1.5 2 1 2 1.5 0 1.5-.5 2-3 .5-.5-.5-.5-2-1.5ZM639 732l2 1 .5-1-.5-1ZM567.5 698l1.5-.5 1 .5-1 2 0 .5-.5-.5ZM591 702l2-1 1.5 1-1.5 .5ZM543 706l.5 2-.5 .5-.5-.5ZM659 708l2-.5 0 .5-2 0ZM224.5 722l.5 0ZM289 724l2 0 1 2-1 1.5-2-1.5ZM380.5 734l.5-.5 2 0 1 .5 1 1.5 0 .5 .5 2-.5 2-2-1-1.5-1-.5-.5-.5-1.5Z"/>
<path fill="#ffa828" fill-rule="evenodd" d="M231.5 678l1.5-.5 2 0 1 .5 .5 2-1.5 3-1 1 1 .5 .5 1.5 1 2 .5 .5 .5 1.5 1 2 .5 1.5 0 .5 1 2 1 1.5 0 1-4-1-1.5 .5-.5 0-2 1.5-.5 .5-3 2-.5 0-2 1.5-.5 .5-1.5 .5-1.5-.5-.5-1-1-1 1-1.5 1-.5 1-2-2-.5-1 .5-.5 2-1 0-1.5-.5-1-1.5-.5-2 .5-2 0-2 1-4 1.5-2 .5-.5 2-.5 2 0 2-.5 2 0 1.5-.5 0-4 .5-1.5ZM260 688l3-1.5 2-.5 2 2 .5 2 0 2-1 2-1.5 2 0 .5-2 1-2-2-.5-1.5-1-4ZM805.5 696l1.5-1 2-.5 2 0 4 2 2 1.5 2 .5 0 105.5-583.5 0-.5-1.5-.5-.5-1.5-.5-2-.5-4 1-2 1.5-.5 .5-122.5 0 1-.5 1.5-1.5 .5 0 2-1.5 1-.5 2-2 1-2 0-2.5-.5 .5-1.5 1-1.5-1-.5-1 0-1.5 1.5-1.5 1-2 1.5-1.5 1-.5 1 0 2-.5 4 1 2 0 2-.5 .5 0 .5-2 0-2 .5-2 .5-1 2 0 2 .5 2 0 2-1 .5-.5 0-2-1-2 0-2 .5-2 0-4-.5 0 .5 0 .5-2 1-2 .5-2 0-.5 .5-1.5 1.5-1 2 0 2 1 2 1.5 4 2 2 .5 2-1 .5-1 0-2 .5-2 1-1 1 1 1 .5 1 1.5 1 .5 4 1 2 0 1.5 .5 2.5 0 2-.5 2-1 .5-.5-1-2-1.5-2 0-2 1.5-2-1-2-.5-.5-1-1.5-1-4 0-.5-.5-1.5-.5-2 1-1 2-.5 2 0 .5-.5 1.5-3 0-1 .5-2 1.5-1.5 2-.5 2 0 4-1 2 .5 2-1 .5-.5 3-2 2-2 0-8 .5-.5 4-2 2 0 2 1 2 .5 2 0 1.5-1 2-2 2-4 2.5-2.5 2-1 1.5 1.5 .5 1.5 0 4.5-1 4-1 2 0 .5-1 1.5-.5 2-.5 1.5 0 .5-1 2-1 1.5 0 .5-1 2-1 1-2 0-.5-1-3.5-3.5-2-.5-2 1.5-.5 .5-1 2 1 4 .5 1.5 2 2 2-1 1.5-.5 .5 0 .5 2 0 2-.5 2 0 .5-.5 1.5-1 2-.5 .5-1 1.5 0 2 2 2 1 1.5 1 .5-1 2 .5 2 1.5 .5 2-.5 0-.5 2-.5 4 1 2-.5 2 0 1.5 .5 2 2 .5 2-.5 2-1.5 2 2 1 2 0 1.5-1 .5-.5 .5-1.5 1-2 .5-.5 2-3 2 .5 .5 1 2 2 1.5 2 .5 0 1.5 2 1 0 1 .5 4-2 2-.5 2-1 1.5-1 .5-.5 2-1 2 0 1 1.5 0 2 1 2 0 .5 .5 1.5 0 2 1.5 2 .5 0 1.5 .5 2 1.5 8 2 2-2 0-2-1.5-2-.5-.5-2-.5 0-1 2-.5 4 0 2-.5 2-1 .5 0 1.5-1.5 1-.5-2-2-1-.5-1-1.5-2-2 0-2 1-.5 2-.5 2 0 2 1 1.5 2 .5 2 2 2 .5 0 1.5 .5 2 0 2 1.5-1 2-.5 2 1 2-1.5 1.5 0 .5-.5 2 .5 .5 2-.5 .5-2 1.5-1.5 2-.5 2 0 1.5 2 2.5 2.5 2 .5 2 0 2-.5 2 0 2-.5 1-2 .5-2 2-4 .5-2 0-.5 2-1.5 2 .5 2-.5 .5 0 1.5-2 0-2-.5-2 .5-1 2-1 2 2 4 2 .5 0 1.5 .5 4 0 1-.5 1 0 2-1.5 .5-.5 1.5-2 2-1 1 1 1 1.5 0 .5 1 2 0 4 .5 2 .5 .5 2 .5 1.5-1 .5-1.5 0-3.5 1-1 1 0 2 1.5 2 1 .5-.5 1.5-1 2-1 6 0 2-1 2-.5 2 .5 1.5 1 .5 .5 2 1.5 0 2-1 2-1 1-.5 1 .5 1.5 2-1.5 4-4 6-1.5 .5-.5 1.5-2 2-1.5 2-1 2-1.5 2-2 2 0 2 1 1.5 1 .5 .5 4 1 2 1 2 .5 2 1 2-1 1-1-1-2 2-1 .5 1 0 2 1.5 1 4 0 2 1 1 2 1 1 2 1 1.5-2 .5 0 2-1.5 2-1 2-.5 1.5-1 .5-.5 2-1 2 1 2 2 2 1 .5-.5 1.5-.5 2-1 .5-.5 1.5-1 2-2 1.5-1-1.5-2 0-.5-1-1.5 1-.5 2 0 1 .5 1 1 1.5 1 .5 .5 1 1.5 3 3 2 .5 2 0 .5 .5 1 2 .5 .5 1 1.5 3 1.5 2-1 .5-.5 1-2 .5-1.5 .5-.5 1.5-1 2-.5 6 0 1 1.5 0 2-1 4 2 .5 2 0 2 .5 4 0 2 .5 .5 .5 1.5 1 4 2 2-.5 .5-.5 1.5-1 2-1 .5 0 2-2-.5-2 .5-2 3-4 1-4 1-2 .5-.5 2-1 2 0 2-1 1-1.5 2-2 1-.5 2 .5 2 1.5 1.5 .5 .5 0 2 1 1 1 4 2 1 1 1.5 1 .5 2-2 1.5-.5 .5 .5 .5 2-.5 0-2 .5-2 1.5-2 2-1.5 1-.5 1-1 .5-1 .5-2 1-2 0-.5 .5-1.5 1-4 4-8 .5-2 0-.5 .5-1.5 2-2 1.5-.5 2-.5 2 0 2 1 2 .5 1-.5 1-1.5 0-.5 .5-2 1.5-3 2 0 1.5 1 .5 .5 2 1.5 0 .5 1 1.5 0 2-1 2 .5 2 1 2 .5 2 2 4 2 1 2 0 1.5 1 1 2 2 2 1.5 2 .5 2 2 4 .5 2 1 1 1.5 1 .5 0 2 1.5 .5 .5 1.5 1 1 1 0 2 .5 2 .5 .5 2 .5 2-1 .5 0 1.5-1 2 1 0 .5 2 0 .5-.5 1.5-2 0-.5 .5-1.5 1.5-2 2-1 2 0 1.5-1 .5-.5 2-1.5 4-2 0-2 .5-2 1.5-.5 1 .5 1 1 .5 1 1.5 1 2 .5 2-.5 1-1 .5-2 0-2-1.5-1.5 0-.5-.5-2 .5-1.5 0-.5 2-1 1 1 1 1.5 0 4.5 1.5 2 2 4 .5 .5 4 0 2 3 0 .5 1 2 1 1.5 1 .5 1 2 0 .5-.5 1.5-.5 2 1 4 2 .5 .5-.5 1.5-1 2-1 2-2 0-.5 .5-1.5-.5-1.5 0-1 1-1.5 1-.5 1-1.5 0-2-1-1.5-.5-.5-1.5-1-2-1-1.5-2-.5-.5-4-3-.5-.5 .5-1 2-1 4 1 2 1 2 2 2 1 4 1 2-.5 4 0 2-1 4 0 2-.5 2 0 2 1.5 1.5 .5 .5 .5 2 .5 4 2 2-.5 .5-.5 1.5-1 1-1 1-1.5 2.5-2.5 1.5-2-.5-2-1-2 1.5-.5 6 0 2 .5 .5 0 1 2-1 2 0 2 2 2 1.5 1 2 .5 4 0 2 .5 2-.5 4 0 .5 .5 1 2-1 2-.5 .5-2 .5-1.5 1-.5 1 0 2 1.5 1 .5 0 2-.5 2 0 2-.5 2-1 0-.5 1-1.5 1-2 .5-2 1-2 .5-2 1-2 1-1 .5-1 1.5-2-1.5-2-.5-.5-1-1.5-1-2-.5 0-1.5 .5-2 3-.5 .5-1 2-.5 .5-1-.5-1-2 .5-2 0-4 1.5-2 2-1 2-.5 0-.5 2-2 0-6 1-2 .5-2 .5-1 2-1 2 0 4-2 .5 0 1.5-.5 2-.5 2-1 2 0 2 1 1.5 1 2.5 0 1.5-2 0-4 .5-1 1.5-1 .5 0 2-.5 2 0 2 1 8-2 8 0ZM173 749l-1.5 1 1.5 2 2 2 2-.5 2-1.5 0-2-2-1.5-2-.5ZM225 770l-1.5 2-2 2-.5 1.5-.5 .5-1 2 1 4 0 2 .5 .5 2 1 2 .5 2-.5 2-1 2 .5 1.5 1 .5 .5 2-.5 .5-2-.5-1.5 0-.5-1.5-6-.5-.5-2-.5-.5-1-1.5-2 0-.5-.5-1.5-1.5-2ZM241 767l-1.5 1-.5 0-2 2 0 .5 1 1.5 3 0 2-2 0-.5 .5-1.5-.5-1ZM265 782.5l-1 1.5 1.5 0ZM271 797.5l-.5 .5 .5 1.5 1-1.5ZM333 769l-1 1 1 .5 .5-.5ZM463 755.5l0 .5-2 2-.5 0-1 2 1.5 1.5 2 0 2-.5 2-1 1-2 0-2-1-1-2-.5ZM541 751.5l-.5 .5 .5 1 1-1ZM571 725.5l-.5 .5-.5 2 1 1.5 1.5-1.5 .5-2ZM755 749.5l-1 .5-1 2 .5 2 1.5 2 1.5-2 .5-.5 0-2.5-1-1ZM251 698l0-.5 0 .5ZM772 698l1-.5 1 .5-1 1.5ZM259.5 700l1.5-1.5 1.5 1.5 .5 2-1 2-1 1-2 1-2-.5-1-1.5 1-1 .5-1 1.5-1.5ZM684 736l1-1 2 .5 .5 .5-.5 2-2-.5ZM260.5 740l.5-.5 2-1 1 1.5-1 1-2-.5ZM221 746l1 2-1 1.5-1-1.5ZM94.5 758l.5-.5 2-1 2 0 .5 1.5 0 2-.5 .5-2 1-2-.5-2-1ZM118.5 760l.5-.5 2 .5 2 1.5 .5 .5 0 2-.5 .5-2 1-2.5 2.5-1.5 1-2-.5-1.5-.5-.5 0-2-1-2-.5-1-.5-.5-2 1-2 .5-1.5 2 0 .5 1.5 1.5 1.5 2 .5 2-2 0-.5ZM127 764l2-.5 1 .5 0 2-2 0-1-2Z"/>
<path fill="#ff9818" fill-rule="evenodd" d="M805.5 702l1.5-.5 4-1 2 1 .5 .5 1.5 2 2 .5 2 0 0 41.5-2 0-4-4-.5 0-1.5-.5-1.5 .5-.5 0-2 1.5-1 .5-1 2 1.5 2 .5 .5 2 .5 1.5 1 .5 .5 2 1.5 .5 0 1.5 .5 2 0 2 .5 0 30.5-1.5 .5-.5 1.5 0 .5 1.5 2 .5 0 0 16-114.5 0-1-2-.5-.5-2 0-1.5 .5-.5 .5-1 1.5-45.5 0-.5-2-1-2-.5-2 0-2 .5-2 2-1.5 2-.5 2 .5 2 1 1.5 .5 2.5 0 2-1.5 .5-.5 1-2 .5-.5 2-1 4 2 6 1.5 4 0 1.5-2-.5-2-1-1-1.5-3 .5-2 1-1.5 1-.5 1-2 0-2.5 2-2 2-1.5 2-2 1.5-2 .5-2-1-2-1-1.5-.5-.5-1.5-2-1-2 0-2 1-1.5 2 0 2 1 1.5 .5 .5 .5 4 3 2 .5 1.5-2 0-2-.5-2 2-2 1-.5 2-.5 8 0 2 1-.5 2-1.5 2 0 .5-1 1.5-1 2 0 2.5-.5 1.5-1.5 1.5-1 .5-.5 2 1.5 .5 4 1 4 0 1.5 .5 .5 .5 2 0 .5-.5-.5-.5-2 0-.5-1.5 .5-1.5 .5-.5 1.5-.5 1.5 .5 .5 .5 .5-.5 .5-2-.5-2-.5-1.5-.5-.5-.5-2 0-2 1-2 2-2 2-1 2 .5 1 .5-.5 2 .5 2 1 2 0 .5 1 1.5 1 2 0 1 1 1 1 .5 2-1 2 .5 6 6 2-.5 2 0 2 1 1.5 1.5 .5 1 1 1 1 2 2 1.5 2 0 2-.5 1.5-1 2-2 0-2-1-2-.5-1.5 0-.5 2-1.5 2 0 2-.5 2 0 2-1 1-1 1-1.5 .5-.5 1-4 0-2 .5-1.5 0-.5 .5-2 0-2-1.5 0-1 .5-2 0-2-.5-2-1.5-.5-.5 0-2-.5-2-3-1.5-.5-.5-1.5-1-1-1 2-2 3-1.5 2 .5 1 1 .5 2 0 2 .5 .5 .5-.5 1.5-2 0-.5 .5-1.5 1-4 0-2-1.5-1-4 0-2-.5-2-2 0-3 2-1.5 2-.5 2-1 .5-.5-.5-.5-1-1.5-.5-2 3.5 0 2-.5 2 0 6 3 .5-.5 1-2 .5-.5 2-1.5 4-2 .5 0 1.5-2 .5-2 1.5-2 0-.5 1.5-1.5 .5-1 2-2 4-1ZM815 757l-1 1 0 2-1 1.5 0 .5-.5 2 .5 1 2 0 1-1 .5-2 0-2-1-2ZM693 789.5l-.5 .5 .5 2 2 .5 1-.5-1-2ZM755 779.5l-1 .5-1 1-2 .5-.5 .5 .5 .5 2 .5 2-.5 2.5-2.5-.5-.5ZM785 729.5l-.5 .5 .5 2 .5-2ZM183 738l.5 0 1.5 .5 .5 1.5-.5 .5-2-.5ZM586.5 738l.5-.5 1 .5-1 .5ZM575 742l2-1.5 2 2 4 1 .5 .5 1 4 2.5 2.5 1 1.5 1 2 2 1.5 2.5 2.5 1.5 1 2 1 2 1.5 4 1 4-2 2 .5 2 2 1.5 3 .5 2 2 1.5 2-.5 2 0 2 1 .5 0 1 2 .5 2-.5 2 0 2 .5 1.5 2 1 2 .5 2 1 0 2-.5 2 .5 1 2 .5 2 1 2 1.5 .5 0 1.5 1 2 .5 .5 .5 1.5 2-.5 2-1 2 0 2 3 2 .5 .5 2 1 .5 .5-171.5 0-.5-2-.5-1-2-.5-1 1.5-1 2-2.5 0-1.5-1-2-2-2 1-.5 2-12 0 .5-1 1-1 1-.5 1-1.5 1-4 1.5-2 1 0 1.5 .5 1 1.5 2 2 1 1.5 2-1.5 1-2 .5-2 0-2-1.5-3-1.5-1 1.5-1 6-3 1-2 .5-2 0-2 .5-1.5 0-.5 2-2 1.5-2 0-4 .5-.5 2-1 2 1 .5 .5 0 2 1 2 4.5 4.5 1-.5 .5-2 .5-1 1-1 1 0 4-4 2 0 2 2 .5 0 1.5 .5 2 1 .5 .5 1.5 2 2 2 0 .5 1 1.5 .5 2 .5 1 2-.5 .5-.5 .5-2 0-2 1-2 4 0 2 .5 2 1 2 0 2-1 0-.5 1-2 .5-2 0-2 .5-2 1.5-2 .5-1 4-2 2-.5 2 .5 2 1 2-.5 2 0 2 1 1.5 1.5 .5 1.5 2 0 2-.5 4 1 2 0 1.5-2 .5-1 2-.5 4 1 2-1.5 1.5-2 .5-.5 1-1.5 1-2 0-4-1-2-1-1.5 0-1 2-2 2 0 1.5-1.5 .5 0ZM591 759.5l-1.5 .5-.5 .5-.5 1.5 .5 1.5 .5 .5 1.5 .5 .5-.5 .5-2-.5-2ZM545 786.5l-2 1.5-1 2-2 2-1 2 .5 2 1.5 1 2 .5 2 0 2-1.5 0-3-.5-1-.5-2 0-2ZM188.5 762l.5-1 2-.5 1 1.5 1 2-.5 2-1 2 0 2 1.5 2 0 .5 1.5 1.5 .5 1 2 .5 .5 .5-.5 .5-2-.5-.5 0-1.5-.5-2 1-2 .5-1.5 1 1.5 3 1.5 1 .5 0 2 .5 2 0 2 2 2 .5 2-.5 4 3 2 0 2.5 2.5 0 2-.5 .5-4 1-2 0-.5 .5-.5 2 1 .5 1 1.5 3 1.5 2 .5 .5 0 1.5 .5 2 2 1 1.5-98 0 0-4 1-2 1.5-2 .5-1 1.5-1 .5 0 2-1 1.5-1 .5-.5 2-.5 2 .5 0 .5 2 1.5 2 .5 4 0 2 .5 3 1.5 1 1 2 1 0 .5 2 1.5 0 1 0-4-.5-1 0-2 .5-2-1-2-2-2-1-1.5-.5-.5 0-2 .5-2 0-2 .5-2 1.5-2 2-1.5 2 .5 1.5 1 .5 .5 2 0 .5-.5 1.5-1 2 1 0 2-.5 2 0 4 .5 .5 4 0 2-.5 .5 0 0-2-.5-1.5 0-.5-.5-2 0-6 .5-.5 1-1.5 1-1 .5-1 1.5-2 .5 0 1.5-.5 4 0 4 2 2-.5 1.5-1 .5 0 4-1 1.5-1 .5-.5ZM183 774l1.5 2 .5 .5 2 .5 .5-1-.5-.5-1-1.5-1-1ZM200.5 764l.5 0 2-.5 2 .5-2 1-2-.5ZM650.5 766l.5-.5 1.5 .5-1.5 2ZM389.5 768l1.5-1 2 0 .5 1 .5 2 1 2 0 2-2 2 0 .5-1.5 1.5 .5 2 1 2 0 2.5-2 1-.5 .5-2 4 .5 1 2-.5 2 0 2 .5 1.5 1 2.5 0 2-1 2-.5 4 0 2-.5 1 0 1-.5 2 1 2 .5 2 1 2 0 2-1 2 0 1.5 3 0 2-1 2 1.5 1 .5 1 1.5 1 2 2 .5 1-64 0 0-2-.5-1-2-1-4-1-1.5 1-.5 .5-1 1.5-1 2-4 0-1.5-2-2.5-2.5-1-1.5 0-2 1-.5 2-.5 2 0 2-.5 1.5-.5 0-2-1.5-1-2-.5-4 1-2-.5-1.5-1-.5-.5-2-.5-4 0-2-.5-.5-.5 .5-2 0-.5 .5-1.5 1-2 .5-.5 4 0 2 .5 2-1 1-1 1-1.5 0-.5 2-1.5 6-3 2-3 1.5-.5 1 0 1.5 1 .5 1 1.5 1.5 2 0 2-1 0-.5 2-2 2-.5 2 0 4 2 2 .5 2 0 4 1 1.5-1 .5-.5 .5-1.5 1.5-2ZM634 768l1-1.5 2 .5 2 1 1 2-1 2-2 2-2 .5-1.5-.5-.5-1 0-3ZM343.5 770l2 0 2 2-.5 1.5 0 .5-1.5 2-.5 0-2 .5-1.5-.5-2-2 .5-2 1-1 2-1ZM646.5 774l.5-.5 2 .5-.5 2-1.5 2-2 0 1-2ZM327 778l2-1 2 .5 1.5 .5 .5 .5 1 1.5-1 .5-4 0-1-.5ZM283 784l2-.5 2 1 1.5 1.5 0 2-2 2-1.5 1-2-1-1.5-2 0-2ZM428.5 786l.5 0 2-.5 1 .5 0 2-.5 2-1 0-2-2ZM446.5 788l.5-1 2 0 1 1-1 .5-2 0ZM289.5 792l1.5-1 2-.5 2 1.5 1 2-1 4 0 .5-.5 1.5-1.5 2 0 .5-1 1.5-3.5 0 .5-2 0-2-2-2-1-2 .5-2 .5-1 2-.5ZM316 798l1-.5 2 2 0 .5 .5 2 0 2-16.5 0 2-2 2 0 2-.5 2-1.5 2 0 2-1.5ZM242.5 804l.5-1 2-1 1.5 2-3.5 0ZM260 804l3-1.5 2 0 3 1.5-7 0ZM334 804l1-.5 .5 .5-.5 0Z"/>
<path fill="#ff8808" fill-rule="evenodd" d="M806 716l1-1 2-.5 2 1 .5 .5 .5 2-.5 2-.5 .5-2 0-.5-.5-1.5-1-1-1ZM790 738l1-.5 .5 .5 1.5 2 0 .5 .5 1.5-.5 1-2 1-2-1-1.5-1 .5-2 1-1.5ZM784 742l1-.5 1 .5-1 .5ZM787.5 756l1.5-1 2 .5 2 2 2 1 1-.5 1-1 1.5-1 .5-.5 1.5 .5 .5 0 2 1.5 .5 .5 1.5 2-.5 2-1.5 1.5-2 .5-1.5 2 0 10-.5 1.5-.5 .5-1.5 2-.5 0 0-2-1-2-.5-.5-4-2-1.5-1.5-.5-2 0-2 .5-2-.5-1.5-.5-.5-1.5-1-2-.5-.5-.5 .5-2 0-.5 2-3ZM560.5 772l.5 0 2-.5 1.5 .5 .5 .5 .5 1.5 0 2-1 2-.5 2-1 1.5-2-2-1-1.5-1-1-1.5-1 0-2 1.5-1ZM708.5 776l.5-.5 2-1.5 2 .5 1 1.5-1 1.5-.5 .5-1.5 1-2-.5-.5-.5ZM558 786l1-1.5 2 1.5 .5 2 0 8-.5 1.5-.5 .5-1.5 .5-2.5-2.5-1-2-.5-1.5 0-2.5 2-2ZM489 788l2-2 2 0 6 1.5 .5 .5 0 2-.5 .5-2 1.5 0 4.5-1.5 1.5-1 0-1.5-.5-4 0-.5 .5-1 4-.5 1.5-.5 .5-6.5 0 .5-2 0-2-1-4 1-2 .5-.5 2-.5 4 0 1.5-3 .5-1.5ZM713.5 788l1.5-1.5 4 1 4 2 .5 .5 1 2-1.5 2-6 0-2-1.5-.5-.5-1.5-2 0-.5ZM594 790l1-.5 2 0 1.5 .5 .5 .5 1 1.5 1 2 2 1.5 1 .5 1 1 .5 1 1.5 2 2 2 .5 0 1.5 1.5 1 .5-34 0 .5-2 .5-1.5 0-.5 .5-2 1.5-2 2-1.5 2.5-2.5 1.5-1 2-.5 2 .5 2-.5ZM606 790l1-.5 0 1ZM793.5 790l1.5-1.5 2 .5 3 3 3 6 .5 2-.5 .5-.5 1.5-1 2-29.5 0 1-1 2 0 2 .5 .5-1.5-.5-1-2-1-2-1.5-2 1 0 .5-1.5 2-.5 .5-.5 1.5-5.5 0 0-.5 2-3 .5-.5 .5-2 1-2 2-1 1.5 1 .5 .5 2 1 .5-1.5 1.5-1 2-1 4 1 2-.5 2-1 .5 .5 1.5 .5 2 1 2 .5 2-1.5 0-.5 .5-2ZM617.5 792l1.5-2 2 2 0 2-1 4-1 2-2 2-2-.5-.5-1.5 2-4 .5-2ZM731 794l0-.5 2 .5 1.5 2-.5 2-1 .5-1 1.5 .5 2 .5 .5 2 1.5 .5 0-18.5 0 2-1 1-1 1-.5 2-1.5 2.5 0 1.5-.5 2-2 1-1.5ZM177 800l2-.5 1 .5 .5 2-.5 2-3.5 0 0-2ZM565 802l2-1.5 2 0 .5 1.5 .5 2-7.5 0 .5-.5 2-1.5ZM671.5 802l1.5-.5 2 0 .5 .5 1.5 .5 2 .5 2-.5 2 0 2 .5 1 1-16 0 1-1.5ZM154 804l1-.5 .5 .5-.5 0ZM493 804l2-1.5 2 .5 .5 1-4.5 0ZM628 804l1-1.5 2 1 .5 .5-2.5 0ZM747.5 804l1.5-.5 2-.5 2 .5 .5 .5-4.5 0Z"/>
<path fill="#ef7707" fill-rule="evenodd" d="M583.5 804l1.5-2 2 1 .5 1-2.5 0Z"/>
<ellipse cx="282.9" cy="508" rx="1.6" ry="2.6" fill="#ffa030"/><path d="M282.5 510 L281 516" stroke="#ffe060" stroke-width="1" opacity=".7"/>
<g fill="#000" stroke="#000" stroke-width="0.6" stroke-linejoin="round">
<path d="M318.1 664.7L321.2 657.6L325.1 653.0L329.7 649.4L334.3 647.5L335.2 650.6L331.2 655.5L328.2 660.7L323.6 663.7L319.9 665.9Z"/>
<path d="M82.0 67.0L614.4 67.0L619.4 72.0L620.7 79.5L625.7 84.5L624.4 90.7L614.4 97.0L609.4 104.5L605.7 114.5L603.2 124.4L605.7 131.9L603.2 139.4L600.7 151.9L597.0 166.9L584.5 179.4L572.0 191.9L562.0 204.4L552.0 214.4L541.8 227.4L529.3 237.4L516.8 247.4L506.8 257.4L494.3 267.4L489.3 274.9L476.8 284.9L461.9 291.1L446.9 294.9L436.9 296.1L424.4 292.4L421.9 283.6L416.9 287.4L413.2 282.9L406.9 289.9L399.4 297.4L386.9 297.4L389.4 299.9L376.9 307.4L367.0 317.4L364.5 327.3L364.8 335.0L354.8 342.5L342.4 351.2L329.9 356.2L319.9 360.0L316.1 366.2L317.4 371.2L313.6 373.7L324.9 380.0L334.9 387.4L342.4 397.4L349.9 407.4L356.1 417.4L358.6 429.9L358.6 439.9L361.1 444.9L358.6 454.9L353.6 463.6L344.9 466.1L334.9 469.9L324.9 473.6L317.4 477.4L309.9 479.9L299.9 482.3L292.4 483.6L284.9 479.9L279.9 474.9L283.7 464.9L287.4 457.4L293.7 447.4L294.9 439.9L287.4 434.9L286.2 427.4L292.4 422.4L298.7 419.9L294.9 412.4L284.9 404.9L274.9 402.4L262.4 401.2L253.7 397.4L258.7 389.9L263.7 380.0L267.4 372.5L268.7 366.2L261.8 363.7L251.8 361.2L241.8 359.5L231.9 361.2L221.9 363.7L211.9 367.4L204.4 371.2L189.4 376.9L174.4 382.9L174.9 378.7L185.6 372.4L178.2 369.2L181.9 362.4L191.9 352.5L198.9 345.0L195.6 340.0L186.9 337.0L176.9 336.2L168.2 343.7L161.9 351.2L149.4 356.2L140.7 360.0L133.2 366.9L124.5 375.4L114.5 377.9L107.0 374.4L100.7 377.4L95.2 384.9L99.5 392.4L109.5 397.4L119.5 396.2L127.0 402.4L126.5 409.9L132.0 416.1L141.9 419.1L149.4 412.4L159.4 404.9L166.9 402.9L176.9 406.2L186.9 411.1L196.9 411.1L206.9 413.6L206.1 417.4L205.6 421.1L194.4 424.9L181.9 429.9L169.4 434.9L156.9 442.4L149.4 449.9L141.9 457.4L135.7 464.8L132.0 469.8L141.9 474.8L151.9 479.8L156.9 487.3L161.9 499.8L163.2 500.0L168.2 510.0L170.7 520.0L181.9 527.5L190.6 535.0L191.9 540.0L186.9 541.2L179.4 537.5L166.9 533.7L156.9 532.5L166.9 536.2L179.4 543.7L189.4 547.5L191.9 553.7L189.4 558.7L181.9 561.2L174.4 566.2L166.9 569.9L163.2 572.4L168.2 574.4L174.4 571.9L181.9 572.4L189.4 577.4L194.4 584.9L191.9 592.4L193.1 599.9L186.9 607.4L184.4 614.9L176.9 622.4L169.4 629.9L164.4 637.4L156.9 644.9L149.4 649.9L143.2 657.3L141.9 667.3L140.7 674.8L132.0 682.3L124.5 689.8L117.0 697.3L107.0 702.3L99.5 714.0L90.0 718.7L82.5 723.7L82.0 724.0Z"/>
<path d="M634.4 67.0L631.9 77.0L628.2 84.5L629.4 92.0L636.9 99.5L641.9 107.0L639.4 117.0L640.7 129.4L639.4 141.9L636.9 151.9L634.4 161.9L640.7 179.4L636.9 189.4L638.2 199.4L634.4 211.9L638.2 224.3L645.7 211.9L650.7 208.1L661.9 210.6L668.1 211.9L670.6 220.6L671.9 214.4L669.4 204.4L661.9 203.1L659.4 194.4L651.9 184.4L649.4 176.9L651.9 166.9L656.9 156.9L661.9 151.9L671.9 149.4L684.4 151.9L691.9 156.9L696.9 163.2L695.6 159.4L688.1 149.4L681.9 134.4L676.9 119.4L671.9 107.0L666.9 97.0L664.4 87.0L663.1 79.5L666.9 72.0L666.9 67.0Z"/>
<path d="M633.7 234.5L642.4 240.0L654.9 250.0L667.4 258.7L679.9 263.7L692.4 266.9L702.4 266.2L712.4 260.0L708.6 268.7L707.4 273.7L711.1 277.4L713.6 282.4L719.9 280.4L713.6 284.9L704.9 288.7L697.4 289.9L687.4 292.4L679.9 296.2L672.4 302.4L667.4 308.7L666.2 312.4L659.9 308.7L649.9 303.7L639.9 299.9L630.0 298.7L622.5 301.2L615.0 303.7L608.7 301.2L602.5 299.9L601.2 304.9L607.5 307.4L615.0 312.4L619.5 314.9L612.5 318.6L605.0 319.9L600.0 323.6L595.0 323.6L593.7 317.4L596.2 311.2L592.5 308.7L588.7 303.7L590.0 297.4L597.5 293.7L602.5 288.7L601.2 283.7L607.5 282.4L615.0 286.2L621.2 283.7L623.7 277.4L625.0 271.2L630.0 265.0L631.2 255.0L630.0 245.0L628.7 237.5Z"/>
<path d="M713.1 272.9L719.4 266.2L729.4 258.7L739.1 255.7L738.3 260.5L730.8 265.0L723.4 271.4L716.6 275.9Z"/>
<path d="M744.3 255.7L754.3 247.5L766.8 238.7L768.6 235.5L771.1 237.5L779.8 234.0L790.3 232.0L790.3 237.0L780.3 241.0L770.3 246.0L760.3 252.5L750.3 258.0L745.8 258.0Z"/>
<path d="M801.8 231.0L815.0 221.5L816.0 221.5L816.0 227.0L805.3 233.0Z"/>
<path d="M600.3 329.5L607.8 328.7L608.6 335.0L619.8 336.2L621.0 330.0L612.3 327.5L611.8 323.0L619.8 322.0L625.3 324.5L624.8 337.5L631.0 346.2L636.0 353.7L638.5 364.9L637.3 374.9L632.3 382.4L627.3 388.7L627.3 393.7L622.3 392.4L617.3 399.9L616.1 409.9L614.8 422.4L609.8 432.4L607.3 442.4L611.1 451.1L604.8 454.8L599.8 459.8L594.8 467.3L589.8 464.8L591.1 457.3L594.8 452.3L586.1 459.8L579.8 462.3L574.8 464.8L573.6 472.3L568.6 473.6L566.1 467.3L561.1 466.1L554.9 472.3L544.9 474.8L537.4 474.8L529.9 476.1L523.6 474.8L519.9 472.3L523.6 481.1L519.9 483.6L512.4 484.8L507.4 489.8L502.4 497.3L498.7 501.0L492.4 497.3L487.4 492.3L483.7 488.6L488.7 482.3L491.2 474.8L482.4 479.8L474.9 474.8L470.0 473.6L457.5 476.1L445.0 478.6L435.0 481.1L425.0 483.6L420.0 484.8L412.4 486.2L402.4 488.7L391.2 488.7L392.4 482.5L402.4 478.7L412.4 472.5L422.4 465.0L430.0 458.6L440.0 456.1L450.0 454.8L462.5 454.3L472.4 452.3L482.4 451.1L489.9 451.1L497.4 454.8L504.9 452.3L503.7 447.4L506.2 442.4L512.4 437.4L518.7 432.4L522.4 427.4L519.9 422.4L519.9 416.1L527.4 412.4L534.9 412.4L529.9 419.9L527.4 424.9L531.1 427.4L537.4 423.6L547.4 418.6L557.4 413.6L564.9 407.4L569.9 402.4L577.3 396.2L582.3 389.9L587.3 382.4L591.1 374.9L593.6 364.9L592.3 356.2L589.8 348.7L592.3 341.2L600.3 337.5Z"/>
<path d="M424.9 499.9L429.9 493.7L439.9 488.7L452.4 485.0L462.4 481.2L472.4 485.0L479.9 483.7L483.6 487.5L482.3 491.2L472.4 496.2L466.1 503.7L459.9 501.2L452.4 499.9L444.9 504.9L439.9 512.4L437.4 516.2L431.1 514.9L427.4 507.4L423.7 502.4Z"/>
<path d="M360.3 504.3L363.8 498.5L369.6 494.9L375.5 496.1L383.7 490.3L391.9 483.3L394.2 489.1L397.7 496.1L407.0 498.5L410.6 496.1L414.1 500.8L416.4 507.8L415.2 514.8L410.6 521.8L407.0 530.0L405.9 538.2L402.4 545.2L394.2 549.9L387.2 554.6L383.7 549.9L381.3 545.2L377.8 548.7L374.3 545.2L375.5 538.2L372.0 531.2L370.8 524.2L373.1 518.3L372.0 513.6L366.1 510.1L361.5 507.8Z"/>
<path d="M183.6 682.5L192.4 687.5L192.4 689.5L189.9 700.0L186.1 712.4L182.4 724.9L177.4 734.9L172.4 742.4L168.6 749.9L167.9 756.1L164.9 754.9L163.6 748.7L158.7 743.7L153.7 736.2L150.4 729.9L151.2 722.4L154.9 712.4L159.9 703.7L166.1 695.0L172.4 688.7L179.9 683.7Z"/>
<ellipse cx="294.9" cy="502.3" rx="9.0" ry="3.5" transform="rotate(-10 294.9 502.3)"/>
<ellipse cx="356.3" cy="479.9" rx="2.0" ry="7.0" transform="rotate(20 356.3 479.9)"/>
<ellipse cx="390.3" cy="411.4" rx="1.5" ry="1.5"/>
<ellipse cx="364.8" cy="493.6" rx="1.7" ry="1.7"/>
<ellipse cx="557.4" cy="398.7" rx="2.5" ry="6.0" transform="rotate(25 557.4 398.7)"/>
<ellipse cx="443.7" cy="438.6" rx="2.0" ry="2.0"/>
<ellipse cx="438.7" cy="442.9" rx="2.0" ry="1.5"/>
<ellipse cx="581.8" cy="308.2" rx="1.5" ry="2.2"/>
<ellipse cx="579.8" cy="472.3" rx="1.2" ry="1.2"/>
<ellipse cx="576.1" cy="479.8" rx="1.0" ry="1.0"/>
<ellipse cx="582.3" cy="486.8" rx="1.2" ry="1.2"/>
<ellipse cx="584.8" cy="492.3" rx="1.0" ry="1.0"/>
<ellipse cx="587.8" cy="509.3" rx="1.2" ry="1.2"/>
<ellipse cx="347.0" cy="512.9" rx="2.0" ry="9.0" transform="rotate(40 347.0 512.9)"/>
<ellipse cx="382.4" cy="570.4" rx="2.7" ry="2.5"/>
<ellipse cx="392.9" cy="564.9" rx="1.2" ry="5.7" transform="rotate(12 392.9 564.9)"/>
<ellipse cx="358.7" cy="616.1" rx="2.5" ry="7.0" transform="rotate(55 358.7 616.1)"/>
<ellipse cx="347.5" cy="626.8" rx="1.5" ry="2.5" transform="rotate(15 347.5 626.8)"/>
<ellipse cx="340.0" cy="636.1" rx="2.0" ry="1.0" transform="rotate(-25 340.0 636.1)"/>
<ellipse cx="311.4" cy="662.2" rx="2.0" ry="1.5"/>
<ellipse cx="299.2" cy="658.5" rx="1.5" ry="1.2"/>
<ellipse cx="399.0" cy="669.0" rx="1.2" ry="1.2"/>
<ellipse cx="370.0" cy="578.6" rx="0.7" ry="0.7"/>
<ellipse cx="365.0" cy="586.1" rx="0.7" ry="0.7"/>
<ellipse cx="361.2" cy="589.9" rx="0.7" ry="0.7"/>
<ellipse cx="370.0" cy="559.4" rx="1.0" ry="0.7"/>
<ellipse cx="376.2" cy="567.9" rx="1.0" ry="0.7"/>
<ellipse cx="366.2" cy="538.7" rx="1.0" ry="3.5" transform="rotate(45 366.2 538.7)"/>
<ellipse cx="615.7" cy="236.8" rx="1.5" ry="1.7"/>
<ellipse cx="619.9" cy="240.6" rx="1.7" ry="1.7"/>
<ellipse cx="742.3" cy="271.9" rx="3.5" ry="1.2" transform="rotate(-20 742.3 271.9)"/>
<ellipse cx="726.1" cy="280.4" rx="2.5" ry="0.7" transform="rotate(-20 726.1 280.4)"/>
<ellipse cx="139.4" cy="719.4" rx="1.7" ry="2.2"/>
<ellipse cx="238.6" cy="702.9" rx="6.5" ry="2.0" transform="rotate(-20 238.6 702.9)"/>
<ellipse cx="266.8" cy="693.0" rx="3.0" ry="1.7" transform="rotate(20 266.8 693.0)"/>
<ellipse cx="215.3" cy="700.7" rx="1.2" ry="1.0"/>
<ellipse cx="253.6" cy="695.5" rx="0.7" ry="0.7"/>
<ellipse cx="182.9" cy="754.4" rx="1.0" ry="1.2"/>
<ellipse cx="190.4" cy="783.6" rx="1.0" ry="2.0"/>
<ellipse cx="191.9" cy="791.9" rx="1.5" ry="2.0" transform="rotate(30 191.9 791.9)"/>
<ellipse cx="228.6" cy="671.2" rx="1.0" ry="0.7"/>
<ellipse cx="299.3" cy="658.6" rx="2.0" ry="1.2"/>
<ellipse cx="310.5" cy="662.3" rx="1.7" ry="1.2"/>
<ellipse cx="283.0" cy="478.0" rx="2.5" ry="2.0"/>
<ellipse cx="287.0" cy="483.5" rx="2.0" ry="1.5"/>
<ellipse cx="292.0" cy="485.0" rx="2.0" ry="1.5"/>
<ellipse cx="279.0" cy="472.0" rx="1.5" ry="2.0"/>
<ellipse cx="300.0" cy="484.5" rx="2.0" ry="1.5"/>
<ellipse cx="270.0" cy="474.0" rx="1.0" ry="1.0"/>
<ellipse cx="276.0" cy="480.0" rx="1.0" ry="1.0"/>
<ellipse cx="305.0" cy="483.0" rx="1.5" ry="1.2"/>
<ellipse cx="296.0" cy="488.0" rx="1.2" ry="1.0"/>
<ellipse cx="358.0" cy="497.0" rx="2.2" ry="4.0" transform="rotate(20 358.0 497.0)"/>
<ellipse cx="356.5" cy="507.0" rx="2.0" ry="3.0"/>
<ellipse cx="362.0" cy="516.0" rx="2.0" ry="2.5"/>
<ellipse cx="352.0" cy="492.0" rx="1.5" ry="1.5"/>
<ellipse cx="199.4" cy="573.7" rx="5.5" ry="3.0" transform="rotate(-30 199.4 573.7)"/>
<ellipse cx="206.9" cy="562.4" rx="2.5" ry="1.5" transform="rotate(-30 206.9 562.4)"/>
<ellipse cx="193.1" cy="582.4" rx="3.0" ry="2.0"/>
<ellipse cx="188.1" cy="594.9" rx="2.0" ry="2.5"/>
<ellipse cx="201.9" cy="567.4" rx="2.0" ry="1.2"/>
<ellipse cx="175.7" cy="622.4" rx="1.5" ry="2.0"/>
<ellipse cx="145.7" cy="659.8" rx="1.5" ry="2.0"/>
</g>
<path fill="#78f7ff" d="M393.7 490.0L404.9 488.2L410.4 492.9L408.9 499.9L402.4 498.9L396.2 496.4Z"/>
<path fill="#78f7ff" d="M416.2 496.4L424.9 490.0L434.9 486.5L444.9 484.5L453.6 482.0L464.9 477.5L466.1 481.2L454.9 486.2L442.4 489.2L432.4 491.7L422.9 496.4Z"/>
<path fill="#78f7ff" d="M464.9 475.0L479.9 473.2L490.3 474.5L489.3 481.2L479.9 484.0L472.4 483.0L466.1 480.5Z"/>
<path fill="#68e6ff" d="M517.3 467.0L523.8 466.0L527.8 471.0L526.3 476.5L519.8 475.2Z"/>
<path fill="#68e6ff" d="M518.7 466.1L523.6 466.8L524.4 474.8L519.9 472.8Z"/>
<path fill="#59d5ff" d="M588.6 454.3L592.8 452.8L592.3 458.6L589.3 459.8Z"/>
<path fill="#68e6ff" d="M376.2 508.7L382.4 509.9L383.7 516.2L378.7 517.4Z"/>
</g>
<rect x="82.5" y="67.5" width="732.5" height="732.5" fill="none" stroke="#000" stroke-width="1"/>
<path d="M149.5 67.5 V47.5 M149.5 800 V820 M371.5 67.5 V47.5 M371.5 800 V820 M593.5 67.5 V47.5 M593.5 800 V820 M815 67.5 V47.5 M815 800 V820 M82.5 134 H62.5 M815 134 H835 M82.5 356 H62.5 M815 356 H835 M82.5 578 H62.5 M815 578 H835 M82.5 800 H62.5 M815 800 H835" stroke="#3a3a3a" stroke-width="1.2" fill="none"/>
<text x="149.5" y="857.2" font-size="26.3" text-anchor="middle" textLength="58.6" lengthAdjust="spacingAndGlyphs">120E</text>
<text x="371.5" y="857.2" font-size="26.3" text-anchor="middle" textLength="58.6" lengthAdjust="spacingAndGlyphs">130E</text>
<text x="593.5" y="857.2" font-size="26.3" text-anchor="middle" textLength="58.6" lengthAdjust="spacingAndGlyphs">140E</text>
<text x="815" y="857.2" font-size="26.3" text-anchor="middle" textLength="58.6" lengthAdjust="spacingAndGlyphs">150E</text>
<text x="-0.6" y="143.2" font-size="27" textLength="47.2" lengthAdjust="spacingAndGlyphs">50N</text>
<text x="-0.6" y="365.2" font-size="27" textLength="47.2" lengthAdjust="spacingAndGlyphs">40N</text>
<text x="-0.6" y="587.2" font-size="27" textLength="47.2" lengthAdjust="spacingAndGlyphs">30N</text>
<text x="-0.6" y="809.2" font-size="27" textLength="47.2" lengthAdjust="spacingAndGlyphs">20N</text>
<text x="81.2" y="24.2" font-size="33" textLength="518.5" lengthAdjust="spacingAndGlyphs">sea surface temperature (20260119)</text>
<text x="782.4" y="15.2" font-size="22" textLength="12.2" lengthAdjust="spacingAndGlyphs">o</text>
<text x="793.4" y="30.5" font-size="35.5" textLength="24.4" lengthAdjust="spacingAndGlyphs">C</text>
<rect x="872.5" y="774.37" width="28.1" height="18.43" fill="#800080"/>
<rect x="872.5" y="756.24" width="28.1" height="18.43" fill="#711090"/>
<rect x="872.5" y="738.11" width="28.1" height="18.43" fill="#6220a0"/>
<rect x="872.5" y="719.98" width="28.1" height="18.43" fill="#5430b0"/>
<rect x="872.5" y="701.85" width="28.1" height="18.43" fill="#4540c0"/>
<rect x="872.5" y="683.72" width="28.1" height="18.43" fill="#3650cf"/>
<rect x="872.5" y="665.59" width="28.1" height="18.43" fill="#2860df"/>
<rect x="872.5" y="647.46" width="28.1" height="18.43" fill="#1970ef"/>
<rect x="872.5" y="629.33" width="28.1" height="18.43" fill="#0a80ff"/>
<rect x="872.5" y="611.20" width="28.1" height="18.43" fill="#1a91ff"/>
<rect x="872.5" y="593.07" width="28.1" height="18.43" fill="#29a2ff"/>
<rect x="872.5" y="574.94" width="28.1" height="18.43" fill="#39b3ff"/>
<rect x="872.5" y="556.81" width="28.1" height="18.43" fill="#49c4ff"/>
<rect x="872.5" y="538.68" width="28.1" height="18.43" fill="#59d5ff"/>
<rect x="872.5" y="520.55" width="28.1" height="18.43" fill="#68e6ff"/>
<rect x="872.5" y="502.42" width="28.1" height="18.43" fill="#78f7ff"/>
<rect x="872.5" y="484.29" width="28.1" height="18.43" fill="#80ffee"/>
<rect x="872.5" y="466.16" width="28.1" height="18.43" fill="#80ffcc"/>
<rect x="872.5" y="448.03" width="28.1" height="18.43" fill="#80ffa9"/>
<rect x="872.5" y="429.90" width="28.1" height="18.43" fill="#80ff87"/>
<rect x="872.5" y="411.77" width="28.1" height="18.43" fill="#98ff80"/>
<rect x="872.5" y="393.64" width="28.1" height="18.43" fill="#b5ff80"/>
<rect x="872.5" y="375.51" width="28.1" height="18.43" fill="#d3ff80"/>
<rect x="872.5" y="357.38" width="28.1" height="18.43" fill="#f0ff80"/>
<rect x="872.5" y="339.25" width="28.1" height="18.43" fill="#fff778"/>
<rect x="872.5" y="321.12" width="28.1" height="18.43" fill="#ffe768"/>
<rect x="872.5" y="302.99" width="28.1" height="18.43" fill="#ffd758"/>
<rect x="872.5" y="284.86" width="28.1" height="18.43" fill="#ffc748"/>
<rect x="872.5" y="266.73" width="28.1" height="18.43" fill="#ffb838"/>
<rect x="872.5" y="248.60" width="28.1" height="18.43" fill="#ffa828"/>
<rect x="872.5" y="230.47" width="28.1" height="18.43" fill="#ff9818"/>
<rect x="872.5" y="212.34" width="28.1" height="18.43" fill="#ff8808"/>
<rect x="872.5" y="194.21" width="28.1" height="18.43" fill="#ef7707"/>
<rect x="872.5" y="176.08" width="28.1" height="18.43" fill="#df6606"/>
<rect x="872.5" y="157.95" width="28.1" height="18.43" fill="#cf5505"/>
<rect x="872.5" y="139.82" width="28.1" height="18.43" fill="#c04404"/>
<rect x="872.5" y="121.69" width="28.1" height="18.43" fill="#b03303"/>
<rect x="872.5" y="103.56" width="28.1" height="18.43" fill="#a02202"/>
<rect x="872.5" y="85.43" width="28.1" height="18.43" fill="#901101"/>
<rect x="872.5" y="67.30" width="28.1" height="18.43" fill="#800000"/>
<path d="M872.5 85.43 H900.6 M872.5 103.56 H900.6 M872.5 121.69 H900.6 M872.5 139.82 H900.6 M872.5 157.95 H900.6 M872.5 176.08 H900.6 M872.5 194.21 H900.6 M872.5 212.34 H900.6 M872.5 230.47 H900.6 M872.5 248.60 H900.6 M872.5 266.73 H900.6 M872.5 284.86 H900.6 M872.5 302.99 H900.6 M872.5 321.12 H900.6 M872.5 339.25 H900.6 M872.5 357.38 H900.6 M872.5 375.51 H900.6 M872.5 393.64 H900.6 M872.5 411.77 H900.6 M872.5 429.90 H900.6 M872.5 448.03 H900.6 M872.5 466.16 H900.6 M872.5 484.29 H900.6 M872.5 502.42 H900.6 M872.5 520.55 H900.6 M872.5 538.68 H900.6 M872.5 556.81 H900.6 M872.5 574.94 H900.6 M872.5 593.07 H900.6 M872.5 611.20 H900.6 M872.5 629.33 H900.6 M872.5 647.46 H900.6 M872.5 665.59 H900.6 M872.5 683.72 H900.6 M872.5 701.85 H900.6 M872.5 719.98 H900.6 M872.5 738.11 H900.6 M872.5 756.24 H900.6 M872.5 774.37 H900.6" stroke="#000" stroke-width="0.8" fill="none" opacity="0.85"/>
<rect x="872.5" y="67.3" width="28.1" height="725.20" fill="none" stroke="#666" stroke-width="1"/>
<text x="927.7" y="729.0" font-size="26.6" text-anchor="middle" textLength="14.7" lengthAdjust="spacingAndGlyphs">0</text>
<text x="927.7" y="547.7" font-size="26.6" text-anchor="middle" textLength="29.4" lengthAdjust="spacingAndGlyphs">10</text>
<text x="927.7" y="366.4" font-size="26.6" text-anchor="middle" textLength="29.4" lengthAdjust="spacingAndGlyphs">20</text>
<text x="927.7" y="185.1" font-size="26.6" text-anchor="middle" textLength="29.4" lengthAdjust="spacingAndGlyphs">30</text>
</svg></body></html>
